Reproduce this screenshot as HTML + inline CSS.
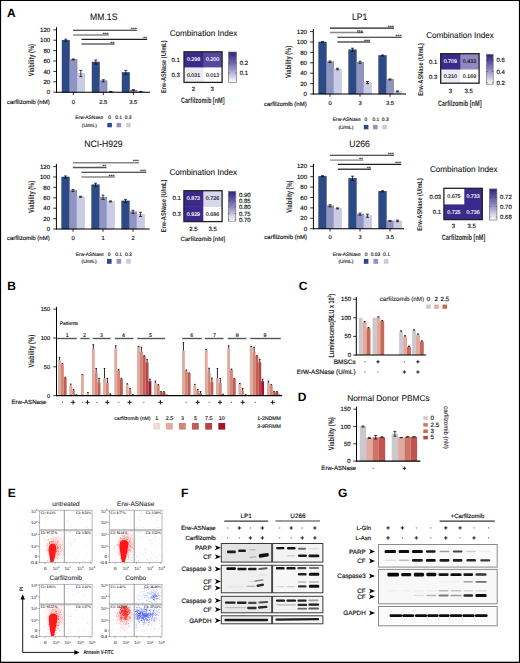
<!DOCTYPE html>
<html><head><meta charset="utf-8"><style>
html,body{margin:0;padding:0;background:#fff;}
body{width:520px;height:663px;overflow:hidden;}
svg{display:block;font-family:"Liberation Sans",sans-serif;text-rendering:geometricPrecision;}
</style></head><body>
<svg width="520" height="663" viewBox="0 0 520 663">
<rect x="0" y="0" width="520" height="663" fill="#fff"/>
<text x="7" y="16.83" font-size="12" text-anchor="start" fill="#000" font-weight="bold">A</text>
<line x1="56.5" y1="27.2" x2="56.5" y2="92.7" stroke="#000" stroke-width="1"/>
<line x1="53.3" y1="92.2" x2="56.5" y2="92.2" stroke="#000" stroke-width="0.8"/>
<text x="50.2" y="94.3" font-size="6.1" text-anchor="end" fill="#111" stroke="#111" stroke-width="0.16">0</text>
<line x1="53.3" y1="81.8" x2="56.5" y2="81.8" stroke="#000" stroke-width="0.8"/>
<text x="50.2" y="83.9" font-size="6.1" text-anchor="end" fill="#111" stroke="#111" stroke-width="0.16">20</text>
<line x1="53.3" y1="71.4" x2="56.5" y2="71.4" stroke="#000" stroke-width="0.8"/>
<text x="50.2" y="73.5" font-size="6.1" text-anchor="end" fill="#111" stroke="#111" stroke-width="0.16">40</text>
<line x1="53.3" y1="61" x2="56.5" y2="61" stroke="#000" stroke-width="0.8"/>
<text x="50.2" y="63.1" font-size="6.1" text-anchor="end" fill="#111" stroke="#111" stroke-width="0.16">60</text>
<line x1="53.3" y1="50.6" x2="56.5" y2="50.6" stroke="#000" stroke-width="0.8"/>
<text x="50.2" y="52.7" font-size="6.1" text-anchor="end" fill="#111" stroke="#111" stroke-width="0.16">80</text>
<line x1="53.3" y1="40.2" x2="56.5" y2="40.2" stroke="#000" stroke-width="0.8"/>
<text x="50.2" y="42.3" font-size="6.1" text-anchor="end" fill="#111" stroke="#111" stroke-width="0.16">100</text>
<line x1="53.3" y1="29.8" x2="56.5" y2="29.8" stroke="#000" stroke-width="0.8"/>
<text x="50.2" y="31.9" font-size="6.1" text-anchor="end" fill="#111" stroke="#111" stroke-width="0.16">120</text>
<rect x="62.05" y="40.2" width="7.5" height="52" fill="#2c4a86" stroke="#1e3668" stroke-width="0.5"/>
<line x1="65.8" y1="39.16" x2="65.8" y2="41.24" stroke="#111" stroke-width="0.8"/>
<line x1="64.3" y1="39.16" x2="67.3" y2="39.16" stroke="#111" stroke-width="0.8"/>
<line x1="64.3" y1="41.24" x2="67.3" y2="41.24" stroke="#111" stroke-width="0.8"/>
<rect x="69.55" y="59.44" width="7.5" height="32.76" fill="#8f94c0" stroke="#70769f" stroke-width="0.5"/>
<line x1="73.3" y1="58.92" x2="73.3" y2="59.96" stroke="#111" stroke-width="0.8"/>
<line x1="71.8" y1="58.92" x2="74.8" y2="58.92" stroke="#111" stroke-width="0.8"/>
<line x1="71.8" y1="59.96" x2="74.8" y2="59.96" stroke="#111" stroke-width="0.8"/>
<rect x="77.05" y="73.48" width="7.5" height="18.72" fill="#c9cce4" stroke="#aeb2d0" stroke-width="0.5"/>
<line x1="80.8" y1="70.36" x2="80.8" y2="76.6" stroke="#111" stroke-width="0.8"/>
<line x1="79.3" y1="70.36" x2="82.3" y2="70.36" stroke="#111" stroke-width="0.8"/>
<line x1="79.3" y1="76.6" x2="82.3" y2="76.6" stroke="#111" stroke-width="0.8"/>
<line x1="73.3" y1="92.2" x2="73.3" y2="95" stroke="#000" stroke-width="0.8"/>
<text x="73.3" y="103.7" font-size="5.8" text-anchor="middle" fill="#111" stroke="#111" stroke-width="0.15">0</text>
<rect x="92.05" y="62.04" width="7.5" height="30.16" fill="#2c4a86" stroke="#1e3668" stroke-width="0.5"/>
<line x1="95.8" y1="59.96" x2="95.8" y2="64.12" stroke="#111" stroke-width="0.8"/>
<line x1="94.3" y1="59.96" x2="97.3" y2="59.96" stroke="#111" stroke-width="0.8"/>
<line x1="94.3" y1="64.12" x2="97.3" y2="64.12" stroke="#111" stroke-width="0.8"/>
<rect x="99.55" y="80.76" width="7.5" height="11.44" fill="#8f94c0" stroke="#70769f" stroke-width="0.5"/>
<line x1="103.3" y1="79.72" x2="103.3" y2="81.8" stroke="#111" stroke-width="0.8"/>
<line x1="101.8" y1="79.72" x2="104.8" y2="79.72" stroke="#111" stroke-width="0.8"/>
<line x1="101.8" y1="81.8" x2="104.8" y2="81.8" stroke="#111" stroke-width="0.8"/>
<rect x="107.05" y="91.68" width="7.5" height="0.52" fill="#c9cce4" stroke="#aeb2d0" stroke-width="0.5"/>
<line x1="110.8" y1="91.37" x2="110.8" y2="91.99" stroke="#111" stroke-width="0.8"/>
<line x1="109.3" y1="91.37" x2="112.3" y2="91.37" stroke="#111" stroke-width="0.8"/>
<line x1="109.3" y1="91.99" x2="112.3" y2="91.99" stroke="#111" stroke-width="0.8"/>
<line x1="103.3" y1="92.2" x2="103.3" y2="95" stroke="#000" stroke-width="0.8"/>
<text x="103.3" y="103.7" font-size="5.8" text-anchor="middle" fill="#111" stroke="#111" stroke-width="0.15">2.5</text>
<rect x="122.05" y="72.44" width="7.5" height="19.76" fill="#2c4a86" stroke="#1e3668" stroke-width="0.5"/>
<line x1="125.8" y1="70.36" x2="125.8" y2="74.52" stroke="#111" stroke-width="0.8"/>
<line x1="124.3" y1="70.36" x2="127.3" y2="70.36" stroke="#111" stroke-width="0.8"/>
<line x1="124.3" y1="74.52" x2="127.3" y2="74.52" stroke="#111" stroke-width="0.8"/>
<rect x="129.55" y="90.12" width="7.5" height="2.08" fill="#8f94c0" stroke="#70769f" stroke-width="0.5"/>
<line x1="133.3" y1="89.6" x2="133.3" y2="90.64" stroke="#111" stroke-width="0.8"/>
<line x1="131.8" y1="89.6" x2="134.8" y2="89.6" stroke="#111" stroke-width="0.8"/>
<line x1="131.8" y1="90.64" x2="134.8" y2="90.64" stroke="#111" stroke-width="0.8"/>
<rect x="137.05" y="91.68" width="7.5" height="0.52" fill="#c9cce4" stroke="#aeb2d0" stroke-width="0.5"/>
<line x1="140.8" y1="91.37" x2="140.8" y2="91.99" stroke="#111" stroke-width="0.8"/>
<line x1="139.3" y1="91.37" x2="142.3" y2="91.37" stroke="#111" stroke-width="0.8"/>
<line x1="139.3" y1="91.99" x2="142.3" y2="91.99" stroke="#111" stroke-width="0.8"/>
<line x1="133.3" y1="92.2" x2="133.3" y2="95" stroke="#000" stroke-width="0.8"/>
<text x="133.3" y="103.7" font-size="5.8" text-anchor="middle" fill="#111" stroke="#111" stroke-width="0.15">3.5</text>
<line x1="56" y1="92.2" x2="150" y2="92.2" stroke="#000" stroke-width="1.1"/>
<text x="7" y="103.56" font-size="6" text-anchor="start" fill="#111" stroke="#111" stroke-width="0.16">carfilzomib (nM)</text>
<text transform="translate(103.75 20.23) scale(0.92 1)" font-size="9.4" text-anchor="middle" fill="#111" stroke="#111" stroke-width="0.08">MM.1S</text>
<text transform="translate(31 60.2) rotate(-90) scale(0.71 1)" x="0" y="2.75" font-size="8" text-anchor="middle" fill="#2a2a2a" font-weight="bold">Viability (%)</text>
<line x1="73" y1="30.2" x2="136.9" y2="30.2" stroke="#1e1e1e" stroke-width="1.1"/>
<text x="136.7" y="30.79" font-size="5.2" text-anchor="end" fill="#222" font-weight="bold">***</text>
<line x1="73" y1="35" x2="108.8" y2="35" stroke="#888" stroke-width="1.45"/>
<text x="108.6" y="35.59" font-size="5.2" text-anchor="end" fill="#222" font-weight="bold">***</text>
<line x1="81.5" y1="39.4" x2="147.2" y2="39.4" stroke="#1e1e1e" stroke-width="1.1"/>
<text x="147" y="39.99" font-size="5.2" text-anchor="end" fill="#222" font-weight="bold">**</text>
<line x1="81.5" y1="44" x2="114.6" y2="44" stroke="#666" stroke-width="1.45"/>
<text x="114.4" y="44.59" font-size="5.2" text-anchor="end" fill="#222" font-weight="bold">**</text>
<text x="103.3" y="119.49" font-size="4.9" text-anchor="end" fill="#111" stroke="#111" stroke-width="0.13">Erw-ASNase</text>
<text x="89.3" y="126.69" font-size="4.9" text-anchor="middle" fill="#111" stroke="#111" stroke-width="0.13">(U/mL)</text>
<text x="109.5" y="119.49" font-size="4.9" text-anchor="middle" fill="#111" stroke="#111" stroke-width="0.13">0</text>
<text x="118.6" y="119.49" font-size="4.9" text-anchor="middle" fill="#111" stroke="#111" stroke-width="0.13">0.1</text>
<text x="128.1" y="119.49" font-size="4.9" text-anchor="middle" fill="#111" stroke="#111" stroke-width="0.13">0.3</text>
<rect x="107.3" y="122.9" width="4.6" height="4.4" fill="#2c4a86"/>
<rect x="116.6" y="122.9" width="4.6" height="4.4" fill="#8f94c0"/>
<rect x="126.2" y="122.9" width="4.6" height="4.4" fill="#c9cce4"/>
<line x1="313.3" y1="29" x2="313.3" y2="94.5" stroke="#000" stroke-width="1"/>
<line x1="310.1" y1="94" x2="313.3" y2="94" stroke="#000" stroke-width="0.8"/>
<text x="307" y="96.1" font-size="6.1" text-anchor="end" fill="#111" stroke="#111" stroke-width="0.16">0</text>
<line x1="310.1" y1="83.6" x2="313.3" y2="83.6" stroke="#000" stroke-width="0.8"/>
<text x="307" y="85.7" font-size="6.1" text-anchor="end" fill="#111" stroke="#111" stroke-width="0.16">20</text>
<line x1="310.1" y1="73.2" x2="313.3" y2="73.2" stroke="#000" stroke-width="0.8"/>
<text x="307" y="75.3" font-size="6.1" text-anchor="end" fill="#111" stroke="#111" stroke-width="0.16">40</text>
<line x1="310.1" y1="62.8" x2="313.3" y2="62.8" stroke="#000" stroke-width="0.8"/>
<text x="307" y="64.9" font-size="6.1" text-anchor="end" fill="#111" stroke="#111" stroke-width="0.16">60</text>
<line x1="310.1" y1="52.4" x2="313.3" y2="52.4" stroke="#000" stroke-width="0.8"/>
<text x="307" y="54.5" font-size="6.1" text-anchor="end" fill="#111" stroke="#111" stroke-width="0.16">80</text>
<line x1="310.1" y1="42" x2="313.3" y2="42" stroke="#000" stroke-width="0.8"/>
<text x="307" y="44.1" font-size="6.1" text-anchor="end" fill="#111" stroke="#111" stroke-width="0.16">100</text>
<line x1="310.1" y1="31.6" x2="313.3" y2="31.6" stroke="#000" stroke-width="0.8"/>
<text x="307" y="33.7" font-size="6.1" text-anchor="end" fill="#111" stroke="#111" stroke-width="0.16">120</text>
<rect x="318.75" y="42" width="7.5" height="52" fill="#2c4a86" stroke="#1e3668" stroke-width="0.5"/>
<line x1="322.5" y1="41.69" x2="322.5" y2="42.31" stroke="#111" stroke-width="0.8"/>
<line x1="321" y1="41.69" x2="324" y2="41.69" stroke="#111" stroke-width="0.8"/>
<line x1="321" y1="42.31" x2="324" y2="42.31" stroke="#111" stroke-width="0.8"/>
<rect x="326.25" y="61.76" width="7.5" height="32.24" fill="#8f94c0" stroke="#70769f" stroke-width="0.5"/>
<line x1="330" y1="60.98" x2="330" y2="62.54" stroke="#111" stroke-width="0.8"/>
<line x1="328.5" y1="60.98" x2="331.5" y2="60.98" stroke="#111" stroke-width="0.8"/>
<line x1="328.5" y1="62.54" x2="331.5" y2="62.54" stroke="#111" stroke-width="0.8"/>
<rect x="333.75" y="69.04" width="7.5" height="24.96" fill="#c9cce4" stroke="#aeb2d0" stroke-width="0.5"/>
<line x1="337.5" y1="68.26" x2="337.5" y2="69.82" stroke="#111" stroke-width="0.8"/>
<line x1="336" y1="68.26" x2="339" y2="68.26" stroke="#111" stroke-width="0.8"/>
<line x1="336" y1="69.82" x2="339" y2="69.82" stroke="#111" stroke-width="0.8"/>
<line x1="330" y1="94" x2="330" y2="96.8" stroke="#000" stroke-width="0.8"/>
<text x="330" y="105.3" font-size="5.8" text-anchor="middle" fill="#111" stroke="#111" stroke-width="0.15">0</text>
<rect x="348.75" y="49.8" width="7.5" height="44.2" fill="#2c4a86" stroke="#1e3668" stroke-width="0.5"/>
<line x1="352.5" y1="48.24" x2="352.5" y2="51.36" stroke="#111" stroke-width="0.8"/>
<line x1="351" y1="48.24" x2="354" y2="48.24" stroke="#111" stroke-width="0.8"/>
<line x1="351" y1="51.36" x2="354" y2="51.36" stroke="#111" stroke-width="0.8"/>
<rect x="356.25" y="62.28" width="7.5" height="31.72" fill="#8f94c0" stroke="#70769f" stroke-width="0.5"/>
<line x1="360" y1="61.24" x2="360" y2="63.32" stroke="#111" stroke-width="0.8"/>
<line x1="358.5" y1="61.24" x2="361.5" y2="61.24" stroke="#111" stroke-width="0.8"/>
<line x1="358.5" y1="63.32" x2="361.5" y2="63.32" stroke="#111" stroke-width="0.8"/>
<rect x="363.75" y="82.56" width="7.5" height="11.44" fill="#c9cce4" stroke="#aeb2d0" stroke-width="0.5"/>
<line x1="367.5" y1="81.52" x2="367.5" y2="83.6" stroke="#111" stroke-width="0.8"/>
<line x1="366" y1="81.52" x2="369" y2="81.52" stroke="#111" stroke-width="0.8"/>
<line x1="366" y1="83.6" x2="369" y2="83.6" stroke="#111" stroke-width="0.8"/>
<line x1="360" y1="94" x2="360" y2="96.8" stroke="#000" stroke-width="0.8"/>
<text x="360" y="105.3" font-size="5.8" text-anchor="middle" fill="#111" stroke="#111" stroke-width="0.15">3</text>
<rect x="378.75" y="55.52" width="7.5" height="38.48" fill="#2c4a86" stroke="#1e3668" stroke-width="0.5"/>
<line x1="382.5" y1="55" x2="382.5" y2="56.04" stroke="#111" stroke-width="0.8"/>
<line x1="381" y1="55" x2="384" y2="55" stroke="#111" stroke-width="0.8"/>
<line x1="381" y1="56.04" x2="384" y2="56.04" stroke="#111" stroke-width="0.8"/>
<rect x="386.25" y="79.44" width="7.5" height="14.56" fill="#8f94c0" stroke="#70769f" stroke-width="0.5"/>
<line x1="390" y1="78.92" x2="390" y2="79.96" stroke="#111" stroke-width="0.8"/>
<line x1="388.5" y1="78.92" x2="391.5" y2="78.92" stroke="#111" stroke-width="0.8"/>
<line x1="388.5" y1="79.96" x2="391.5" y2="79.96" stroke="#111" stroke-width="0.8"/>
<rect x="393.75" y="91.4" width="7.5" height="2.6" fill="#c9cce4" stroke="#aeb2d0" stroke-width="0.5"/>
<line x1="397.5" y1="90.88" x2="397.5" y2="91.92" stroke="#111" stroke-width="0.8"/>
<line x1="396" y1="90.88" x2="399" y2="90.88" stroke="#111" stroke-width="0.8"/>
<line x1="396" y1="91.92" x2="399" y2="91.92" stroke="#111" stroke-width="0.8"/>
<line x1="390" y1="94" x2="390" y2="96.8" stroke="#000" stroke-width="0.8"/>
<text x="390" y="105.3" font-size="5.8" text-anchor="middle" fill="#111" stroke="#111" stroke-width="0.15">3.5</text>
<line x1="312.8" y1="94" x2="406" y2="94" stroke="#000" stroke-width="1.1"/>
<text x="264" y="105.86" font-size="6" text-anchor="start" fill="#111" stroke="#111" stroke-width="0.16">carfilzomib (nM)</text>
<text transform="translate(359.75 19.98) scale(0.92 1)" font-size="9.4" text-anchor="middle" fill="#111" stroke="#111" stroke-width="0.08">LP1</text>
<text transform="translate(288.5 62) rotate(-90) scale(0.71 1)" x="0" y="2.75" font-size="8" text-anchor="middle" fill="#2a2a2a" font-weight="bold">Viability (%)</text>
<line x1="329.9" y1="28.1" x2="394" y2="28.1" stroke="#1e1e1e" stroke-width="1.1"/>
<text x="393.8" y="28.69" font-size="5.2" text-anchor="end" fill="#222" font-weight="bold">***</text>
<line x1="329.9" y1="32.6" x2="363.3" y2="32.6" stroke="#888" stroke-width="1.45"/>
<text x="363.1" y="33.19" font-size="5.2" text-anchor="end" fill="#222" font-weight="bold">ns</text>
<line x1="337.3" y1="37.3" x2="401.8" y2="37.3" stroke="#1e1e1e" stroke-width="1.1"/>
<text x="401.6" y="37.89" font-size="5.2" text-anchor="end" fill="#222" font-weight="bold">***</text>
<line x1="337.3" y1="42" x2="370.2" y2="42" stroke="#555" stroke-width="1.45"/>
<text x="370" y="42.59" font-size="5.2" text-anchor="end" fill="#222" font-weight="bold">***</text>
<text x="360.8" y="121.19" font-size="4.9" text-anchor="end" fill="#111" stroke="#111" stroke-width="0.13">Erw-ASNase</text>
<text x="345.9" y="128.89" font-size="4.9" text-anchor="middle" fill="#111" stroke="#111" stroke-width="0.13">(U/mL)</text>
<text x="365.8" y="121.19" font-size="4.9" text-anchor="middle" fill="#111" stroke="#111" stroke-width="0.13">0</text>
<text x="375.9" y="121.19" font-size="4.9" text-anchor="middle" fill="#111" stroke="#111" stroke-width="0.13">0.1</text>
<text x="385.25" y="121.19" font-size="4.9" text-anchor="middle" fill="#111" stroke="#111" stroke-width="0.13">0.3</text>
<rect x="363.8" y="124.9" width="4.6" height="4.4" fill="#2c4a86"/>
<rect x="373" y="124.9" width="4.6" height="4.4" fill="#8f94c0"/>
<rect x="382.3" y="124.9" width="4.6" height="4.4" fill="#c9cce4"/>
<line x1="56.4" y1="163.9" x2="56.4" y2="229.5" stroke="#000" stroke-width="1"/>
<line x1="53.2" y1="229" x2="56.4" y2="229" stroke="#000" stroke-width="0.8"/>
<text x="50.1" y="231.1" font-size="6.1" text-anchor="end" fill="#111" stroke="#111" stroke-width="0.16">0</text>
<line x1="53.2" y1="218.6" x2="56.4" y2="218.6" stroke="#000" stroke-width="0.8"/>
<text x="50.1" y="220.7" font-size="6.1" text-anchor="end" fill="#111" stroke="#111" stroke-width="0.16">20</text>
<line x1="53.2" y1="208.2" x2="56.4" y2="208.2" stroke="#000" stroke-width="0.8"/>
<text x="50.1" y="210.3" font-size="6.1" text-anchor="end" fill="#111" stroke="#111" stroke-width="0.16">40</text>
<line x1="53.2" y1="197.8" x2="56.4" y2="197.8" stroke="#000" stroke-width="0.8"/>
<text x="50.1" y="199.9" font-size="6.1" text-anchor="end" fill="#111" stroke="#111" stroke-width="0.16">60</text>
<line x1="53.2" y1="187.4" x2="56.4" y2="187.4" stroke="#000" stroke-width="0.8"/>
<text x="50.1" y="189.5" font-size="6.1" text-anchor="end" fill="#111" stroke="#111" stroke-width="0.16">80</text>
<line x1="53.2" y1="177" x2="56.4" y2="177" stroke="#000" stroke-width="0.8"/>
<text x="50.1" y="179.1" font-size="6.1" text-anchor="end" fill="#111" stroke="#111" stroke-width="0.16">100</text>
<line x1="53.2" y1="166.6" x2="56.4" y2="166.6" stroke="#000" stroke-width="0.8"/>
<text x="50.1" y="168.7" font-size="6.1" text-anchor="end" fill="#111" stroke="#111" stroke-width="0.16">120</text>
<rect x="61.75" y="177" width="7.5" height="52" fill="#2c4a86" stroke="#1e3668" stroke-width="0.5"/>
<line x1="65.5" y1="175.96" x2="65.5" y2="178.04" stroke="#111" stroke-width="0.8"/>
<line x1="64" y1="175.96" x2="67" y2="175.96" stroke="#111" stroke-width="0.8"/>
<line x1="64" y1="178.04" x2="67" y2="178.04" stroke="#111" stroke-width="0.8"/>
<rect x="69.25" y="190.52" width="7.5" height="38.48" fill="#8f94c0" stroke="#70769f" stroke-width="0.5"/>
<line x1="73" y1="189.48" x2="73" y2="191.56" stroke="#111" stroke-width="0.8"/>
<line x1="71.5" y1="189.48" x2="74.5" y2="189.48" stroke="#111" stroke-width="0.8"/>
<line x1="71.5" y1="191.56" x2="74.5" y2="191.56" stroke="#111" stroke-width="0.8"/>
<rect x="76.75" y="196.76" width="7.5" height="32.24" fill="#c9cce4" stroke="#aeb2d0" stroke-width="0.5"/>
<line x1="80.5" y1="196.24" x2="80.5" y2="197.28" stroke="#111" stroke-width="0.8"/>
<line x1="79" y1="196.24" x2="82" y2="196.24" stroke="#111" stroke-width="0.8"/>
<line x1="79" y1="197.28" x2="82" y2="197.28" stroke="#111" stroke-width="0.8"/>
<line x1="73" y1="229" x2="73" y2="231.8" stroke="#000" stroke-width="0.8"/>
<text x="73" y="240.2" font-size="5.8" text-anchor="middle" fill="#111" stroke="#111" stroke-width="0.15">0</text>
<rect x="91.75" y="184.8" width="7.5" height="44.2" fill="#2c4a86" stroke="#1e3668" stroke-width="0.5"/>
<line x1="95.5" y1="183.24" x2="95.5" y2="186.36" stroke="#111" stroke-width="0.8"/>
<line x1="94" y1="183.24" x2="97" y2="183.24" stroke="#111" stroke-width="0.8"/>
<line x1="94" y1="186.36" x2="97" y2="186.36" stroke="#111" stroke-width="0.8"/>
<rect x="99.25" y="197.28" width="7.5" height="31.72" fill="#8f94c0" stroke="#70769f" stroke-width="0.5"/>
<line x1="103" y1="195.2" x2="103" y2="199.36" stroke="#111" stroke-width="0.8"/>
<line x1="101.5" y1="195.2" x2="104.5" y2="195.2" stroke="#111" stroke-width="0.8"/>
<line x1="101.5" y1="199.36" x2="104.5" y2="199.36" stroke="#111" stroke-width="0.8"/>
<rect x="106.75" y="201.44" width="7.5" height="27.56" fill="#c9cce4" stroke="#aeb2d0" stroke-width="0.5"/>
<line x1="110.5" y1="200.92" x2="110.5" y2="201.96" stroke="#111" stroke-width="0.8"/>
<line x1="109" y1="200.92" x2="112" y2="200.92" stroke="#111" stroke-width="0.8"/>
<line x1="109" y1="201.96" x2="112" y2="201.96" stroke="#111" stroke-width="0.8"/>
<line x1="103" y1="229" x2="103" y2="231.8" stroke="#000" stroke-width="0.8"/>
<text x="103" y="240.2" font-size="5.8" text-anchor="middle" fill="#111" stroke="#111" stroke-width="0.15">1</text>
<rect x="121.75" y="200.92" width="7.5" height="28.08" fill="#2c4a86" stroke="#1e3668" stroke-width="0.5"/>
<line x1="125.5" y1="199.36" x2="125.5" y2="202.48" stroke="#111" stroke-width="0.8"/>
<line x1="124" y1="199.36" x2="127" y2="199.36" stroke="#111" stroke-width="0.8"/>
<line x1="124" y1="202.48" x2="127" y2="202.48" stroke="#111" stroke-width="0.8"/>
<rect x="129.25" y="211.84" width="7.5" height="17.16" fill="#8f94c0" stroke="#70769f" stroke-width="0.5"/>
<line x1="133" y1="210.28" x2="133" y2="213.4" stroke="#111" stroke-width="0.8"/>
<line x1="131.5" y1="210.28" x2="134.5" y2="210.28" stroke="#111" stroke-width="0.8"/>
<line x1="131.5" y1="213.4" x2="134.5" y2="213.4" stroke="#111" stroke-width="0.8"/>
<rect x="136.75" y="214.44" width="7.5" height="14.56" fill="#c9cce4" stroke="#aeb2d0" stroke-width="0.5"/>
<line x1="140.5" y1="212.36" x2="140.5" y2="216.52" stroke="#111" stroke-width="0.8"/>
<line x1="139" y1="212.36" x2="142" y2="212.36" stroke="#111" stroke-width="0.8"/>
<line x1="139" y1="216.52" x2="142" y2="216.52" stroke="#111" stroke-width="0.8"/>
<line x1="133" y1="229" x2="133" y2="231.8" stroke="#000" stroke-width="0.8"/>
<text x="133" y="240.2" font-size="5.8" text-anchor="middle" fill="#111" stroke="#111" stroke-width="0.15">2</text>
<line x1="55.9" y1="229" x2="149.7" y2="229" stroke="#000" stroke-width="1.1"/>
<text x="7" y="240.06" font-size="6" text-anchor="start" fill="#111" stroke="#111" stroke-width="0.16">carfilzomib (nM)</text>
<text transform="translate(103.5 146.98) scale(0.92 1)" font-size="9.4" text-anchor="middle" fill="#111" stroke="#111" stroke-width="0.08">NCI-H929</text>
<text transform="translate(31.5 197) rotate(-90) scale(0.71 1)" x="0" y="2.75" font-size="8" text-anchor="middle" fill="#2a2a2a" font-weight="bold">Viability (%)</text>
<line x1="72.8" y1="162.8" x2="139" y2="162.8" stroke="#888" stroke-width="1.45"/>
<text x="138.8" y="163.39" font-size="5.2" text-anchor="end" fill="#222" font-weight="bold">***</text>
<line x1="72.8" y1="167.5" x2="106.5" y2="167.5" stroke="#555" stroke-width="1.45"/>
<text x="106.3" y="168.09" font-size="5.2" text-anchor="end" fill="#222" font-weight="bold">**</text>
<line x1="81.4" y1="172.3" x2="146.3" y2="172.3" stroke="#1e1e1e" stroke-width="1.1"/>
<text x="146.1" y="172.89" font-size="5.2" text-anchor="end" fill="#222" font-weight="bold">***</text>
<line x1="81.4" y1="177" x2="114.8" y2="177" stroke="#888" stroke-width="1.45"/>
<text x="114.6" y="177.59" font-size="5.2" text-anchor="end" fill="#222" font-weight="bold">***</text>
<text x="103.8" y="255.89" font-size="4.9" text-anchor="end" fill="#111" stroke="#111" stroke-width="0.13">Erw-ASNase</text>
<text x="89.1" y="263.19" font-size="4.9" text-anchor="middle" fill="#111" stroke="#111" stroke-width="0.13">(U/mL)</text>
<text x="109.2" y="255.89" font-size="4.9" text-anchor="middle" fill="#111" stroke="#111" stroke-width="0.13">0</text>
<text x="118.6" y="255.89" font-size="4.9" text-anchor="middle" fill="#111" stroke="#111" stroke-width="0.13">0.1</text>
<text x="128.3" y="255.89" font-size="4.9" text-anchor="middle" fill="#111" stroke="#111" stroke-width="0.13">0.3</text>
<rect x="107" y="258.9" width="4.6" height="4.9" fill="#2c4a86"/>
<rect x="116.6" y="258.9" width="4.6" height="4.9" fill="#8f94c0"/>
<rect x="126.2" y="258.9" width="4.6" height="4.9" fill="#c9cce4"/>
<line x1="313.4" y1="163.8" x2="313.4" y2="229.2" stroke="#000" stroke-width="1"/>
<line x1="310.2" y1="228.7" x2="313.4" y2="228.7" stroke="#000" stroke-width="0.8"/>
<text x="307.1" y="230.8" font-size="6.1" text-anchor="end" fill="#111" stroke="#111" stroke-width="0.16">0</text>
<line x1="310.2" y1="218.3" x2="313.4" y2="218.3" stroke="#000" stroke-width="0.8"/>
<text x="307.1" y="220.4" font-size="6.1" text-anchor="end" fill="#111" stroke="#111" stroke-width="0.16">20</text>
<line x1="310.2" y1="207.9" x2="313.4" y2="207.9" stroke="#000" stroke-width="0.8"/>
<text x="307.1" y="210" font-size="6.1" text-anchor="end" fill="#111" stroke="#111" stroke-width="0.16">40</text>
<line x1="310.2" y1="197.5" x2="313.4" y2="197.5" stroke="#000" stroke-width="0.8"/>
<text x="307.1" y="199.6" font-size="6.1" text-anchor="end" fill="#111" stroke="#111" stroke-width="0.16">60</text>
<line x1="310.2" y1="187.1" x2="313.4" y2="187.1" stroke="#000" stroke-width="0.8"/>
<text x="307.1" y="189.2" font-size="6.1" text-anchor="end" fill="#111" stroke="#111" stroke-width="0.16">80</text>
<line x1="310.2" y1="176.7" x2="313.4" y2="176.7" stroke="#000" stroke-width="0.8"/>
<text x="307.1" y="178.8" font-size="6.1" text-anchor="end" fill="#111" stroke="#111" stroke-width="0.16">100</text>
<line x1="310.2" y1="166.3" x2="313.4" y2="166.3" stroke="#000" stroke-width="0.8"/>
<text x="307.1" y="168.4" font-size="6.1" text-anchor="end" fill="#111" stroke="#111" stroke-width="0.16">120</text>
<rect x="318.75" y="176.18" width="7.5" height="52.52" fill="#2c4a86" stroke="#1e3668" stroke-width="0.5"/>
<line x1="322.5" y1="175.66" x2="322.5" y2="176.7" stroke="#111" stroke-width="0.8"/>
<line x1="321" y1="175.66" x2="324" y2="175.66" stroke="#111" stroke-width="0.8"/>
<line x1="321" y1="176.7" x2="324" y2="176.7" stroke="#111" stroke-width="0.8"/>
<rect x="326.25" y="205.82" width="7.5" height="22.88" fill="#8f94c0" stroke="#70769f" stroke-width="0.5"/>
<line x1="330" y1="204.78" x2="330" y2="206.86" stroke="#111" stroke-width="0.8"/>
<line x1="328.5" y1="204.78" x2="331.5" y2="204.78" stroke="#111" stroke-width="0.8"/>
<line x1="328.5" y1="206.86" x2="331.5" y2="206.86" stroke="#111" stroke-width="0.8"/>
<rect x="333.75" y="208.42" width="7.5" height="20.28" fill="#c9cce4" stroke="#aeb2d0" stroke-width="0.5"/>
<line x1="337.5" y1="207.9" x2="337.5" y2="208.94" stroke="#111" stroke-width="0.8"/>
<line x1="336" y1="207.9" x2="339" y2="207.9" stroke="#111" stroke-width="0.8"/>
<line x1="336" y1="208.94" x2="339" y2="208.94" stroke="#111" stroke-width="0.8"/>
<line x1="330" y1="228.7" x2="330" y2="231.5" stroke="#000" stroke-width="0.8"/>
<text x="330" y="239.4" font-size="5.8" text-anchor="middle" fill="#111" stroke="#111" stroke-width="0.15">0</text>
<rect x="348.75" y="178.26" width="7.5" height="50.44" fill="#2c4a86" stroke="#1e3668" stroke-width="0.5"/>
<line x1="352.5" y1="176.18" x2="352.5" y2="180.34" stroke="#111" stroke-width="0.8"/>
<line x1="351" y1="176.18" x2="354" y2="176.18" stroke="#111" stroke-width="0.8"/>
<line x1="351" y1="180.34" x2="354" y2="180.34" stroke="#111" stroke-width="0.8"/>
<rect x="356.25" y="214.14" width="7.5" height="14.56" fill="#8f94c0" stroke="#70769f" stroke-width="0.5"/>
<line x1="360" y1="213.1" x2="360" y2="215.18" stroke="#111" stroke-width="0.8"/>
<line x1="358.5" y1="213.1" x2="361.5" y2="213.1" stroke="#111" stroke-width="0.8"/>
<line x1="358.5" y1="215.18" x2="361.5" y2="215.18" stroke="#111" stroke-width="0.8"/>
<rect x="363.75" y="215.7" width="7.5" height="13" fill="#c9cce4" stroke="#aeb2d0" stroke-width="0.5"/>
<line x1="367.5" y1="214.14" x2="367.5" y2="217.26" stroke="#111" stroke-width="0.8"/>
<line x1="366" y1="214.14" x2="369" y2="214.14" stroke="#111" stroke-width="0.8"/>
<line x1="366" y1="217.26" x2="369" y2="217.26" stroke="#111" stroke-width="0.8"/>
<line x1="360" y1="228.7" x2="360" y2="231.5" stroke="#000" stroke-width="0.8"/>
<text x="360" y="239.4" font-size="5.8" text-anchor="middle" fill="#111" stroke="#111" stroke-width="0.15">3</text>
<rect x="378.75" y="191.26" width="7.5" height="37.44" fill="#2c4a86" stroke="#1e3668" stroke-width="0.5"/>
<line x1="382.5" y1="190.74" x2="382.5" y2="191.78" stroke="#111" stroke-width="0.8"/>
<line x1="381" y1="190.74" x2="384" y2="190.74" stroke="#111" stroke-width="0.8"/>
<line x1="381" y1="191.78" x2="384" y2="191.78" stroke="#111" stroke-width="0.8"/>
<rect x="386.25" y="220.9" width="7.5" height="7.8" fill="#8f94c0" stroke="#70769f" stroke-width="0.5"/>
<line x1="390" y1="220.38" x2="390" y2="221.42" stroke="#111" stroke-width="0.8"/>
<line x1="388.5" y1="220.38" x2="391.5" y2="220.38" stroke="#111" stroke-width="0.8"/>
<line x1="388.5" y1="221.42" x2="391.5" y2="221.42" stroke="#111" stroke-width="0.8"/>
<rect x="393.75" y="220.9" width="7.5" height="7.8" fill="#c9cce4" stroke="#aeb2d0" stroke-width="0.5"/>
<line x1="397.5" y1="220.12" x2="397.5" y2="221.68" stroke="#111" stroke-width="0.8"/>
<line x1="396" y1="220.12" x2="399" y2="220.12" stroke="#111" stroke-width="0.8"/>
<line x1="396" y1="221.68" x2="399" y2="221.68" stroke="#111" stroke-width="0.8"/>
<line x1="390" y1="228.7" x2="390" y2="231.5" stroke="#000" stroke-width="0.8"/>
<text x="390" y="239.4" font-size="5.8" text-anchor="middle" fill="#111" stroke="#111" stroke-width="0.15">3.5</text>
<line x1="312.9" y1="228.7" x2="404" y2="228.7" stroke="#000" stroke-width="1.1"/>
<text x="264.3" y="239.46" font-size="6" text-anchor="start" fill="#111" stroke="#111" stroke-width="0.16">carfilzomib (nM)</text>
<text transform="translate(359.5 147.43) scale(0.92 1)" font-size="9.4" text-anchor="middle" fill="#111" stroke="#111" stroke-width="0.08">U266</text>
<text transform="translate(288.8 196.7) rotate(-90) scale(0.71 1)" x="0" y="2.75" font-size="8" text-anchor="middle" fill="#2a2a2a" font-weight="bold">Viability (%)</text>
<line x1="330" y1="155.3" x2="394" y2="155.3" stroke="#1e1e1e" stroke-width="1.1"/>
<text x="393.8" y="155.89" font-size="5.2" text-anchor="end" fill="#222" font-weight="bold">***</text>
<line x1="330" y1="160.1" x2="363.3" y2="160.1" stroke="#888" stroke-width="1.45"/>
<text x="363.1" y="160.69" font-size="5.2" text-anchor="end" fill="#222" font-weight="bold">**</text>
<line x1="337.8" y1="164.4" x2="401.3" y2="164.4" stroke="#1e1e1e" stroke-width="1.1"/>
<text x="401.1" y="164.99" font-size="5.2" text-anchor="end" fill="#222" font-weight="bold">***</text>
<line x1="337.8" y1="169.3" x2="371" y2="169.3" stroke="#444" stroke-width="1.45"/>
<text x="370.8" y="169.89" font-size="5.2" text-anchor="end" fill="#222" font-weight="bold">**</text>
<text x="360.8" y="255.99" font-size="4.9" text-anchor="end" fill="#111" stroke="#111" stroke-width="0.13">Erw-ASNase</text>
<text x="345.9" y="263.19" font-size="4.9" text-anchor="middle" fill="#111" stroke="#111" stroke-width="0.13">(U/mL)</text>
<text x="366.2" y="255.99" font-size="4.9" text-anchor="middle" fill="#111" stroke="#111" stroke-width="0.13">0</text>
<text x="375.5" y="255.99" font-size="4.9" text-anchor="middle" fill="#111" stroke="#111" stroke-width="0.13">0.03</text>
<text x="386.5" y="255.99" font-size="4.9" text-anchor="middle" fill="#111" stroke="#111" stroke-width="0.13">0.1</text>
<rect x="363.8" y="258.9" width="4.6" height="4.9" fill="#2c4a86"/>
<rect x="373.4" y="258.9" width="4.6" height="4.9" fill="#8f94c0"/>
<rect x="383.8" y="258.9" width="4.6" height="4.9" fill="#c9cce4"/>
<text transform="translate(203.5 36.09) scale(0.97 1)" font-size="8.4" text-anchor="middle" fill="#111" stroke="#111" stroke-width="0.08">Combination Index</text>
<rect x="203.1" y="67" width="19" height="15.4" fill="#ffffff"/>
<text x="212.6" y="76.52" font-size="5.3" text-anchor="middle" fill="#111" stroke="#111" stroke-width="0.14">0.013</text>
<rect x="184" y="67" width="19.5" height="15.4" fill="#ececf6"/>
<text x="193.55" y="76.52" font-size="5.3" text-anchor="middle" fill="#111" stroke="#111" stroke-width="0.14">0.031</text>
<rect x="203.1" y="51.8" width="19" height="15.6" fill="#5548a0"/>
<text x="212.6" y="61.22" font-size="5.3" text-anchor="middle" fill="#fff" stroke="#fff" stroke-width="0.14">0.200</text>
<rect x="184" y="51.8" width="19.5" height="15.6" fill="#3b2a8c"/>
<text x="193.55" y="61.22" font-size="5.3" text-anchor="middle" fill="#fff" stroke="#fff" stroke-width="0.14">0.298</text>
<rect x="184" y="51.8" width="38.1" height="30.6" fill="none" stroke="#222" stroke-width="1.3"/>
<text x="175.6" y="61.66" font-size="6" text-anchor="middle" fill="#111" stroke="#111" stroke-width="0.16">0.1</text>
<text x="175.6" y="77.46" font-size="6" text-anchor="middle" fill="#111" stroke="#111" stroke-width="0.16">0.3</text>
<text x="193.5" y="91.46" font-size="6" text-anchor="middle" fill="#111" stroke="#111" stroke-width="0.16">2</text>
<text x="212.1" y="91.46" font-size="6" text-anchor="middle" fill="#111" stroke="#111" stroke-width="0.16">3</text>
<text transform="translate(202.8 103.3) scale(0.71 1)" font-size="7.85" text-anchor="middle" fill="#2a2a2a" font-weight="bold">Carfilzomib [nM]</text>
<text transform="translate(163.6 66.8) rotate(-90) scale(0.8 1)" x="0" y="2.41" font-size="7" text-anchor="middle" fill="#2a2a2a" font-weight="bold">Erw-ASNase (U/mL)</text>
<defs><linearGradient id="g228" x1="0" y1="0" x2="0" y2="1"><stop offset="0" stop-color="#2e1f7e"/><stop offset="0.5" stop-color="#8a84c0"/><stop offset="1" stop-color="#ffffff"/></linearGradient></defs>
<rect x="228.4" y="52" width="8.1" height="30.4" fill="url(#g228)" stroke="#777" stroke-width="0.7"/>
<line x1="228.4" y1="63" x2="229.6" y2="63" stroke="#333" stroke-width="0.6"/>
<line x1="235.3" y1="63" x2="236.5" y2="63" stroke="#333" stroke-width="0.6"/>
<text x="239.7" y="65.06" font-size="6" text-anchor="start" fill="#111" stroke="#111" stroke-width="0.16">0.2</text>
<line x1="228.4" y1="73" x2="229.6" y2="73" stroke="#333" stroke-width="0.6"/>
<line x1="235.3" y1="73" x2="236.5" y2="73" stroke="#333" stroke-width="0.6"/>
<text x="239.7" y="75.06" font-size="6" text-anchor="start" fill="#111" stroke="#111" stroke-width="0.16">0.1</text>
<text transform="translate(460 37.99) scale(0.97 1)" font-size="8.4" text-anchor="middle" fill="#111" stroke="#111" stroke-width="0.08">Combination Index</text>
<rect x="459.9" y="69.1" width="19.2" height="14.1" fill="#ffffff"/>
<text x="469.5" y="77.97" font-size="5.3" text-anchor="middle" fill="#111" stroke="#111" stroke-width="0.14">0.169</text>
<rect x="440.7" y="69.1" width="19.6" height="14.1" fill="#ececf6"/>
<text x="450.3" y="77.97" font-size="5.3" text-anchor="middle" fill="#111" stroke="#111" stroke-width="0.14">0.210</text>
<rect x="459.9" y="53.7" width="19.2" height="15.8" fill="#9089c4"/>
<text x="469.5" y="63.22" font-size="5.3" text-anchor="middle" fill="#111" stroke="#111" stroke-width="0.14">0.432</text>
<rect x="440.7" y="53.7" width="19.6" height="15.8" fill="#3b2a8c"/>
<text x="450.3" y="63.22" font-size="5.3" text-anchor="middle" fill="#fff" stroke="#fff" stroke-width="0.14">0.709</text>
<rect x="440.7" y="53.7" width="38.4" height="29.5" fill="none" stroke="#222" stroke-width="1.3"/>
<text x="433.2" y="63.86" font-size="6" text-anchor="middle" fill="#111" stroke="#111" stroke-width="0.16">0.1</text>
<text x="433.2" y="79.06" font-size="6" text-anchor="middle" fill="#111" stroke="#111" stroke-width="0.16">0.3</text>
<text x="450.4" y="93.16" font-size="6" text-anchor="middle" fill="#111" stroke="#111" stroke-width="0.16">3</text>
<text x="468.6" y="93.16" font-size="6" text-anchor="middle" fill="#111" stroke="#111" stroke-width="0.16">3.5</text>
<text transform="translate(459.7 105.5) scale(0.71 1)" font-size="7.85" text-anchor="middle" fill="#2a2a2a" font-weight="bold">Carfilzomib [nM]</text>
<text transform="translate(420.5 69.5) rotate(-90) scale(0.8 1)" x="0" y="2.41" font-size="7" text-anchor="middle" fill="#2a2a2a" font-weight="bold">Erw-ASNase (U/mL)</text>
<defs><linearGradient id="g486" x1="0" y1="0" x2="0" y2="1"><stop offset="0" stop-color="#2e1f7e"/><stop offset="0.5" stop-color="#8a84c0"/><stop offset="1" stop-color="#ffffff"/></linearGradient></defs>
<rect x="486.4" y="54.3" width="6.8" height="29.9" fill="url(#g486)" stroke="#777" stroke-width="0.7"/>
<line x1="486.4" y1="60.4" x2="487.6" y2="60.4" stroke="#333" stroke-width="0.6"/>
<line x1="492" y1="60.4" x2="493.2" y2="60.4" stroke="#333" stroke-width="0.6"/>
<text x="496.4" y="62.46" font-size="6" text-anchor="start" fill="#111" stroke="#111" stroke-width="0.16">0.6</text>
<line x1="486.4" y1="71.5" x2="487.6" y2="71.5" stroke="#333" stroke-width="0.6"/>
<line x1="492" y1="71.5" x2="493.2" y2="71.5" stroke="#333" stroke-width="0.6"/>
<text x="496.4" y="73.56" font-size="6" text-anchor="start" fill="#111" stroke="#111" stroke-width="0.16">0.4</text>
<line x1="486.4" y1="82.6" x2="487.6" y2="82.6" stroke="#333" stroke-width="0.6"/>
<line x1="492" y1="82.6" x2="493.2" y2="82.6" stroke="#333" stroke-width="0.6"/>
<text x="496.4" y="84.66" font-size="6" text-anchor="start" fill="#111" stroke="#111" stroke-width="0.16">0.2</text>
<text transform="translate(203.25 174.89) scale(0.97 1)" font-size="8.4" text-anchor="middle" fill="#111" stroke="#111" stroke-width="0.08">Combination Index</text>
<rect x="202.9" y="206.5" width="19.2" height="15.1" fill="#ffffff"/>
<text x="212.5" y="215.87" font-size="5.3" text-anchor="middle" fill="#111" stroke="#111" stroke-width="0.14">0.686</text>
<rect x="183.9" y="206.5" width="19.4" height="15.1" fill="#3b2a8c"/>
<text x="193.4" y="215.87" font-size="5.3" text-anchor="middle" fill="#fff" stroke="#fff" stroke-width="0.14">0.929</text>
<rect x="202.9" y="190.7" width="19.2" height="16.2" fill="#d8d6ec"/>
<text x="212.5" y="200.42" font-size="5.3" text-anchor="middle" fill="#111" stroke="#111" stroke-width="0.14">0.726</text>
<rect x="183.9" y="190.7" width="19.4" height="16.2" fill="#3b2a8c"/>
<text x="193.4" y="200.42" font-size="5.3" text-anchor="middle" fill="#fff" stroke="#fff" stroke-width="0.14">0.873</text>
<rect x="183.9" y="190.7" width="38.2" height="30.9" fill="none" stroke="#222" stroke-width="1.3"/>
<text x="176.6" y="200.46" font-size="6" text-anchor="middle" fill="#111" stroke="#111" stroke-width="0.16">0.1</text>
<text x="176.6" y="216.16" font-size="6" text-anchor="middle" fill="#111" stroke="#111" stroke-width="0.16">0.3</text>
<text x="193.4" y="230.76" font-size="6" text-anchor="middle" fill="#111" stroke="#111" stroke-width="0.16">2.5</text>
<text x="212.6" y="230.76" font-size="6" text-anchor="middle" fill="#111" stroke="#111" stroke-width="0.16">3.5</text>
<text x="202.8" y="240.53" font-size="6.2" text-anchor="middle" fill="#222" stroke="#222" stroke-width="0.16">Carfilzomib [nM]</text>
<text transform="translate(163.5 206) rotate(-90) scale(0.8 1)" x="0" y="2.41" font-size="7" text-anchor="middle" fill="#2a2a2a" font-weight="bold">Erw-ASNase (U/mL)</text>
<defs><linearGradient id="g228" x1="0" y1="0" x2="0" y2="1"><stop offset="0" stop-color="#2e1f7e"/><stop offset="0.5" stop-color="#8a84c0"/><stop offset="1" stop-color="#ffffff"/></linearGradient></defs>
<rect x="228.3" y="191.3" width="7.5" height="29.9" fill="url(#g228)" stroke="#777" stroke-width="0.7"/>
<line x1="228.3" y1="194.7" x2="229.5" y2="194.7" stroke="#333" stroke-width="0.6"/>
<line x1="234.6" y1="194.7" x2="235.8" y2="194.7" stroke="#333" stroke-width="0.6"/>
<text x="239" y="196.76" font-size="6" text-anchor="start" fill="#111" stroke="#111" stroke-width="0.16">0.90</text>
<line x1="228.3" y1="201" x2="229.5" y2="201" stroke="#333" stroke-width="0.6"/>
<line x1="234.6" y1="201" x2="235.8" y2="201" stroke="#333" stroke-width="0.6"/>
<text x="239" y="203.06" font-size="6" text-anchor="start" fill="#111" stroke="#111" stroke-width="0.16">0.85</text>
<line x1="228.3" y1="207" x2="229.5" y2="207" stroke="#333" stroke-width="0.6"/>
<line x1="234.6" y1="207" x2="235.8" y2="207" stroke="#333" stroke-width="0.6"/>
<text x="239" y="209.06" font-size="6" text-anchor="start" fill="#111" stroke="#111" stroke-width="0.16">0.80</text>
<line x1="228.3" y1="213.5" x2="229.5" y2="213.5" stroke="#333" stroke-width="0.6"/>
<line x1="234.6" y1="213.5" x2="235.8" y2="213.5" stroke="#333" stroke-width="0.6"/>
<text x="239" y="215.56" font-size="6" text-anchor="start" fill="#111" stroke="#111" stroke-width="0.16">0.75</text>
<line x1="228.3" y1="219.6" x2="229.5" y2="219.6" stroke="#333" stroke-width="0.6"/>
<line x1="234.6" y1="219.6" x2="235.8" y2="219.6" stroke="#333" stroke-width="0.6"/>
<text x="239" y="221.66" font-size="6" text-anchor="start" fill="#111" stroke="#111" stroke-width="0.16">0.70</text>
<text transform="translate(463.75 172.49) scale(0.97 1)" font-size="8.4" text-anchor="middle" fill="#111" stroke="#111" stroke-width="0.08">Combination Index</text>
<rect x="463.9" y="204" width="18.4" height="15.6" fill="#3b2a8c"/>
<text x="473.1" y="213.62" font-size="5.3" text-anchor="middle" fill="#fff" stroke="#fff" stroke-width="0.14">0.736</text>
<rect x="443.9" y="204" width="20.4" height="15.6" fill="#3b2a8c"/>
<text x="453.9" y="213.62" font-size="5.3" text-anchor="middle" fill="#fff" stroke="#fff" stroke-width="0.14">0.725</text>
<rect x="463.9" y="188.3" width="18.4" height="16.1" fill="#3b2a8c"/>
<text x="473.1" y="197.97" font-size="5.3" text-anchor="middle" fill="#fff" stroke="#fff" stroke-width="0.14">0.733</text>
<rect x="443.9" y="188.3" width="20.4" height="16.1" fill="#ffffff"/>
<text x="453.9" y="197.97" font-size="5.3" text-anchor="middle" fill="#111" stroke="#111" stroke-width="0.14">0.675</text>
<rect x="443.9" y="188.3" width="38.4" height="31.3" fill="none" stroke="#222" stroke-width="1.3"/>
<text x="435.3" y="198.86" font-size="6" text-anchor="middle" fill="#111" stroke="#111" stroke-width="0.16">0.03</text>
<text x="436.9" y="214.16" font-size="6" text-anchor="middle" fill="#111" stroke="#111" stroke-width="0.16">0.1</text>
<text x="453.4" y="228.36" font-size="6" text-anchor="middle" fill="#111" stroke="#111" stroke-width="0.16">3</text>
<text x="471.6" y="228.36" font-size="6" text-anchor="middle" fill="#111" stroke="#111" stroke-width="0.16">3.5</text>
<text transform="translate(463.5 239.9) scale(0.71 1)" font-size="7.85" text-anchor="middle" fill="#2a2a2a" font-weight="bold">Carfilzomib [nM]</text>
<text transform="translate(419.9 204.5) rotate(-90) scale(0.8 1)" x="0" y="2.41" font-size="7" text-anchor="middle" fill="#2a2a2a" font-weight="bold">Erw-ASNase (U/mL)</text>
<defs><linearGradient id="g489" x1="0" y1="0" x2="0" y2="1"><stop offset="0" stop-color="#2e1f7e"/><stop offset="0.5" stop-color="#8a84c0"/><stop offset="1" stop-color="#ffffff"/></linearGradient></defs>
<rect x="489.4" y="188.9" width="7.5" height="31.1" fill="url(#g489)" stroke="#777" stroke-width="0.7"/>
<line x1="489.4" y1="197.4" x2="490.6" y2="197.4" stroke="#333" stroke-width="0.6"/>
<line x1="495.7" y1="197.4" x2="496.9" y2="197.4" stroke="#333" stroke-width="0.6"/>
<text x="500.1" y="199.46" font-size="6" text-anchor="start" fill="#111" stroke="#111" stroke-width="0.16">0.72</text>
<line x1="489.4" y1="206.5" x2="490.6" y2="206.5" stroke="#333" stroke-width="0.6"/>
<line x1="495.7" y1="206.5" x2="496.9" y2="206.5" stroke="#333" stroke-width="0.6"/>
<text x="500.1" y="208.56" font-size="6" text-anchor="start" fill="#111" stroke="#111" stroke-width="0.16">0.70</text>
<line x1="489.4" y1="217" x2="490.6" y2="217" stroke="#333" stroke-width="0.6"/>
<line x1="495.7" y1="217" x2="496.9" y2="217" stroke="#333" stroke-width="0.6"/>
<text x="500.1" y="219.06" font-size="6" text-anchor="start" fill="#111" stroke="#111" stroke-width="0.16">0.68</text>
<text x="7.2" y="290.13" font-size="12" text-anchor="start" fill="#000" font-weight="bold">B</text>
<line x1="56.5" y1="306.9" x2="56.5" y2="396.1" stroke="#000" stroke-width="1"/>
<line x1="53.3" y1="395.6" x2="56.5" y2="395.6" stroke="#000" stroke-width="0.8"/>
<text x="50.3" y="397.6" font-size="5.8" text-anchor="end" fill="#111" stroke="#111" stroke-width="0.15">0</text>
<line x1="53.3" y1="366.8" x2="56.5" y2="366.8" stroke="#000" stroke-width="0.8"/>
<text x="50.3" y="368.8" font-size="5.8" text-anchor="end" fill="#111" stroke="#111" stroke-width="0.15">50</text>
<line x1="53.3" y1="338" x2="56.5" y2="338" stroke="#000" stroke-width="0.8"/>
<text x="50.3" y="340" font-size="5.8" text-anchor="end" fill="#111" stroke="#111" stroke-width="0.15">100</text>
<line x1="53.3" y1="309.2" x2="56.5" y2="309.2" stroke="#000" stroke-width="0.8"/>
<text x="50.3" y="311.2" font-size="5.8" text-anchor="end" fill="#111" stroke="#111" stroke-width="0.15">150</text>
<text transform="translate(31.1 351.2) rotate(-90) scale(0.72 1)" x="0" y="2.75" font-size="8" text-anchor="middle" fill="#2a2a2a" font-weight="bold">Viability (%)</text>
<text x="59.7" y="324.85" font-size="5.1" text-anchor="start" fill="#111" stroke="#111" stroke-width="0.13">Patients</text>
<line x1="57.3" y1="338.5" x2="76.8" y2="338.5" stroke="#555" stroke-width="1.4"/>
<text x="67.3" y="336.76" font-size="5.4" text-anchor="middle" fill="#111" stroke="#111" stroke-width="0.14">1</text>
<line x1="80.3" y1="338.5" x2="89.4" y2="338.5" stroke="#555" stroke-width="1.4"/>
<text x="84.6" y="336.76" font-size="5.4" text-anchor="middle" fill="#111" stroke="#111" stroke-width="0.14">2</text>
<line x1="92.9" y1="338.5" x2="110.6" y2="338.5" stroke="#555" stroke-width="1.4"/>
<text x="101.6" y="336.76" font-size="5.4" text-anchor="middle" fill="#111" stroke="#111" stroke-width="0.14">3</text>
<line x1="114.9" y1="338.5" x2="133.6" y2="338.5" stroke="#555" stroke-width="1.4"/>
<text x="123.5" y="336.76" font-size="5.4" text-anchor="middle" fill="#111" stroke="#111" stroke-width="0.14">4</text>
<line x1="137.3" y1="338.5" x2="165.1" y2="338.5" stroke="#555" stroke-width="1.4"/>
<text x="150.4" y="336.76" font-size="5.4" text-anchor="middle" fill="#111" stroke="#111" stroke-width="0.14">5</text>
<line x1="182.1" y1="338.5" x2="201.8" y2="338.5" stroke="#555" stroke-width="1.4"/>
<text x="191.8" y="336.76" font-size="5.4" text-anchor="middle" fill="#111" stroke="#111" stroke-width="0.14">6</text>
<line x1="204.8" y1="338.5" x2="223.6" y2="338.5" stroke="#555" stroke-width="1.4"/>
<text x="214.4" y="336.76" font-size="5.4" text-anchor="middle" fill="#111" stroke="#111" stroke-width="0.14">7</text>
<line x1="227.7" y1="338.5" x2="246.4" y2="338.5" stroke="#555" stroke-width="1.4"/>
<text x="237.2" y="336.76" font-size="5.4" text-anchor="middle" fill="#111" stroke="#111" stroke-width="0.14">8</text>
<line x1="250.2" y1="338.5" x2="280.8" y2="338.5" stroke="#555" stroke-width="1.4"/>
<text x="264.9" y="336.76" font-size="5.4" text-anchor="middle" fill="#111" stroke="#111" stroke-width="0.14">9</text>
<rect x="58.1" y="359.89" width="2.85" height="35.71" fill="#e2aa9e"/>
<rect x="60.95" y="363.92" width="2.85" height="31.68" fill="#d28676"/>
<rect x="63.8" y="377.74" width="2.85" height="17.86" fill="#c35c54"/>
<line x1="59.52" y1="357.3" x2="59.52" y2="359.89" stroke="#111" stroke-width="0.9"/>
<line x1="58.73" y1="357.3" x2="60.32" y2="357.3" stroke="#111" stroke-width="0.9"/>
<line x1="62.38" y1="363.46" x2="62.38" y2="363.92" stroke="#111" stroke-width="0.9"/>
<line x1="61.58" y1="363.46" x2="63.17" y2="363.46" stroke="#111" stroke-width="0.9"/>
<line x1="65.23" y1="377.28" x2="65.23" y2="377.74" stroke="#111" stroke-width="0.9"/>
<line x1="64.43" y1="377.28" x2="66.03" y2="377.28" stroke="#111" stroke-width="0.9"/>
<rect x="69.3" y="384.66" width="2.85" height="10.94" fill="#e2aa9e"/>
<rect x="72.15" y="390.42" width="2.85" height="5.18" fill="#d28676"/>
<rect x="75" y="395.02" width="2.85" height="0.58" fill="#c35c54"/>
<line x1="70.72" y1="384.08" x2="70.72" y2="384.66" stroke="#111" stroke-width="0.9"/>
<line x1="69.92" y1="384.08" x2="71.52" y2="384.08" stroke="#111" stroke-width="0.9"/>
<line x1="73.57" y1="389.55" x2="73.57" y2="390.42" stroke="#111" stroke-width="0.9"/>
<line x1="72.77" y1="389.55" x2="74.37" y2="389.55" stroke="#111" stroke-width="0.9"/>
<line x1="76.42" y1="394.74" x2="76.42" y2="395.02" stroke="#111" stroke-width="0.9"/>
<line x1="75.62" y1="394.74" x2="77.22" y2="394.74" stroke="#111" stroke-width="0.9"/>
<rect x="81" y="374.86" width="2.85" height="20.74" fill="#e2aa9e"/>
<line x1="82.42" y1="374.58" x2="82.42" y2="374.86" stroke="#111" stroke-width="0.9"/>
<line x1="81.62" y1="374.58" x2="83.22" y2="374.58" stroke="#111" stroke-width="0.9"/>
<rect x="86.5" y="392.72" width="2.85" height="2.88" fill="#e2aa9e"/>
<line x1="87.92" y1="392.43" x2="87.92" y2="392.72" stroke="#111" stroke-width="0.9"/>
<line x1="87.12" y1="392.43" x2="88.72" y2="392.43" stroke="#111" stroke-width="0.9"/>
<rect x="91.9" y="348.94" width="2.85" height="46.66" fill="#e2aa9e"/>
<rect x="94.75" y="372.56" width="2.85" height="23.04" fill="#d28676"/>
<rect x="97.6" y="382.35" width="2.85" height="13.25" fill="#c35c54"/>
<line x1="93.33" y1="344.62" x2="93.33" y2="348.94" stroke="#111" stroke-width="0.9"/>
<line x1="92.53" y1="344.62" x2="94.12" y2="344.62" stroke="#111" stroke-width="0.9"/>
<line x1="96.17" y1="368.53" x2="96.17" y2="372.56" stroke="#111" stroke-width="0.9"/>
<line x1="95.38" y1="368.53" x2="96.97" y2="368.53" stroke="#111" stroke-width="0.9"/>
<line x1="99.03" y1="378.32" x2="99.03" y2="382.35" stroke="#111" stroke-width="0.9"/>
<line x1="98.23" y1="378.32" x2="99.83" y2="378.32" stroke="#111" stroke-width="0.9"/>
<rect x="103.1" y="378.32" width="2.85" height="17.28" fill="#e2aa9e"/>
<rect x="105.95" y="382.93" width="2.85" height="12.67" fill="#d28676"/>
<rect x="108.8" y="394.45" width="2.85" height="1.15" fill="#c35c54"/>
<line x1="104.52" y1="368.53" x2="104.52" y2="378.32" stroke="#111" stroke-width="0.9"/>
<line x1="103.72" y1="368.53" x2="105.32" y2="368.53" stroke="#111" stroke-width="0.9"/>
<line x1="107.37" y1="378.32" x2="107.37" y2="382.93" stroke="#111" stroke-width="0.9"/>
<line x1="106.57" y1="378.32" x2="108.17" y2="378.32" stroke="#111" stroke-width="0.9"/>
<line x1="110.22" y1="393.87" x2="110.22" y2="394.45" stroke="#111" stroke-width="0.9"/>
<line x1="109.42" y1="393.87" x2="111.02" y2="393.87" stroke="#111" stroke-width="0.9"/>
<rect x="114.3" y="348.37" width="2.85" height="47.23" fill="#e2aa9e"/>
<rect x="117.15" y="370.26" width="2.85" height="25.34" fill="#d28676"/>
<rect x="120" y="378.9" width="2.85" height="16.7" fill="#c35c54"/>
<line x1="115.72" y1="345.78" x2="115.72" y2="348.37" stroke="#111" stroke-width="0.9"/>
<line x1="114.92" y1="345.78" x2="116.52" y2="345.78" stroke="#111" stroke-width="0.9"/>
<line x1="118.57" y1="369.68" x2="118.57" y2="370.26" stroke="#111" stroke-width="0.9"/>
<line x1="117.77" y1="369.68" x2="119.37" y2="369.68" stroke="#111" stroke-width="0.9"/>
<line x1="121.42" y1="378.32" x2="121.42" y2="378.9" stroke="#111" stroke-width="0.9"/>
<line x1="120.62" y1="378.32" x2="122.22" y2="378.32" stroke="#111" stroke-width="0.9"/>
<rect x="125.8" y="384.37" width="2.85" height="11.23" fill="#e2aa9e"/>
<rect x="128.65" y="390.99" width="2.85" height="4.61" fill="#d28676"/>
<rect x="131.5" y="395.02" width="2.85" height="0.58" fill="#c35c54"/>
<line x1="127.22" y1="383.79" x2="127.22" y2="384.37" stroke="#111" stroke-width="0.9"/>
<line x1="126.42" y1="383.79" x2="128.03" y2="383.79" stroke="#111" stroke-width="0.9"/>
<line x1="130.08" y1="388.4" x2="130.08" y2="390.99" stroke="#111" stroke-width="0.9"/>
<line x1="129.28" y1="388.4" x2="130.88" y2="388.4" stroke="#111" stroke-width="0.9"/>
<line x1="132.93" y1="394.74" x2="132.93" y2="395.02" stroke="#111" stroke-width="0.9"/>
<line x1="132.12" y1="394.74" x2="133.73" y2="394.74" stroke="#111" stroke-width="0.9"/>
<rect x="137.1" y="346.64" width="2.85" height="48.96" fill="#e2aa9e"/>
<rect x="139.95" y="351.82" width="2.85" height="43.78" fill="#d28676"/>
<rect x="142.8" y="355.86" width="2.85" height="39.74" fill="#c35c54"/>
<rect x="145.65" y="362.19" width="2.85" height="33.41" fill="#b54444"/>
<rect x="148.5" y="381.2" width="2.85" height="14.4" fill="#a3122e"/>
<line x1="138.53" y1="346.47" x2="138.53" y2="346.64" stroke="#111" stroke-width="0.9"/>
<line x1="137.72" y1="346.47" x2="139.33" y2="346.47" stroke="#111" stroke-width="0.9"/>
<line x1="141.38" y1="347.22" x2="141.38" y2="351.82" stroke="#111" stroke-width="0.9"/>
<line x1="140.57" y1="347.22" x2="142.18" y2="347.22" stroke="#111" stroke-width="0.9"/>
<line x1="144.22" y1="355.68" x2="144.22" y2="355.86" stroke="#111" stroke-width="0.9"/>
<line x1="143.42" y1="355.68" x2="145.03" y2="355.68" stroke="#111" stroke-width="0.9"/>
<line x1="147.08" y1="359.31" x2="147.08" y2="362.19" stroke="#111" stroke-width="0.9"/>
<line x1="146.28" y1="359.31" x2="147.88" y2="359.31" stroke="#111" stroke-width="0.9"/>
<line x1="149.93" y1="379.18" x2="149.93" y2="381.2" stroke="#111" stroke-width="0.9"/>
<line x1="149.12" y1="379.18" x2="150.73" y2="379.18" stroke="#111" stroke-width="0.9"/>
<rect x="154" y="382.93" width="2.85" height="12.67" fill="#e2aa9e"/>
<rect x="156.85" y="385.23" width="2.85" height="10.37" fill="#d28676"/>
<rect x="159.7" y="392.14" width="2.85" height="3.46" fill="#c35c54"/>
<rect x="162.55" y="392.14" width="2.85" height="3.46" fill="#b54444"/>
<rect x="165.4" y="395.31" width="2.85" height="0.29" fill="#a3122e"/>
<line x1="155.43" y1="381.2" x2="155.43" y2="382.93" stroke="#111" stroke-width="0.9"/>
<line x1="154.62" y1="381.2" x2="156.23" y2="381.2" stroke="#111" stroke-width="0.9"/>
<line x1="158.28" y1="384.66" x2="158.28" y2="385.23" stroke="#111" stroke-width="0.9"/>
<line x1="157.47" y1="384.66" x2="159.08" y2="384.66" stroke="#111" stroke-width="0.9"/>
<line x1="161.12" y1="391.57" x2="161.12" y2="392.14" stroke="#111" stroke-width="0.9"/>
<line x1="160.32" y1="391.57" x2="161.93" y2="391.57" stroke="#111" stroke-width="0.9"/>
<line x1="163.98" y1="391.57" x2="163.98" y2="392.14" stroke="#111" stroke-width="0.9"/>
<line x1="163.18" y1="391.57" x2="164.78" y2="391.57" stroke="#111" stroke-width="0.9"/>
<line x1="166.83" y1="395.02" x2="166.83" y2="395.31" stroke="#111" stroke-width="0.9"/>
<line x1="166.03" y1="395.02" x2="167.63" y2="395.02" stroke="#111" stroke-width="0.9"/>
<rect x="182" y="350.67" width="2.85" height="44.93" fill="#e2aa9e"/>
<rect x="184.85" y="370.83" width="2.85" height="24.77" fill="#d28676"/>
<rect x="187.7" y="373.14" width="2.85" height="22.46" fill="#c35c54"/>
<line x1="183.43" y1="342.61" x2="183.43" y2="350.67" stroke="#111" stroke-width="0.9"/>
<line x1="182.62" y1="342.61" x2="184.23" y2="342.61" stroke="#111" stroke-width="0.9"/>
<line x1="186.28" y1="369.97" x2="186.28" y2="370.83" stroke="#111" stroke-width="0.9"/>
<line x1="185.47" y1="369.97" x2="187.08" y2="369.97" stroke="#111" stroke-width="0.9"/>
<line x1="189.12" y1="372.96" x2="189.12" y2="373.14" stroke="#111" stroke-width="0.9"/>
<line x1="188.32" y1="372.96" x2="189.93" y2="372.96" stroke="#111" stroke-width="0.9"/>
<rect x="193.4" y="384.94" width="2.85" height="10.66" fill="#e2aa9e"/>
<rect x="196.25" y="390.42" width="2.85" height="5.18" fill="#d28676"/>
<rect x="199.1" y="393.3" width="2.85" height="2.3" fill="#c35c54"/>
<line x1="194.83" y1="384.37" x2="194.83" y2="384.94" stroke="#111" stroke-width="0.9"/>
<line x1="194.03" y1="384.37" x2="195.63" y2="384.37" stroke="#111" stroke-width="0.9"/>
<line x1="197.68" y1="389.55" x2="197.68" y2="390.42" stroke="#111" stroke-width="0.9"/>
<line x1="196.88" y1="389.55" x2="198.48" y2="389.55" stroke="#111" stroke-width="0.9"/>
<line x1="200.53" y1="391.57" x2="200.53" y2="393.3" stroke="#111" stroke-width="0.9"/>
<line x1="199.72" y1="391.57" x2="201.33" y2="391.57" stroke="#111" stroke-width="0.9"/>
<rect x="204.8" y="350.1" width="2.85" height="45.5" fill="#e2aa9e"/>
<rect x="207.65" y="372.56" width="2.85" height="23.04" fill="#d28676"/>
<rect x="210.5" y="381.78" width="2.85" height="13.82" fill="#c35c54"/>
<line x1="206.23" y1="349.52" x2="206.23" y2="350.1" stroke="#111" stroke-width="0.9"/>
<line x1="205.43" y1="349.52" x2="207.03" y2="349.52" stroke="#111" stroke-width="0.9"/>
<line x1="209.08" y1="368.24" x2="209.08" y2="372.56" stroke="#111" stroke-width="0.9"/>
<line x1="208.28" y1="368.24" x2="209.88" y2="368.24" stroke="#111" stroke-width="0.9"/>
<line x1="211.93" y1="378.03" x2="211.93" y2="381.78" stroke="#111" stroke-width="0.9"/>
<line x1="211.12" y1="378.03" x2="212.73" y2="378.03" stroke="#111" stroke-width="0.9"/>
<rect x="216" y="378.32" width="2.85" height="17.28" fill="#e2aa9e"/>
<rect x="218.85" y="382.93" width="2.85" height="12.67" fill="#d28676"/>
<rect x="221.7" y="394.74" width="2.85" height="0.86" fill="#c35c54"/>
<line x1="217.43" y1="368.53" x2="217.43" y2="378.32" stroke="#111" stroke-width="0.9"/>
<line x1="216.62" y1="368.53" x2="218.23" y2="368.53" stroke="#111" stroke-width="0.9"/>
<line x1="220.28" y1="378.32" x2="220.28" y2="382.93" stroke="#111" stroke-width="0.9"/>
<line x1="219.47" y1="378.32" x2="221.08" y2="378.32" stroke="#111" stroke-width="0.9"/>
<line x1="223.12" y1="394.16" x2="223.12" y2="394.74" stroke="#111" stroke-width="0.9"/>
<line x1="222.32" y1="394.16" x2="223.93" y2="394.16" stroke="#111" stroke-width="0.9"/>
<rect x="227.2" y="348.37" width="2.85" height="47.23" fill="#e2aa9e"/>
<rect x="230.05" y="369.68" width="2.85" height="25.92" fill="#d28676"/>
<rect x="232.9" y="378.9" width="2.85" height="16.7" fill="#c35c54"/>
<line x1="228.62" y1="345.78" x2="228.62" y2="348.37" stroke="#111" stroke-width="0.9"/>
<line x1="227.82" y1="345.78" x2="229.43" y2="345.78" stroke="#111" stroke-width="0.9"/>
<line x1="231.47" y1="369.1" x2="231.47" y2="369.68" stroke="#111" stroke-width="0.9"/>
<line x1="230.67" y1="369.1" x2="232.28" y2="369.1" stroke="#111" stroke-width="0.9"/>
<line x1="234.32" y1="378.32" x2="234.32" y2="378.9" stroke="#111" stroke-width="0.9"/>
<line x1="233.52" y1="378.32" x2="235.12" y2="378.32" stroke="#111" stroke-width="0.9"/>
<rect x="238.4" y="384.08" width="2.85" height="11.52" fill="#e2aa9e"/>
<rect x="241.25" y="390.99" width="2.85" height="4.61" fill="#d28676"/>
<rect x="244.1" y="395.02" width="2.85" height="0.58" fill="#c35c54"/>
<line x1="239.83" y1="383.5" x2="239.83" y2="384.08" stroke="#111" stroke-width="0.9"/>
<line x1="239.03" y1="383.5" x2="240.63" y2="383.5" stroke="#111" stroke-width="0.9"/>
<line x1="242.68" y1="388.4" x2="242.68" y2="390.99" stroke="#111" stroke-width="0.9"/>
<line x1="241.88" y1="388.4" x2="243.48" y2="388.4" stroke="#111" stroke-width="0.9"/>
<line x1="245.53" y1="394.74" x2="245.53" y2="395.02" stroke="#111" stroke-width="0.9"/>
<line x1="244.72" y1="394.74" x2="246.33" y2="394.74" stroke="#111" stroke-width="0.9"/>
<rect x="249.8" y="346.64" width="2.85" height="48.96" fill="#e2aa9e"/>
<rect x="252.65" y="351.82" width="2.85" height="43.78" fill="#d28676"/>
<rect x="255.5" y="355.86" width="2.85" height="39.74" fill="#c35c54"/>
<rect x="258.35" y="362.19" width="2.85" height="33.41" fill="#b54444"/>
<rect x="261.2" y="381.2" width="2.85" height="14.4" fill="#a3122e"/>
<line x1="251.23" y1="346.47" x2="251.23" y2="346.64" stroke="#111" stroke-width="0.9"/>
<line x1="250.43" y1="346.47" x2="252.03" y2="346.47" stroke="#111" stroke-width="0.9"/>
<line x1="254.08" y1="347.22" x2="254.08" y2="351.82" stroke="#111" stroke-width="0.9"/>
<line x1="253.28" y1="347.22" x2="254.88" y2="347.22" stroke="#111" stroke-width="0.9"/>
<line x1="256.93" y1="355.68" x2="256.93" y2="355.86" stroke="#111" stroke-width="0.9"/>
<line x1="256.12" y1="355.68" x2="257.73" y2="355.68" stroke="#111" stroke-width="0.9"/>
<line x1="259.78" y1="359.31" x2="259.78" y2="362.19" stroke="#111" stroke-width="0.9"/>
<line x1="258.98" y1="359.31" x2="260.58" y2="359.31" stroke="#111" stroke-width="0.9"/>
<line x1="262.62" y1="379.18" x2="262.62" y2="381.2" stroke="#111" stroke-width="0.9"/>
<line x1="261.82" y1="379.18" x2="263.43" y2="379.18" stroke="#111" stroke-width="0.9"/>
<rect x="267" y="382.93" width="2.85" height="12.67" fill="#e2aa9e"/>
<rect x="269.85" y="385.23" width="2.85" height="10.37" fill="#d28676"/>
<rect x="272.7" y="392.14" width="2.85" height="3.46" fill="#c35c54"/>
<rect x="275.55" y="392.14" width="2.85" height="3.46" fill="#b54444"/>
<rect x="278.4" y="395.31" width="2.85" height="0.29" fill="#a3122e"/>
<line x1="268.43" y1="381.2" x2="268.43" y2="382.93" stroke="#111" stroke-width="0.9"/>
<line x1="267.62" y1="381.2" x2="269.23" y2="381.2" stroke="#111" stroke-width="0.9"/>
<line x1="271.28" y1="384.66" x2="271.28" y2="385.23" stroke="#111" stroke-width="0.9"/>
<line x1="270.48" y1="384.66" x2="272.08" y2="384.66" stroke="#111" stroke-width="0.9"/>
<line x1="274.12" y1="391.57" x2="274.12" y2="392.14" stroke="#111" stroke-width="0.9"/>
<line x1="273.32" y1="391.57" x2="274.93" y2="391.57" stroke="#111" stroke-width="0.9"/>
<line x1="276.98" y1="391.57" x2="276.98" y2="392.14" stroke="#111" stroke-width="0.9"/>
<line x1="276.18" y1="391.57" x2="277.78" y2="391.57" stroke="#111" stroke-width="0.9"/>
<line x1="279.82" y1="395.02" x2="279.82" y2="395.31" stroke="#111" stroke-width="0.9"/>
<line x1="279.02" y1="395.02" x2="280.62" y2="395.02" stroke="#111" stroke-width="0.9"/>
<line x1="56" y1="395.6" x2="282.2" y2="395.6" stroke="#000" stroke-width="1.1"/>
<text x="11.5" y="404.1" font-size="6.1" text-anchor="start" fill="#111" stroke="#111" stroke-width="0.16">Erw-ASNase</text>
<rect x="62" y="401.8" width="1" height="1" fill="#444"/>
<line x1="71" y1="402.3" x2="75.2" y2="402.3" stroke="#1a1a1a" stroke-width="1"/>
<line x1="73.1" y1="400.2" x2="73.1" y2="404.4" stroke="#1a1a1a" stroke-width="1"/>
<rect x="81.8" y="401.8" width="1" height="1" fill="#444"/>
<line x1="85.4" y1="402.3" x2="89.6" y2="402.3" stroke="#1a1a1a" stroke-width="1"/>
<line x1="87.5" y1="400.2" x2="87.5" y2="404.4" stroke="#1a1a1a" stroke-width="1"/>
<rect x="96.4" y="401.8" width="1" height="1" fill="#444"/>
<line x1="105.2" y1="402.3" x2="109.4" y2="402.3" stroke="#1a1a1a" stroke-width="1"/>
<line x1="107.3" y1="400.2" x2="107.3" y2="404.4" stroke="#1a1a1a" stroke-width="1"/>
<rect x="118.3" y="401.8" width="1" height="1" fill="#444"/>
<line x1="127.5" y1="402.3" x2="131.7" y2="402.3" stroke="#1a1a1a" stroke-width="1"/>
<line x1="129.6" y1="400.2" x2="129.6" y2="404.4" stroke="#1a1a1a" stroke-width="1"/>
<rect x="143.3" y="401.8" width="1" height="1" fill="#444"/>
<line x1="158.3" y1="402.3" x2="162.5" y2="402.3" stroke="#1a1a1a" stroke-width="1"/>
<line x1="160.4" y1="400.2" x2="160.4" y2="404.4" stroke="#1a1a1a" stroke-width="1"/>
<rect x="185.7" y="401.8" width="1" height="1" fill="#444"/>
<line x1="195.6" y1="402.3" x2="199.8" y2="402.3" stroke="#1a1a1a" stroke-width="1"/>
<line x1="197.7" y1="400.2" x2="197.7" y2="404.4" stroke="#1a1a1a" stroke-width="1"/>
<rect x="208.7" y="401.8" width="1" height="1" fill="#444"/>
<line x1="217.9" y1="402.3" x2="222.1" y2="402.3" stroke="#1a1a1a" stroke-width="1"/>
<line x1="220" y1="400.2" x2="220" y2="404.4" stroke="#1a1a1a" stroke-width="1"/>
<rect x="231" y="401.8" width="1" height="1" fill="#444"/>
<line x1="240.6" y1="402.3" x2="244.8" y2="402.3" stroke="#1a1a1a" stroke-width="1"/>
<line x1="242.7" y1="400.2" x2="242.7" y2="404.4" stroke="#1a1a1a" stroke-width="1"/>
<rect x="254.9" y="401.8" width="1" height="1" fill="#444"/>
<line x1="270.6" y1="402.3" x2="274.8" y2="402.3" stroke="#1a1a1a" stroke-width="1"/>
<line x1="272.7" y1="400.2" x2="272.7" y2="404.4" stroke="#1a1a1a" stroke-width="1"/>
<text x="114.3" y="419.55" font-size="5.1" text-anchor="start" fill="#111" stroke="#111" stroke-width="0.13">carfilzomib (nM)</text>
<text x="156.7" y="419.86" font-size="5.4" text-anchor="middle" fill="#111" stroke="#111" stroke-width="0.14">1</text>
<text x="169.5" y="419.86" font-size="5.4" text-anchor="middle" fill="#111" stroke="#111" stroke-width="0.14">2.5</text>
<text x="182.5" y="419.86" font-size="5.4" text-anchor="middle" fill="#111" stroke="#111" stroke-width="0.14">3</text>
<text x="195.4" y="419.86" font-size="5.4" text-anchor="middle" fill="#111" stroke="#111" stroke-width="0.14">5</text>
<text x="208.7" y="419.86" font-size="5.4" text-anchor="middle" fill="#111" stroke="#111" stroke-width="0.14">7.5</text>
<text x="221.7" y="419.86" font-size="5.4" text-anchor="middle" fill="#111" stroke="#111" stroke-width="0.14">10</text>
<rect x="153.3" y="423" width="6.9" height="6.6" fill="#f2d9d4"/>
<rect x="165.9" y="423" width="6.9" height="6.6" fill="#e2aa9e"/>
<rect x="178.9" y="423" width="6.9" height="6.6" fill="#d28676"/>
<rect x="191.9" y="423" width="6.9" height="6.6" fill="#c35c54"/>
<rect x="205.2" y="423" width="6.9" height="6.6" fill="#b54444"/>
<rect x="218.3" y="423" width="6.9" height="6.6" fill="#a3122e"/>
<text x="257.3" y="419.89" font-size="5.2" text-anchor="start" fill="#111" stroke="#111" stroke-width="0.14">1-2NDMM</text>
<text x="257.3" y="427.79" font-size="5.2" text-anchor="start" fill="#111" stroke="#111" stroke-width="0.14">3-9RRMM</text>
<text x="298.75" y="290.13" font-size="12" text-anchor="start" fill="#000" font-weight="bold">C</text>
<line x1="356.3" y1="297" x2="356.3" y2="355.5" stroke="#000" stroke-width="1"/>
<line x1="353.1" y1="355" x2="356.3" y2="355" stroke="#000" stroke-width="0.8"/>
<text x="351.1" y="357.06" font-size="6" text-anchor="end" fill="#111" stroke="#111" stroke-width="0.16">0</text>
<line x1="353.1" y1="336.4" x2="356.3" y2="336.4" stroke="#000" stroke-width="0.8"/>
<text x="351.1" y="338.46" font-size="6" text-anchor="end" fill="#111" stroke="#111" stroke-width="0.16">50</text>
<line x1="353.1" y1="317.8" x2="356.3" y2="317.8" stroke="#000" stroke-width="0.8"/>
<text x="351.1" y="319.86" font-size="6" text-anchor="end" fill="#111" stroke="#111" stroke-width="0.16">100</text>
<line x1="353.1" y1="299.2" x2="356.3" y2="299.2" stroke="#000" stroke-width="0.8"/>
<text x="351.1" y="301.26" font-size="6" text-anchor="end" fill="#111" stroke="#111" stroke-width="0.16">150</text>
<text transform="translate(331.0 325.6) rotate(-90) scale(0.7 1)" x="0" y="2.7" font-size="7.8" text-anchor="middle" fill="#2a2a2a" font-weight="bold">Luminescenc(RLU x 10<tspan font-size="5.1" dy="-3">3</tspan><tspan dy="3">)</tspan></text>
<rect x="358.75" y="317.8" width="3.9" height="37.2" fill="#c9c9cf"/>
<rect x="362.65" y="322.26" width="3.9" height="32.74" fill="#e2aa9e"/>
<rect x="363.7" y="321.06" width="1.8" height="1.3" fill="#111"/>
<rect x="366.55" y="328.22" width="3.9" height="26.78" fill="#c8685a"/>
<rect x="367.6" y="327.02" width="1.8" height="1.3" fill="#111"/>
<rect x="372.5" y="317.8" width="3.9" height="37.2" fill="#c9c9cf"/>
<rect x="376.4" y="317.43" width="3.9" height="37.57" fill="#e2aa9e"/>
<rect x="377.45" y="316.23" width="1.8" height="1.3" fill="#111"/>
<rect x="380.3" y="321.15" width="3.9" height="33.85" fill="#c8685a"/>
<rect x="381.35" y="319.95" width="1.8" height="1.3" fill="#111"/>
<rect x="399.2" y="331.56" width="3.9" height="23.44" fill="#c9c9cf"/>
<rect x="400.25" y="330.36" width="1.8" height="1.3" fill="#111"/>
<rect x="403.1" y="336.4" width="3.9" height="18.6" fill="#e2aa9e"/>
<rect x="404.15" y="335.2" width="1.8" height="1.3" fill="#111"/>
<rect x="407" y="346.82" width="3.9" height="8.18" fill="#c8685a"/>
<rect x="408.05" y="345.62" width="1.8" height="1.3" fill="#111"/>
<rect x="412.1" y="330.45" width="3.9" height="24.55" fill="#c9c9cf"/>
<rect x="413.15" y="329.25" width="1.8" height="1.3" fill="#111"/>
<rect x="416" y="334.54" width="3.9" height="20.46" fill="#e2aa9e"/>
<rect x="417.05" y="333.34" width="1.8" height="1.3" fill="#111"/>
<rect x="419.9" y="341.61" width="3.9" height="13.39" fill="#c8685a"/>
<rect x="420.95" y="340.41" width="1.8" height="1.3" fill="#111"/>
<line x1="355.8" y1="355" x2="426.2" y2="355" stroke="#000" stroke-width="1.1"/>
<text x="355.75" y="363.99" font-size="6.5" text-anchor="end" fill="#111" stroke="#111" stroke-width="0.17">BMSCs</text>
<text x="355.5" y="373.98" font-size="6.35" text-anchor="end" fill="#111" stroke="#111" stroke-width="0.17">ErW-ASNase (U/mL)</text>
<rect x="364.5" y="361.3" width="1" height="1" fill="#444"/>
<rect x="364.5" y="371.5" width="1" height="1" fill="#444"/>
<line x1="376.35" y1="361.8" x2="379.65" y2="361.8" stroke="#1a1a1a" stroke-width="1"/>
<line x1="378" y1="360.15" x2="378" y2="363.45" stroke="#1a1a1a" stroke-width="1"/>
<rect x="377.5" y="371.5" width="1" height="1" fill="#444"/>
<rect x="403.9" y="361.3" width="1" height="1" fill="#444"/>
<line x1="402.75" y1="372" x2="406.05" y2="372" stroke="#1a1a1a" stroke-width="1"/>
<line x1="404.4" y1="370.35" x2="404.4" y2="373.65" stroke="#1a1a1a" stroke-width="1"/>
<line x1="416.25" y1="361.8" x2="419.55" y2="361.8" stroke="#1a1a1a" stroke-width="1"/>
<line x1="417.9" y1="360.15" x2="417.9" y2="363.45" stroke="#1a1a1a" stroke-width="1"/>
<line x1="416.25" y1="372" x2="419.55" y2="372" stroke="#1a1a1a" stroke-width="1"/>
<line x1="417.9" y1="370.35" x2="417.9" y2="373.65" stroke="#1a1a1a" stroke-width="1"/>
<text x="379.7" y="301.45" font-size="6.25" text-anchor="start" fill="#1a1a1a" stroke="#1a1a1a" stroke-width="0.1">carfilzomib (nM)</text>
<text x="428.5" y="301.3" font-size="6.1" text-anchor="middle" fill="#111" stroke="#111" stroke-width="0.16">0</text>
<text x="436.2" y="301.3" font-size="6.1" text-anchor="middle" fill="#111" stroke="#111" stroke-width="0.16">2</text>
<text x="444.8" y="301.3" font-size="6.1" text-anchor="middle" fill="#111" stroke="#111" stroke-width="0.16">2.5</text>
<rect x="426.2" y="304.6" width="4.6" height="4.2" fill="#c9c9cf"/>
<rect x="434.2" y="304.6" width="4.6" height="4.2" fill="#e2aa9e"/>
<rect x="442.5" y="304.6" width="4.6" height="4.2" fill="#c8685a"/>
<text x="297.8" y="401.23" font-size="12" text-anchor="start" fill="#000" font-weight="bold">D</text>
<text x="388.4" y="400.87" font-size="8.35" text-anchor="middle" fill="#111" stroke="#111" stroke-width="0.08">Normal Donor PBMCs</text>
<line x1="356.5" y1="406.6" x2="356.5" y2="461.6" stroke="#000" stroke-width="1"/>
<line x1="353.3" y1="461.1" x2="356.5" y2="461.1" stroke="#000" stroke-width="0.8"/>
<text x="350.6" y="463.16" font-size="6" text-anchor="end" fill="#111" stroke="#111" stroke-width="0.16">0</text>
<line x1="353.3" y1="443.8" x2="356.5" y2="443.8" stroke="#000" stroke-width="0.8"/>
<text x="350.6" y="445.86" font-size="6" text-anchor="end" fill="#111" stroke="#111" stroke-width="0.16">50</text>
<line x1="353.3" y1="426.5" x2="356.5" y2="426.5" stroke="#000" stroke-width="0.8"/>
<text x="350.6" y="428.56" font-size="6" text-anchor="end" fill="#111" stroke="#111" stroke-width="0.16">100</text>
<line x1="353.3" y1="409.2" x2="356.5" y2="409.2" stroke="#000" stroke-width="0.8"/>
<text x="350.6" y="411.26" font-size="6" text-anchor="end" fill="#111" stroke="#111" stroke-width="0.16">150</text>
<text transform="translate(331.5 433.7) rotate(-90) scale(0.73 1)" x="0" y="2.75" font-size="8" text-anchor="middle" fill="#2a2a2a" font-weight="bold">Viability (%)</text>
<rect x="359.8" y="426.5" width="6.35" height="34.6" fill="#c9c9cf"/>
<rect x="366.15" y="437.92" width="6.35" height="23.18" fill="#e2aa9e"/>
<rect x="372.5" y="437.23" width="6.35" height="23.87" fill="#cc7466"/>
<rect x="378.85" y="437.23" width="6.35" height="23.87" fill="#c05450"/>
<line x1="362.98" y1="425.98" x2="362.98" y2="427.02" stroke="#111" stroke-width="0.8"/>
<line x1="361.48" y1="425.98" x2="364.48" y2="425.98" stroke="#111" stroke-width="0.8"/>
<line x1="361.48" y1="427.02" x2="364.48" y2="427.02" stroke="#111" stroke-width="0.8"/>
<line x1="369.33" y1="437.4" x2="369.33" y2="438.44" stroke="#111" stroke-width="0.8"/>
<line x1="367.83" y1="437.4" x2="370.83" y2="437.4" stroke="#111" stroke-width="0.8"/>
<line x1="367.83" y1="438.44" x2="370.83" y2="438.44" stroke="#111" stroke-width="0.8"/>
<line x1="375.68" y1="435.5" x2="375.68" y2="438.96" stroke="#111" stroke-width="0.8"/>
<line x1="374.18" y1="435.5" x2="377.18" y2="435.5" stroke="#111" stroke-width="0.8"/>
<line x1="374.18" y1="438.96" x2="377.18" y2="438.96" stroke="#111" stroke-width="0.8"/>
<line x1="382.03" y1="436.81" x2="382.03" y2="437.64" stroke="#111" stroke-width="0.8"/>
<line x1="380.53" y1="436.81" x2="383.53" y2="436.81" stroke="#111" stroke-width="0.8"/>
<line x1="380.53" y1="437.64" x2="383.53" y2="437.64" stroke="#111" stroke-width="0.8"/>
<rect x="391.7" y="433.77" width="6.35" height="27.33" fill="#c9c9cf"/>
<rect x="398.05" y="437.57" width="6.35" height="23.53" fill="#e2aa9e"/>
<rect x="404.4" y="436.88" width="6.35" height="24.22" fill="#cc7466"/>
<rect x="410.75" y="436.88" width="6.35" height="24.22" fill="#c05450"/>
<line x1="394.88" y1="431.34" x2="394.88" y2="436.19" stroke="#111" stroke-width="0.8"/>
<line x1="393.38" y1="431.34" x2="396.38" y2="431.34" stroke="#111" stroke-width="0.8"/>
<line x1="393.38" y1="436.19" x2="396.38" y2="436.19" stroke="#111" stroke-width="0.8"/>
<line x1="401.23" y1="437.43" x2="401.23" y2="437.71" stroke="#111" stroke-width="0.8"/>
<line x1="399.73" y1="437.43" x2="402.73" y2="437.43" stroke="#111" stroke-width="0.8"/>
<line x1="399.73" y1="437.71" x2="402.73" y2="437.71" stroke="#111" stroke-width="0.8"/>
<line x1="407.57" y1="436.74" x2="407.57" y2="437.02" stroke="#111" stroke-width="0.8"/>
<line x1="406.07" y1="436.74" x2="409.07" y2="436.74" stroke="#111" stroke-width="0.8"/>
<line x1="406.07" y1="437.02" x2="409.07" y2="437.02" stroke="#111" stroke-width="0.8"/>
<line x1="413.93" y1="436.74" x2="413.93" y2="437.02" stroke="#111" stroke-width="0.8"/>
<line x1="412.43" y1="436.74" x2="415.43" y2="436.74" stroke="#111" stroke-width="0.8"/>
<line x1="412.43" y1="437.02" x2="415.43" y2="437.02" stroke="#111" stroke-width="0.8"/>
<line x1="356" y1="461.1" x2="420.4" y2="461.1" stroke="#000" stroke-width="1.1"/>
<text x="356.25" y="469.7" font-size="6.1" text-anchor="end" fill="#111" stroke="#111" stroke-width="0.16">Erw-ASNase</text>
<rect x="372.7" y="467.8" width="1" height="1" fill="#444"/>
<line x1="402.55" y1="468.3" x2="406.05" y2="468.3" stroke="#1a1a1a" stroke-width="0.95"/>
<line x1="404.3" y1="466.55" x2="404.3" y2="470.05" stroke="#1a1a1a" stroke-width="0.95"/>
<rect x="423.3" y="416.3" width="4.5" height="3.5" fill="#c9c9cf"/>
<text x="430.6" y="420.13" font-size="6.2" text-anchor="start" fill="#111" stroke="#111" stroke-width="0.16">0</text>
<rect x="423.3" y="423.1" width="4.5" height="3.5" fill="#d07868"/>
<text x="430.6" y="426.73" font-size="6.2" text-anchor="start" fill="#111" stroke="#111" stroke-width="0.16">2.5</text>
<rect x="423.3" y="429.5" width="4.5" height="3.5" fill="#c86a60"/>
<text x="430.6" y="432.93" font-size="6.2" text-anchor="start" fill="#111" stroke="#111" stroke-width="0.16">3</text>
<rect x="423.3" y="435.9" width="4.5" height="3.5" fill="#b84444"/>
<text x="430.6" y="439.33" font-size="6.2" text-anchor="start" fill="#111" stroke="#111" stroke-width="0.16">5</text>
<text transform="translate(446.3 427.5) rotate(90) scale(0.94 1)" x="0" y="2.2" font-size="6.4" text-anchor="middle" fill="#1a1a1a" stroke="#1a1a1a" stroke-width="0.07">carfilzomib (nM)</text>
<defs><filter id="hz" x="-50%" y="-50%" width="200%" height="200%"><feGaussianBlur stdDeviation="2.2"/></filter><filter id="sb" x="-30%" y="-30%" width="160%" height="160%"><feGaussianBlur stdDeviation="0.35"/></filter></defs>
<text x="7.8" y="497.33" font-size="12" text-anchor="start" fill="#000" font-weight="bold">E</text>
<text x="66" y="505.64" font-size="6.5" text-anchor="middle" fill="#1a1a1a" stroke="#1a1a1a" stroke-width="0.06">untreated</text>
<ellipse cx="55.1" cy="547.7" rx="7.5" ry="11" fill="#ff6a6a" fill-opacity="0.28" filter="url(#hz)"/>
<path d="M54.45 547.4h0.55v0.55h-0.55zM54.58 542.58h0.55v0.55h-0.55zM51.41 542.33h0.55v0.55h-0.55zM60.6 548.53h0.55v0.55h-0.55zM60.27 547.41h0.55v0.55h-0.55zM57.38 546.26h0.55v0.55h-0.55zM48.1 547.73h0.55v0.55h-0.55zM57.88 548.24h0.55v0.55h-0.55zM47.99 532.42h0.55v0.55h-0.55zM51.6 540.88h0.55v0.55h-0.55zM56.97 544.8h0.55v0.55h-0.55zM57.94 541.55h0.55v0.55h-0.55zM56.99 547.39h0.55v0.55h-0.55zM52.62 554h0.55v0.55h-0.55zM58.1 552.4h0.55v0.55h-0.55zM52.81 539.61h0.55v0.55h-0.55zM54.05 543.66h0.55v0.55h-0.55zM58.44 546.92h0.55v0.55h-0.55zM53.59 538.54h0.55v0.55h-0.55zM53.26 551.25h0.55v0.55h-0.55zM51.96 545.17h0.55v0.55h-0.55zM57.52 536.45h0.55v0.55h-0.55zM55.82 552.44h0.55v0.55h-0.55zM46.54 540.39h0.55v0.55h-0.55zM55.12 539.77h0.55v0.55h-0.55zM57.84 544.93h0.55v0.55h-0.55zM49.01 547.81h0.55v0.55h-0.55zM58.61 551.06h0.55v0.55h-0.55zM62.08 548.56h0.55v0.55h-0.55zM56.14 537.21h0.55v0.55h-0.55zM58.37 541.84h0.55v0.55h-0.55zM53.56 536.72h0.55v0.55h-0.55zM51.25 540.42h0.55v0.55h-0.55zM61.4 534.3h0.55v0.55h-0.55zM49.04 544.36h0.55v0.55h-0.55zM62.1 549.83h0.55v0.55h-0.55zM57.21 540.8h0.55v0.55h-0.55zM50.56 549.1h0.55v0.55h-0.55zM60.56 546.95h0.55v0.55h-0.55zM56.71 547.55h0.55v0.55h-0.55zM62.77 550.25h0.55v0.55h-0.55zM57.93 548.54h0.55v0.55h-0.55zM48.54 550.35h0.55v0.55h-0.55zM59.9 548.96h0.55v0.55h-0.55zM46.72 538.61h0.55v0.55h-0.55zM59.39 535.06h0.55v0.55h-0.55zM54.77 550.47h0.55v0.55h-0.55zM49.7 552.59h0.55v0.55h-0.55zM58.08 544.48h0.55v0.55h-0.55zM57.06 548.91h0.55v0.55h-0.55zM56.14 551.58h0.55v0.55h-0.55zM52.62 541.47h0.55v0.55h-0.55zM60.29 546.11h0.55v0.55h-0.55zM51.64 549.21h0.55v0.55h-0.55zM62.19 543.84h0.55v0.55h-0.55zM49.39 542.25h0.55v0.55h-0.55zM54.93 542.77h0.55v0.55h-0.55zM61.92 540.35h0.55v0.55h-0.55zM61.27 538.76h0.55v0.55h-0.55zM52.06 547.47h0.55v0.55h-0.55zM60.68 551.1h0.55v0.55h-0.55zM57.15 545.95h0.55v0.55h-0.55zM56.29 548.26h0.55v0.55h-0.55zM54.81 546.12h0.55v0.55h-0.55zM58.18 545.39h0.55v0.55h-0.55zM59.04 548.94h0.55v0.55h-0.55zM53.68 542h0.55v0.55h-0.55zM55.54 550.11h0.55v0.55h-0.55zM54.09 546.56h0.55v0.55h-0.55zM50.54 544.79h0.55v0.55h-0.55zM57.39 546.58h0.55v0.55h-0.55zM53.66 548.03h0.55v0.55h-0.55zM56.87 541.97h0.55v0.55h-0.55zM53.11 543.45h0.55v0.55h-0.55zM54.58 544.06h0.55v0.55h-0.55zM43.32 538.56h0.55v0.55h-0.55zM60.14 539.04h0.55v0.55h-0.55zM55.3 550.23h0.55v0.55h-0.55zM59.45 554.49h0.55v0.55h-0.55zM47.94 540.58h0.55v0.55h-0.55zM54.07 547.96h0.55v0.55h-0.55zM60.5 537.5h0.55v0.55h-0.55zM58.67 536.75h0.55v0.55h-0.55zM56.39 551.93h0.55v0.55h-0.55zM54.93 545.64h0.55v0.55h-0.55zM59.19 546.49h0.55v0.55h-0.55zM55.2 553.61h0.55v0.55h-0.55zM60.32 544.23h0.55v0.55h-0.55zM59.72 544.24h0.55v0.55h-0.55zM56.2 549h0.55v0.55h-0.55zM56.6 548.72h0.55v0.55h-0.55zM48.73 533.99h0.55v0.55h-0.55zM58.37 539.78h0.55v0.55h-0.55zM50.98 534.83h0.55v0.55h-0.55zM61.3 550.61h0.55v0.55h-0.55zM62.23 540.95h0.55v0.55h-0.55zM55.6 538h0.55v0.55h-0.55zM59.05 554.96h0.55v0.55h-0.55zM51.59 552.8h0.55v0.55h-0.55zM60.05 544.84h0.55v0.55h-0.55zM46.73 550.6h0.55v0.55h-0.55zM55.17 541.04h0.55v0.55h-0.55zM57.4 547.59h0.55v0.55h-0.55zM62.34 540.5h0.55v0.55h-0.55zM60.71 554.81h0.55v0.55h-0.55zM62.14 545.38h0.55v0.55h-0.55zM52.25 549.8h0.55v0.55h-0.55zM56.12 545.57h0.55v0.55h-0.55zM62.01 544.86h0.55v0.55h-0.55zM45.26 539.67h0.55v0.55h-0.55zM47.26 547.29h0.55v0.55h-0.55zM57.03 541.49h0.55v0.55h-0.55zM55.56 549.58h0.55v0.55h-0.55zM55.96 552.59h0.55v0.55h-0.55zM55.32 550.74h0.55v0.55h-0.55zM62.31 555.95h0.55v0.55h-0.55zM52.58 549.07h0.55v0.55h-0.55zM47.16 536.08h0.55v0.55h-0.55zM46.77 548.63h0.55v0.55h-0.55zM50.06 543.15h0.55v0.55h-0.55zM54.74 544.3h0.55v0.55h-0.55zM52.94 545.36h0.55v0.55h-0.55zM57.99 551.22h0.55v0.55h-0.55zM54.71 537.06h0.55v0.55h-0.55zM53.1 550.34h0.55v0.55h-0.55zM48.19 539.21h0.55v0.55h-0.55zM60.13 550.57h0.55v0.55h-0.55zM55.63 549.44h0.55v0.55h-0.55zM56.35 537.97h0.55v0.55h-0.55zM48.56 539.07h0.55v0.55h-0.55zM59.75 542.48h0.55v0.55h-0.55zM51.54 539.08h0.55v0.55h-0.55zM48.71 542.17h0.55v0.55h-0.55zM50.29 545.43h0.55v0.55h-0.55zM44.98 543.79h0.55v0.55h-0.55zM52.71 532.51h0.55v0.55h-0.55zM58.86 543.95h0.55v0.55h-0.55zM45.56 536.88h0.55v0.55h-0.55zM56.91 542.35h0.55v0.55h-0.55zM59.11 550.03h0.55v0.55h-0.55zM58.6 547.42h0.55v0.55h-0.55zM61.6 550.18h0.55v0.55h-0.55zM57.63 532.99h0.55v0.55h-0.55zM59.63 553.47h0.55v0.55h-0.55zM54.26 541.58h0.55v0.55h-0.55zM57.71 559.51h0.55v0.55h-0.55zM51.43 547.64h0.55v0.55h-0.55zM58.13 550.68h0.55v0.55h-0.55zM51.52 543.09h0.55v0.55h-0.55zM56.92 549.9h0.55v0.55h-0.55zM55.44 543.51h0.55v0.55h-0.55zM51.03 541.37h0.55v0.55h-0.55zM59.61 546.37h0.55v0.55h-0.55zM51.76 538.73h0.55v0.55h-0.55zM58.4 548.27h0.55v0.55h-0.55zM63.18 549.24h0.55v0.55h-0.55zM55.3 547.69h0.55v0.55h-0.55zM46.85 548.44h0.55v0.55h-0.55zM57.06 540.96h0.55v0.55h-0.55zM61.57 556.93h0.55v0.55h-0.55z" fill="#ff6060" fill-opacity="0.55"/>
<path d="M54.02 552.43h0.5v0.5h-0.5zM43.63 532.76h0.5v0.5h-0.5zM56.57 544.01h0.5v0.5h-0.5zM43.26 559.71h0.5v0.5h-0.5zM55.4 555.53h0.5v0.5h-0.5zM43.51 557.2h0.5v0.5h-0.5zM43.14 557.4h0.5v0.5h-0.5zM51.5 541.38h0.5v0.5h-0.5zM53.65 559.36h0.5v0.5h-0.5zM47.49 534.95h0.5v0.5h-0.5zM53.08 538.3h0.5v0.5h-0.5zM44.06 535.94h0.5v0.5h-0.5zM42.79 537.17h0.5v0.5h-0.5zM48.44 540.33h0.5v0.5h-0.5zM58.11 539.87h0.5v0.5h-0.5zM52.5 536.44h0.5v0.5h-0.5zM49.2 531.56h0.5v0.5h-0.5zM47.11 531.47h0.5v0.5h-0.5zM57.53 547.86h0.5v0.5h-0.5zM45.79 545.53h0.5v0.5h-0.5zM61.89 534.25h0.5v0.5h-0.5zM59.39 544.22h0.5v0.5h-0.5zM52.39 556.54h0.5v0.5h-0.5zM50.19 546.5h0.5v0.5h-0.5zM56.56 561.06h0.5v0.5h-0.5z" fill="#ffaaaa" fill-opacity="0.5"/>
<path d="M49 547.7 C49 542.2 56.2 542.2 56.2 547.7 L55.3 554.7 L53.5 562 L50.4 562 C49.54 556.7 48.82 551.7 49 547.7 Z" fill="#ff1414" filter="url(#sb)"/>
<path d="M49.42 560.96h0.6v0.6h-0.6zM51.43 541.8h0.6v0.6h-0.6zM50.26 554.09h0.6v0.6h-0.6zM54.12 551.85h0.6v0.6h-0.6zM57.14 555.29h0.6v0.6h-0.6zM52.54 554.58h0.6v0.6h-0.6zM57.66 557.01h0.6v0.6h-0.6zM55.73 543.66h0.6v0.6h-0.6zM52.15 555.44h0.6v0.6h-0.6zM51.69 557.65h0.6v0.6h-0.6zM54.42 556.6h0.6v0.6h-0.6zM56.39 549.3h0.6v0.6h-0.6zM51.55 556.38h0.6v0.6h-0.6zM55.6 550.74h0.6v0.6h-0.6zM49.03 551.92h0.6v0.6h-0.6zM53.7 558.04h0.6v0.6h-0.6zM55 550.86h0.6v0.6h-0.6zM55.21 554.21h0.6v0.6h-0.6zM53.23 551.06h0.6v0.6h-0.6zM51.86 555.16h0.6v0.6h-0.6zM49.37 546.61h0.6v0.6h-0.6zM52.62 541.18h0.6v0.6h-0.6zM50.51 554.39h0.6v0.6h-0.6zM54.33 550.35h0.6v0.6h-0.6zM51.89 541.49h0.6v0.6h-0.6zM58.19 554.05h0.6v0.6h-0.6zM55.95 544.96h0.6v0.6h-0.6zM54.99 556.78h0.6v0.6h-0.6zM46.79 550.36h0.6v0.6h-0.6zM47.01 543.78h0.6v0.6h-0.6zM50.67 541.58h0.6v0.6h-0.6zM52.7 552.32h0.6v0.6h-0.6zM54.54 555.26h0.6v0.6h-0.6zM57.2 558.27h0.6v0.6h-0.6zM48.59 547.41h0.6v0.6h-0.6zM49.36 543.7h0.6v0.6h-0.6zM52.35 550.74h0.6v0.6h-0.6zM48.81 550.55h0.6v0.6h-0.6zM51.99 548.68h0.6v0.6h-0.6zM52.41 545.76h0.6v0.6h-0.6zM54.75 553h0.6v0.6h-0.6zM52.33 546.33h0.6v0.6h-0.6zM49.6 550.94h0.6v0.6h-0.6zM48 552h0.6v0.6h-0.6zM53.05 541.75h0.6v0.6h-0.6zM51.83 548.66h0.6v0.6h-0.6zM54.01 554.68h0.6v0.6h-0.6zM52.49 545.17h0.6v0.6h-0.6zM52.16 550.27h0.6v0.6h-0.6zM54.85 552.61h0.6v0.6h-0.6zM50.39 541.9h0.6v0.6h-0.6zM51.46 545.89h0.6v0.6h-0.6zM49.2 549.95h0.6v0.6h-0.6zM51.1 551.39h0.6v0.6h-0.6zM54.2 548.02h0.6v0.6h-0.6zM59.71 548.61h0.6v0.6h-0.6zM55.97 551.49h0.6v0.6h-0.6zM50.3 552.31h0.6v0.6h-0.6zM53.59 559.02h0.6v0.6h-0.6zM54.95 556.86h0.6v0.6h-0.6zM54.16 549.69h0.6v0.6h-0.6zM54.16 543.69h0.6v0.6h-0.6zM56.21 544.09h0.6v0.6h-0.6zM51.92 550.83h0.6v0.6h-0.6zM56.16 550.87h0.6v0.6h-0.6zM50.13 552.38h0.6v0.6h-0.6zM54.38 555.32h0.6v0.6h-0.6zM57.7 550.82h0.6v0.6h-0.6zM53.42 547.91h0.6v0.6h-0.6zM56.93 546.12h0.6v0.6h-0.6zM54.66 547.58h0.6v0.6h-0.6zM50.48 555.37h0.6v0.6h-0.6zM56.68 550.63h0.6v0.6h-0.6zM50.53 555.97h0.6v0.6h-0.6zM52.45 552.72h0.6v0.6h-0.6zM57.26 558.06h0.6v0.6h-0.6zM52.61 555.81h0.6v0.6h-0.6zM50.62 550.41h0.6v0.6h-0.6zM56.78 542.8h0.6v0.6h-0.6zM56.2 547.71h0.6v0.6h-0.6zM52.41 548.67h0.6v0.6h-0.6zM52.23 543.63h0.6v0.6h-0.6zM52.67 541.35h0.6v0.6h-0.6zM52.38 552.71h0.6v0.6h-0.6zM54.03 549.19h0.6v0.6h-0.6zM49.83 551.74h0.6v0.6h-0.6zM51.12 560.88h0.6v0.6h-0.6zM54.95 549.95h0.6v0.6h-0.6zM51.16 546.13h0.6v0.6h-0.6zM49.73 548.41h0.6v0.6h-0.6zM53.5 554.05h0.6v0.6h-0.6zM50.44 550.78h0.6v0.6h-0.6zM51 551.8h0.6v0.6h-0.6zM53.07 553.35h0.6v0.6h-0.6zM51.87 553.08h0.6v0.6h-0.6zM52.76 555.71h0.6v0.6h-0.6zM46.81 544.95h0.6v0.6h-0.6zM52.59 543.99h0.6v0.6h-0.6zM49.4 554.78h0.6v0.6h-0.6zM50.61 554.83h0.6v0.6h-0.6zM54.88 552.69h0.6v0.6h-0.6zM54.15 550.02h0.6v0.6h-0.6zM48.29 550.5h0.6v0.6h-0.6zM53.99 547.26h0.6v0.6h-0.6zM52.3 555.57h0.6v0.6h-0.6zM49.91 554.86h0.6v0.6h-0.6zM58.3 547.1h0.6v0.6h-0.6zM53.05 549.72h0.6v0.6h-0.6zM57.31 552.76h0.6v0.6h-0.6zM55.35 546.21h0.6v0.6h-0.6zM52.55 550.64h0.6v0.6h-0.6zM47.17 560.07h0.6v0.6h-0.6zM54.88 549.85h0.6v0.6h-0.6zM53.97 553.08h0.6v0.6h-0.6zM48.01 549.32h0.6v0.6h-0.6zM57.17 546.96h0.6v0.6h-0.6zM49.47 541.86h0.6v0.6h-0.6zM48.86 552.88h0.6v0.6h-0.6zM57.78 553.49h0.6v0.6h-0.6zM51.01 546.32h0.6v0.6h-0.6zM54.22 554.27h0.6v0.6h-0.6zM49.49 543.1h0.6v0.6h-0.6zM53.49 552.31h0.6v0.6h-0.6zM48.6 549.39h0.6v0.6h-0.6zM50.94 553.69h0.6v0.6h-0.6zM52.24 550.14h0.6v0.6h-0.6zM51.52 557.55h0.6v0.6h-0.6zM56.86 548.31h0.6v0.6h-0.6zM55.19 545.78h0.6v0.6h-0.6zM52.82 555.57h0.6v0.6h-0.6zM57.23 548.21h0.6v0.6h-0.6zM52.37 551.98h0.6v0.6h-0.6zM48.02 550.8h0.6v0.6h-0.6zM50.53 553.11h0.6v0.6h-0.6zM52.72 552.39h0.6v0.6h-0.6zM50.92 556.48h0.6v0.6h-0.6zM51.76 546.76h0.6v0.6h-0.6zM50.53 550.56h0.6v0.6h-0.6zM55.2 549.64h0.6v0.6h-0.6zM53.54 546.44h0.6v0.6h-0.6z" fill="#ff2020" fill-opacity="0.9"/>
<path d="M71.01 554.27h0.5v0.5h-0.5zM72.91 560.13h0.5v0.5h-0.5zM78.09 536.73h0.5v0.5h-0.5zM71.06 543.76h0.5v0.5h-0.5zM82.46 560.03h0.5v0.5h-0.5zM69.08 543.04h0.5v0.5h-0.5zM70.79 560.81h0.5v0.5h-0.5zM68.96 532.59h0.5v0.5h-0.5zM66.85 543.04h0.5v0.5h-0.5zM88.47 558.04h0.5v0.5h-0.5zM84.2 561.52h0.5v0.5h-0.5zM89.34 541.07h0.5v0.5h-0.5zM70.09 559.64h0.5v0.5h-0.5zM84.55 531.98h0.5v0.5h-0.5zM82.44 542.59h0.5v0.5h-0.5zM74.95 541.15h0.5v0.5h-0.5zM69.67 531.09h0.5v0.5h-0.5zM72.52 541.75h0.5v0.5h-0.5zM89.95 534.79h0.5v0.5h-0.5zM90.18 537.35h0.5v0.5h-0.5zM74.5 556.14h0.5v0.5h-0.5zM86.51 544.23h0.5v0.5h-0.5zM66.57 545.49h0.5v0.5h-0.5zM74.92 559.14h0.5v0.5h-0.5zM70.28 542.15h0.5v0.5h-0.5zM88.44 531.93h0.5v0.5h-0.5zM75.9 555.84h0.5v0.5h-0.5zM85.08 532.24h0.5v0.5h-0.5zM66.2 532.91h0.5v0.5h-0.5zM89.04 538.86h0.5v0.5h-0.5zM84.58 558.5h0.5v0.5h-0.5zM74.05 539.33h0.5v0.5h-0.5zM90.01 549.88h0.5v0.5h-0.5zM72.06 552.93h0.5v0.5h-0.5zM73.47 539.43h0.5v0.5h-0.5zM65.4 554.12h0.5v0.5h-0.5zM88.94 550.4h0.5v0.5h-0.5zM89.64 531.74h0.5v0.5h-0.5zM71.33 545.54h0.5v0.5h-0.5zM89.98 560.19h0.5v0.5h-0.5zM75.27 538.68h0.5v0.5h-0.5zM76.39 546.1h0.5v0.5h-0.5zM89.24 536.6h0.5v0.5h-0.5zM86.01 553.6h0.5v0.5h-0.5zM86.53 554.65h0.5v0.5h-0.5z" fill="#7080ff" fill-opacity="0.55"/>
<path d="M80.97 517.03h0.5v0.5h-0.5zM73.54 517.64h0.5v0.5h-0.5zM85.48 512.61h0.5v0.5h-0.5zM70.39 524.6h0.5v0.5h-0.5zM71.68 512.35h0.5v0.5h-0.5zM66.17 521.04h0.5v0.5h-0.5zM73.7 528.65h0.5v0.5h-0.5zM88.09 528.78h0.5v0.5h-0.5zM72.13 512.7h0.5v0.5h-0.5zM67.79 520.07h0.5v0.5h-0.5zM83.61 519.16h0.5v0.5h-0.5zM71.34 518.62h0.5v0.5h-0.5zM81.3 523.2h0.5v0.5h-0.5zM84.6 526.28h0.5v0.5h-0.5zM82.44 513.36h0.5v0.5h-0.5zM86.99 516.43h0.5v0.5h-0.5zM79.93 517.84h0.5v0.5h-0.5zM84.34 514.75h0.5v0.5h-0.5zM71.68 515.57h0.5v0.5h-0.5zM69.26 526.94h0.5v0.5h-0.5zM80.22 517.01h0.5v0.5h-0.5zM75.52 528.87h0.5v0.5h-0.5zM78.39 515.32h0.5v0.5h-0.5zM86.16 522.83h0.5v0.5h-0.5zM90.87 513.02h0.5v0.5h-0.5zM77.55 525.78h0.5v0.5h-0.5zM86.99 527.48h0.5v0.5h-0.5z" fill="#7080ff" fill-opacity="0.55"/>
<rect x="39.7" y="510.2" width="52.4" height="52.4" fill="none" stroke="#9a9a9a" stroke-width="0.7"/>
<line x1="64.3" y1="510.2" x2="64.3" y2="562.6" stroke="#7a7a7a" stroke-width="0.8"/>
<line x1="39.7" y1="530" x2="92.1" y2="530" stroke="#7a7a7a" stroke-width="0.9"/>
<line x1="40.2" y1="531.3" x2="91.6" y2="531.3" stroke="#cfcfcf" stroke-width="0.5"/>
<text transform="translate(40.7 513.71) scale(0.88 1)" font-size="3.8" text-anchor="start" fill="#2a2a2a" font-weight="bold" font-family="Liberation Serif">C1: 0.13%</text>
<text transform="translate(91.1 513.71) scale(0.88 1)" font-size="3.8" text-anchor="end" fill="#2a2a2a" font-weight="bold" font-family="Liberation Serif">C2: 0.54%</text>
<text transform="translate(40.7 533.71) scale(0.88 1)" font-size="3.8" text-anchor="start" fill="#2a2a2a" font-weight="bold" font-family="Liberation Serif">C3: 97.57%</text>
<text transform="translate(91.1 533.71) scale(0.88 1)" font-size="3.8" text-anchor="end" fill="#2a2a2a" font-weight="bold" font-family="Liberation Serif">C4: 1.56%</text>
<line x1="38.1" y1="511" x2="39.7" y2="511" stroke="#666" stroke-width="0.5"/>
<line x1="38.1" y1="522.6" x2="39.7" y2="522.6" stroke="#666" stroke-width="0.5"/>
<line x1="38.1" y1="534.4" x2="39.7" y2="534.4" stroke="#666" stroke-width="0.5"/>
<line x1="38.1" y1="546.3" x2="39.7" y2="546.3" stroke="#666" stroke-width="0.5"/>
<line x1="38.1" y1="556.7" x2="39.7" y2="556.7" stroke="#666" stroke-width="0.5"/>
<line x1="38.1" y1="562.4" x2="39.7" y2="562.4" stroke="#666" stroke-width="0.5"/>
<line x1="45.2" y1="562.6" x2="45.2" y2="564" stroke="#666" stroke-width="0.5"/>
<line x1="55.1" y1="562.6" x2="55.1" y2="564" stroke="#666" stroke-width="0.5"/>
<line x1="66.7" y1="562.6" x2="66.7" y2="564" stroke="#666" stroke-width="0.5"/>
<line x1="79.4" y1="562.6" x2="79.4" y2="564" stroke="#666" stroke-width="0.5"/>
<line x1="90.9" y1="562.6" x2="90.9" y2="564" stroke="#666" stroke-width="0.5"/>
<text x="37.5" y="513.18" font-size="4.3" text-anchor="end" fill="#222">10<tspan font-size="3.01" dy="-1.72">3</tspan></text>
<text x="37.5" y="524.48" font-size="4.3" text-anchor="end" fill="#222">10<tspan font-size="3.01" dy="-1.72">2</tspan></text>
<text x="37.5" y="536.38" font-size="4.3" text-anchor="end" fill="#222">10<tspan font-size="3.01" dy="-1.72">1</tspan></text>
<text x="37.5" y="548.38" font-size="4.3" text-anchor="end" fill="#222">10<tspan font-size="3.01" dy="-1.72">0</tspan></text>
<text x="37.1" y="558.18" font-size="4.3" text-anchor="end" fill="#222" stroke="#222" stroke-width="0.11">0</text>
<text x="37.3" y="563.78" font-size="4.3" text-anchor="end" fill="#222" stroke="#222" stroke-width="0.11">-0.4</text>
<text x="45.2" y="569.58" font-size="4.3" text-anchor="middle" fill="#222" stroke="#222" stroke-width="0.11">0</text>
<text x="56.1" y="570.18" font-size="4.3" text-anchor="middle" fill="#222">10<tspan font-size="3.01" dy="-1.72">0</tspan></text>
<text x="67.7" y="570.18" font-size="4.3" text-anchor="middle" fill="#222">10<tspan font-size="3.01" dy="-1.72">1</tspan></text>
<text x="80.4" y="570.18" font-size="4.3" text-anchor="middle" fill="#222">10<tspan font-size="3.01" dy="-1.72">2</tspan></text>
<text x="91.9" y="570.18" font-size="4.3" text-anchor="middle" fill="#222">10<tspan font-size="3.01" dy="-1.72">3</tspan></text>
<text x="135.7" y="505.64" font-size="6.5" text-anchor="middle" fill="#1a1a1a" stroke="#1a1a1a" stroke-width="0.06">Erw-ASNase</text>
<ellipse cx="126.5" cy="544.2" rx="7.5" ry="11" fill="#ff6a6a" fill-opacity="0.28" filter="url(#hz)"/>
<path d="M130.63 543.4h0.55v0.55h-0.55zM129.14 544.37h0.55v0.55h-0.55zM132.87 541.45h0.55v0.55h-0.55zM130.93 539.84h0.55v0.55h-0.55zM130.28 537.29h0.55v0.55h-0.55zM126.51 551.25h0.55v0.55h-0.55zM129.01 540.8h0.55v0.55h-0.55zM121.85 535.18h0.55v0.55h-0.55zM127.87 546.95h0.55v0.55h-0.55zM128.92 544.79h0.55v0.55h-0.55zM126.81 549.1h0.55v0.55h-0.55zM125.24 537.5h0.55v0.55h-0.55zM131 542.64h0.55v0.55h-0.55zM125.75 537.48h0.55v0.55h-0.55zM125.84 544.56h0.55v0.55h-0.55zM128.59 534.51h0.55v0.55h-0.55zM128.92 542.76h0.55v0.55h-0.55zM122.5 544.54h0.55v0.55h-0.55zM125.74 538.89h0.55v0.55h-0.55zM130.58 549.92h0.55v0.55h-0.55zM123.9 542.95h0.55v0.55h-0.55zM123.06 553.75h0.55v0.55h-0.55zM124.78 547.63h0.55v0.55h-0.55zM124.09 545.19h0.55v0.55h-0.55zM125.04 543.62h0.55v0.55h-0.55zM126.58 537.16h0.55v0.55h-0.55zM119.6 544.25h0.55v0.55h-0.55zM119.25 545.9h0.55v0.55h-0.55zM124.4 541.36h0.55v0.55h-0.55zM132.67 543.41h0.55v0.55h-0.55zM132.32 546.97h0.55v0.55h-0.55zM123.33 545.27h0.55v0.55h-0.55zM129.23 545.6h0.55v0.55h-0.55zM116.83 536.71h0.55v0.55h-0.55zM131.05 546.59h0.55v0.55h-0.55zM127.76 544.3h0.55v0.55h-0.55zM125.52 541.02h0.55v0.55h-0.55zM130.99 539.66h0.55v0.55h-0.55zM132.16 537.94h0.55v0.55h-0.55zM128.2 538.42h0.55v0.55h-0.55zM127.71 537.33h0.55v0.55h-0.55zM119.81 545.71h0.55v0.55h-0.55zM128.37 538.28h0.55v0.55h-0.55zM127.9 547.26h0.55v0.55h-0.55zM122.6 539.38h0.55v0.55h-0.55zM129.43 544.94h0.55v0.55h-0.55zM132.59 544.62h0.55v0.55h-0.55zM127.06 539.58h0.55v0.55h-0.55zM128.19 539.01h0.55v0.55h-0.55zM122.39 535.62h0.55v0.55h-0.55zM124.31 536.88h0.55v0.55h-0.55zM121.79 543.55h0.55v0.55h-0.55zM121.11 543.51h0.55v0.55h-0.55zM122.43 542.05h0.55v0.55h-0.55zM133.18 544.04h0.55v0.55h-0.55zM123.71 540.61h0.55v0.55h-0.55zM127.67 531.19h0.55v0.55h-0.55zM124.27 541.43h0.55v0.55h-0.55zM124.89 541.11h0.55v0.55h-0.55zM130.3 546.59h0.55v0.55h-0.55zM131.08 545.75h0.55v0.55h-0.55zM125.7 540.75h0.55v0.55h-0.55zM125.78 539.03h0.55v0.55h-0.55zM126.19 530.85h0.55v0.55h-0.55zM125.5 540.66h0.55v0.55h-0.55zM122.62 539.89h0.55v0.55h-0.55zM129.32 540.85h0.55v0.55h-0.55zM131.41 557.98h0.55v0.55h-0.55zM115.74 538.95h0.55v0.55h-0.55zM129.34 540.05h0.55v0.55h-0.55zM130.83 544.41h0.55v0.55h-0.55zM127.1 537.77h0.55v0.55h-0.55zM129.87 539.11h0.55v0.55h-0.55zM128 538.47h0.55v0.55h-0.55zM116.89 538.32h0.55v0.55h-0.55zM127.91 545.88h0.55v0.55h-0.55zM123.06 539.95h0.55v0.55h-0.55zM129.78 542.8h0.55v0.55h-0.55zM132.59 554.4h0.55v0.55h-0.55zM130.85 551.22h0.55v0.55h-0.55zM131.15 547.09h0.55v0.55h-0.55zM124.22 536.26h0.55v0.55h-0.55zM131 536.91h0.55v0.55h-0.55zM118.84 533.16h0.55v0.55h-0.55zM123.91 536.09h0.55v0.55h-0.55zM128.04 537.07h0.55v0.55h-0.55zM132.9 542.31h0.55v0.55h-0.55zM122.11 547.59h0.55v0.55h-0.55zM124.38 541.8h0.55v0.55h-0.55zM126.94 539.34h0.55v0.55h-0.55zM128.46 537.52h0.55v0.55h-0.55zM121.3 535.22h0.55v0.55h-0.55zM126.9 541.5h0.55v0.55h-0.55zM129.5 542.57h0.55v0.55h-0.55zM123.43 536.08h0.55v0.55h-0.55zM117.47 537.66h0.55v0.55h-0.55zM129.18 544.9h0.55v0.55h-0.55zM126.45 540.03h0.55v0.55h-0.55zM131.21 542.41h0.55v0.55h-0.55zM130.32 545.51h0.55v0.55h-0.55zM127.96 549.14h0.55v0.55h-0.55zM124.42 538.4h0.55v0.55h-0.55zM123.36 535.54h0.55v0.55h-0.55zM127.1 544.57h0.55v0.55h-0.55zM132.29 547.36h0.55v0.55h-0.55zM132.42 535.22h0.55v0.55h-0.55zM124.12 543.09h0.55v0.55h-0.55zM123.14 538.09h0.55v0.55h-0.55zM124.03 535.36h0.55v0.55h-0.55zM127.09 553.94h0.55v0.55h-0.55zM132.33 544.6h0.55v0.55h-0.55zM124.25 542.88h0.55v0.55h-0.55zM132.68 543.29h0.55v0.55h-0.55zM129.32 540.64h0.55v0.55h-0.55zM128.92 549.36h0.55v0.55h-0.55zM120.56 539.12h0.55v0.55h-0.55zM128.08 538.13h0.55v0.55h-0.55zM125.61 545.46h0.55v0.55h-0.55zM128.47 532.47h0.55v0.55h-0.55zM126.85 534.58h0.55v0.55h-0.55zM126.74 534.69h0.55v0.55h-0.55zM127.32 544.03h0.55v0.55h-0.55zM127.14 542.88h0.55v0.55h-0.55zM123.17 548.58h0.55v0.55h-0.55zM126.16 536.49h0.55v0.55h-0.55zM122.46 537.9h0.55v0.55h-0.55zM128.31 534.6h0.55v0.55h-0.55zM126.38 549.42h0.55v0.55h-0.55zM130.07 541.13h0.55v0.55h-0.55zM127.57 540.65h0.55v0.55h-0.55zM126.78 545.45h0.55v0.55h-0.55zM126.9 535.95h0.55v0.55h-0.55zM129.93 538.39h0.55v0.55h-0.55zM127.67 554.18h0.55v0.55h-0.55zM122.29 533.33h0.55v0.55h-0.55zM118.55 541.09h0.55v0.55h-0.55zM120.33 543.05h0.55v0.55h-0.55zM123.51 538.11h0.55v0.55h-0.55zM128.49 549.57h0.55v0.55h-0.55zM127.65 542.46h0.55v0.55h-0.55zM125.6 543.52h0.55v0.55h-0.55zM128.29 541.85h0.55v0.55h-0.55zM124.75 532.8h0.55v0.55h-0.55zM124.6 531.48h0.55v0.55h-0.55zM132.51 545.82h0.55v0.55h-0.55zM121.57 547.96h0.55v0.55h-0.55zM131.01 531.05h0.55v0.55h-0.55zM129.39 544.32h0.55v0.55h-0.55zM127.91 542.45h0.55v0.55h-0.55zM131.74 533.68h0.55v0.55h-0.55zM121.41 531.51h0.55v0.55h-0.55zM124.49 536.97h0.55v0.55h-0.55zM128.65 543.21h0.55v0.55h-0.55zM127.14 537.26h0.55v0.55h-0.55zM125.01 546.27h0.55v0.55h-0.55zM130.44 542.71h0.55v0.55h-0.55zM125.55 549.94h0.55v0.55h-0.55zM124.33 544.3h0.55v0.55h-0.55zM132.19 541.02h0.55v0.55h-0.55zM130.71 535.63h0.55v0.55h-0.55z" fill="#ff6060" fill-opacity="0.55"/>
<path d="M112.27 543.64h0.5v0.5h-0.5zM121.03 554.65h0.5v0.5h-0.5zM119.09 552.56h0.5v0.5h-0.5zM123.22 537.63h0.5v0.5h-0.5zM130.22 533.78h0.5v0.5h-0.5zM129.31 536.21h0.5v0.5h-0.5zM111.63 537.18h0.5v0.5h-0.5zM128.06 560.92h0.5v0.5h-0.5zM111.69 546.02h0.5v0.5h-0.5zM122.22 555.38h0.5v0.5h-0.5zM115.59 546.13h0.5v0.5h-0.5zM119.1 556.45h0.5v0.5h-0.5zM117.23 559.88h0.5v0.5h-0.5zM117.73 537.57h0.5v0.5h-0.5zM126.71 546.25h0.5v0.5h-0.5zM113.97 550.48h0.5v0.5h-0.5zM113.35 555.11h0.5v0.5h-0.5zM126.66 555.08h0.5v0.5h-0.5zM125.16 541.88h0.5v0.5h-0.5zM120.27 543.07h0.5v0.5h-0.5zM130.83 533.64h0.5v0.5h-0.5zM130.79 531.77h0.5v0.5h-0.5zM116.05 539.05h0.5v0.5h-0.5zM131.07 546.34h0.5v0.5h-0.5zM119.79 558.05h0.5v0.5h-0.5z" fill="#ffaaaa" fill-opacity="0.5"/>
<path d="M119.6 544.2 C119.6 538.7 128.4 538.7 128.4 544.2 L127.3 551.2 L124.9 562 L121.8 562 C120.26 553.2 119.38 548.2 119.6 544.2 Z" fill="#ff1414" filter="url(#sb)"/>
<path d="M124.43 554.39h0.6v0.6h-0.6zM117.85 545.06h0.6v0.6h-0.6zM124.1 537.83h0.6v0.6h-0.6zM122.07 551.91h0.6v0.6h-0.6zM128.03 557.56h0.6v0.6h-0.6zM120.77 538.09h0.6v0.6h-0.6zM125.95 553.31h0.6v0.6h-0.6zM124.72 538.74h0.6v0.6h-0.6zM126.93 552.35h0.6v0.6h-0.6zM126.07 544.03h0.6v0.6h-0.6zM125.14 552.34h0.6v0.6h-0.6zM125.23 550.33h0.6v0.6h-0.6zM124.05 552.98h0.6v0.6h-0.6zM121.81 546.67h0.6v0.6h-0.6zM122.86 550.91h0.6v0.6h-0.6zM129.97 545.57h0.6v0.6h-0.6zM131.69 557.14h0.6v0.6h-0.6zM126.96 551.02h0.6v0.6h-0.6zM130.62 546.03h0.6v0.6h-0.6zM123.58 540.29h0.6v0.6h-0.6zM125.77 555.94h0.6v0.6h-0.6zM125.99 549.95h0.6v0.6h-0.6zM123.25 548.3h0.6v0.6h-0.6zM118.67 554.02h0.6v0.6h-0.6zM122.47 540.02h0.6v0.6h-0.6zM121.19 541.84h0.6v0.6h-0.6zM127.2 554.08h0.6v0.6h-0.6zM118.92 553.22h0.6v0.6h-0.6zM127.32 543.43h0.6v0.6h-0.6zM118.44 542.35h0.6v0.6h-0.6zM121.63 549.43h0.6v0.6h-0.6zM127.39 539.36h0.6v0.6h-0.6zM121.41 541.65h0.6v0.6h-0.6zM121.97 555.64h0.6v0.6h-0.6zM127.19 551.11h0.6v0.6h-0.6zM122.05 543.61h0.6v0.6h-0.6zM120.34 550.51h0.6v0.6h-0.6zM121.23 542.59h0.6v0.6h-0.6zM126.23 555.85h0.6v0.6h-0.6zM124.65 540.85h0.6v0.6h-0.6zM113.88 548.32h0.6v0.6h-0.6zM128.55 549.13h0.6v0.6h-0.6zM127.47 556.81h0.6v0.6h-0.6zM128.21 544.33h0.6v0.6h-0.6zM127.94 552.24h0.6v0.6h-0.6zM118.25 544.57h0.6v0.6h-0.6zM118.67 546.49h0.6v0.6h-0.6zM126.16 540.26h0.6v0.6h-0.6zM116.31 555.64h0.6v0.6h-0.6zM125.41 556.76h0.6v0.6h-0.6zM119.05 554.09h0.6v0.6h-0.6zM131.76 560.25h0.6v0.6h-0.6zM123.21 548.95h0.6v0.6h-0.6zM123.42 553.69h0.6v0.6h-0.6zM127.88 547.77h0.6v0.6h-0.6zM118.92 552.02h0.6v0.6h-0.6zM122.24 551.29h0.6v0.6h-0.6zM124.98 557.75h0.6v0.6h-0.6zM128.25 544.27h0.6v0.6h-0.6zM125.31 558.67h0.6v0.6h-0.6zM121.99 550.02h0.6v0.6h-0.6zM128.45 555.37h0.6v0.6h-0.6zM125.94 538.62h0.6v0.6h-0.6zM119.28 548.81h0.6v0.6h-0.6zM120.78 554.6h0.6v0.6h-0.6zM120.94 548.28h0.6v0.6h-0.6zM122.15 546.2h0.6v0.6h-0.6zM125.76 541.94h0.6v0.6h-0.6zM125.74 543.06h0.6v0.6h-0.6zM121.96 550.69h0.6v0.6h-0.6zM121.86 549.07h0.6v0.6h-0.6zM129.98 547.38h0.6v0.6h-0.6zM123.45 551.98h0.6v0.6h-0.6zM122.63 554.24h0.6v0.6h-0.6zM119.2 551.22h0.6v0.6h-0.6zM122.08 542.01h0.6v0.6h-0.6zM130.62 541.67h0.6v0.6h-0.6zM130.57 551.48h0.6v0.6h-0.6zM129.43 540.85h0.6v0.6h-0.6zM128.48 556.67h0.6v0.6h-0.6zM123.56 546.36h0.6v0.6h-0.6zM133.19 548.35h0.6v0.6h-0.6zM122.42 543.11h0.6v0.6h-0.6zM125.67 549.35h0.6v0.6h-0.6zM124.66 558.39h0.6v0.6h-0.6zM122.77 550.28h0.6v0.6h-0.6zM129.46 540.67h0.6v0.6h-0.6zM127.88 559.11h0.6v0.6h-0.6zM118.93 540.07h0.6v0.6h-0.6zM125.87 556.65h0.6v0.6h-0.6zM117.96 545.14h0.6v0.6h-0.6zM116.83 552.26h0.6v0.6h-0.6zM121.24 545.47h0.6v0.6h-0.6zM124.2 550.74h0.6v0.6h-0.6zM122.7 547.3h0.6v0.6h-0.6zM121.96 547.95h0.6v0.6h-0.6zM119.61 547.61h0.6v0.6h-0.6zM116.77 544.01h0.6v0.6h-0.6zM131.16 547.72h0.6v0.6h-0.6zM119.29 548.87h0.6v0.6h-0.6zM121.25 551.99h0.6v0.6h-0.6zM125.44 546.57h0.6v0.6h-0.6zM120.53 540.19h0.6v0.6h-0.6zM129.05 548.79h0.6v0.6h-0.6zM119.7 546.7h0.6v0.6h-0.6zM124.79 546.18h0.6v0.6h-0.6zM122.96 538.27h0.6v0.6h-0.6zM120.07 558.18h0.6v0.6h-0.6zM121.17 552.7h0.6v0.6h-0.6zM117.66 545.42h0.6v0.6h-0.6zM124.98 553.94h0.6v0.6h-0.6zM119.8 551.07h0.6v0.6h-0.6zM125.44 542.41h0.6v0.6h-0.6zM125.78 541.36h0.6v0.6h-0.6zM121.02 547.08h0.6v0.6h-0.6zM113.85 546.49h0.6v0.6h-0.6zM120.26 537.69h0.6v0.6h-0.6zM122.41 552.16h0.6v0.6h-0.6zM122.49 555.43h0.6v0.6h-0.6zM119.66 538.67h0.6v0.6h-0.6zM129.8 549.79h0.6v0.6h-0.6zM127.53 541.83h0.6v0.6h-0.6zM127.01 548.89h0.6v0.6h-0.6zM126.43 547.36h0.6v0.6h-0.6zM128.51 542.98h0.6v0.6h-0.6zM120.4 537.6h0.6v0.6h-0.6zM128.34 542.4h0.6v0.6h-0.6zM120.1 541.09h0.6v0.6h-0.6zM122.34 538.94h0.6v0.6h-0.6zM122.91 543.12h0.6v0.6h-0.6zM121.94 540.96h0.6v0.6h-0.6zM124.14 544.2h0.6v0.6h-0.6zM124.43 548.82h0.6v0.6h-0.6zM122 542.03h0.6v0.6h-0.6zM121.33 545.29h0.6v0.6h-0.6zM122.74 553.64h0.6v0.6h-0.6zM122.34 553.47h0.6v0.6h-0.6zM128.56 550.03h0.6v0.6h-0.6zM125.82 548h0.6v0.6h-0.6zM125.81 539.3h0.6v0.6h-0.6z" fill="#ff2020" fill-opacity="0.9"/>
<path d="M158.9 544.66h0.5v0.5h-0.5zM135.56 542.85h0.5v0.5h-0.5zM150.47 559.69h0.5v0.5h-0.5zM160.5 545.55h0.5v0.5h-0.5zM145.84 534.12h0.5v0.5h-0.5zM151.83 537.5h0.5v0.5h-0.5zM139.12 531.48h0.5v0.5h-0.5zM135.32 551.92h0.5v0.5h-0.5zM138.34 560.57h0.5v0.5h-0.5zM137.47 557.61h0.5v0.5h-0.5zM138.53 531.54h0.5v0.5h-0.5zM153.76 538.41h0.5v0.5h-0.5zM154.13 536.73h0.5v0.5h-0.5zM136.49 554.69h0.5v0.5h-0.5zM153.61 557.18h0.5v0.5h-0.5zM154.03 533.58h0.5v0.5h-0.5zM151.42 552.7h0.5v0.5h-0.5zM147.08 559.53h0.5v0.5h-0.5zM141.75 560.51h0.5v0.5h-0.5zM153.7 531.35h0.5v0.5h-0.5zM135.58 550.91h0.5v0.5h-0.5zM156.29 533.44h0.5v0.5h-0.5zM143.23 553.32h0.5v0.5h-0.5zM139.48 557.35h0.5v0.5h-0.5zM147.75 532.83h0.5v0.5h-0.5zM144.68 548.59h0.5v0.5h-0.5zM146.52 551.71h0.5v0.5h-0.5zM138.94 555.4h0.5v0.5h-0.5zM144.57 550.73h0.5v0.5h-0.5zM151.45 543.79h0.5v0.5h-0.5zM145.15 555.06h0.5v0.5h-0.5zM159.58 555.01h0.5v0.5h-0.5zM149.82 539.95h0.5v0.5h-0.5zM136.76 560.8h0.5v0.5h-0.5zM153.34 556.32h0.5v0.5h-0.5zM143.77 549.54h0.5v0.5h-0.5zM160.42 556.44h0.5v0.5h-0.5zM150.71 540.44h0.5v0.5h-0.5zM146.26 558.18h0.5v0.5h-0.5zM144.92 551.96h0.5v0.5h-0.5zM150.73 558.42h0.5v0.5h-0.5zM156.03 539.67h0.5v0.5h-0.5zM135.24 539.05h0.5v0.5h-0.5zM146.1 548.95h0.5v0.5h-0.5zM156.25 558.16h0.5v0.5h-0.5zM136.29 556.5h0.5v0.5h-0.5zM156.14 557.54h0.5v0.5h-0.5zM149.96 539.38h0.5v0.5h-0.5zM157.16 555.7h0.5v0.5h-0.5zM152.86 558.96h0.5v0.5h-0.5zM144.15 533.6h0.5v0.5h-0.5zM149.48 555.4h0.5v0.5h-0.5zM140.37 553.96h0.5v0.5h-0.5zM159.24 538.16h0.5v0.5h-0.5zM150.86 551.74h0.5v0.5h-0.5zM147.21 537.32h0.5v0.5h-0.5zM141.77 553.98h0.5v0.5h-0.5zM155.62 545.07h0.5v0.5h-0.5zM137.46 555.68h0.5v0.5h-0.5zM155.12 538.13h0.5v0.5h-0.5zM150.15 558.45h0.5v0.5h-0.5zM158.04 546.97h0.5v0.5h-0.5zM147.5 549.03h0.5v0.5h-0.5zM140.08 536.88h0.5v0.5h-0.5zM139.86 552.45h0.5v0.5h-0.5zM144.56 548.27h0.5v0.5h-0.5zM145.58 546.83h0.5v0.5h-0.5zM139.04 532.36h0.5v0.5h-0.5zM160.93 542.45h0.5v0.5h-0.5zM137.94 550.36h0.5v0.5h-0.5zM155.51 535.78h0.5v0.5h-0.5zM150.61 541.55h0.5v0.5h-0.5zM148.6 531.63h0.5v0.5h-0.5zM136.07 561.31h0.5v0.5h-0.5zM157.54 545.88h0.5v0.5h-0.5zM149.83 539h0.5v0.5h-0.5zM155.3 544.03h0.5v0.5h-0.5zM159.62 554.48h0.5v0.5h-0.5zM156.33 560.48h0.5v0.5h-0.5zM141.75 532.16h0.5v0.5h-0.5zM140.39 536.53h0.5v0.5h-0.5zM137.36 532.56h0.5v0.5h-0.5zM149.58 557.64h0.5v0.5h-0.5zM147.02 559.98h0.5v0.5h-0.5zM158.68 532.96h0.5v0.5h-0.5zM150.63 543.16h0.5v0.5h-0.5zM138.29 560.35h0.5v0.5h-0.5zM141.84 548.27h0.5v0.5h-0.5zM151.73 560.27h0.5v0.5h-0.5zM152.48 543.03h0.5v0.5h-0.5z" fill="#7080ff" fill-opacity="0.55"/>
<path d="M146.77 514.04h0.5v0.5h-0.5zM160.12 528.85h0.5v0.5h-0.5zM140.92 511.89h0.5v0.5h-0.5zM141.8 517.47h0.5v0.5h-0.5zM158.49 527.3h0.5v0.5h-0.5zM156.8 512.04h0.5v0.5h-0.5zM155.49 523.83h0.5v0.5h-0.5zM151.88 528.74h0.5v0.5h-0.5zM136.64 513.78h0.5v0.5h-0.5zM154.68 527.92h0.5v0.5h-0.5zM152.66 516.52h0.5v0.5h-0.5zM150.46 524.69h0.5v0.5h-0.5zM137.92 516.97h0.5v0.5h-0.5zM141.83 513.41h0.5v0.5h-0.5zM147.62 514.2h0.5v0.5h-0.5zM141.35 513.75h0.5v0.5h-0.5zM152.68 511.42h0.5v0.5h-0.5zM153.7 514.67h0.5v0.5h-0.5zM136.13 527.71h0.5v0.5h-0.5zM140.89 527.82h0.5v0.5h-0.5zM157.56 527.02h0.5v0.5h-0.5zM138.81 519.16h0.5v0.5h-0.5zM137.7 527.73h0.5v0.5h-0.5zM156.93 522.38h0.5v0.5h-0.5zM146.87 517.25h0.5v0.5h-0.5zM156.43 519.7h0.5v0.5h-0.5zM151.41 513.74h0.5v0.5h-0.5zM140.92 512.21h0.5v0.5h-0.5zM153.61 521.05h0.5v0.5h-0.5zM138.93 526.7h0.5v0.5h-0.5zM142.07 518.53h0.5v0.5h-0.5zM139.22 516.03h0.5v0.5h-0.5zM156.86 517.15h0.5v0.5h-0.5zM139.53 519.94h0.5v0.5h-0.5zM143.41 527.28h0.5v0.5h-0.5zM138.15 528.62h0.5v0.5h-0.5zM136.67 527.13h0.5v0.5h-0.5zM152.44 514.96h0.5v0.5h-0.5zM147.52 516.29h0.5v0.5h-0.5zM141.85 514.79h0.5v0.5h-0.5zM144.6 528.84h0.5v0.5h-0.5zM160.95 527.67h0.5v0.5h-0.5zM137.72 516.35h0.5v0.5h-0.5zM158.32 512.22h0.5v0.5h-0.5zM153.94 516.42h0.5v0.5h-0.5zM160.45 511.49h0.5v0.5h-0.5zM156.02 517.27h0.5v0.5h-0.5zM138.82 511.23h0.5v0.5h-0.5zM156.67 520.57h0.5v0.5h-0.5zM139.99 518.95h0.5v0.5h-0.5zM158.73 515.09h0.5v0.5h-0.5zM149.94 513.66h0.5v0.5h-0.5zM139.85 524.91h0.5v0.5h-0.5zM153.56 514.7h0.5v0.5h-0.5z" fill="#7080ff" fill-opacity="0.55"/>
<rect x="109.6" y="510.2" width="52.4" height="52.4" fill="none" stroke="#9a9a9a" stroke-width="0.7"/>
<line x1="134.2" y1="510.2" x2="134.2" y2="562.6" stroke="#7a7a7a" stroke-width="0.8"/>
<line x1="109.6" y1="530" x2="162" y2="530" stroke="#7a7a7a" stroke-width="0.9"/>
<line x1="110.1" y1="531.3" x2="161.5" y2="531.3" stroke="#cfcfcf" stroke-width="0.5"/>
<text transform="translate(110.6 513.71) scale(0.88 1)" font-size="3.8" text-anchor="start" fill="#2a2a2a" font-weight="bold" font-family="Liberation Serif">C1: 0.77%</text>
<text transform="translate(161 513.71) scale(0.88 1)" font-size="3.8" text-anchor="end" fill="#2a2a2a" font-weight="bold" font-family="Liberation Serif">C2: 3.30%</text>
<text transform="translate(110.6 533.71) scale(0.88 1)" font-size="3.8" text-anchor="start" fill="#2a2a2a" font-weight="bold" font-family="Liberation Serif">C3: 92.41%</text>
<text transform="translate(161 533.71) scale(0.88 1)" font-size="3.8" text-anchor="end" fill="#2a2a2a" font-weight="bold" font-family="Liberation Serif">C4: 3.52%</text>
<line x1="108" y1="511" x2="109.6" y2="511" stroke="#666" stroke-width="0.5"/>
<line x1="108" y1="522.6" x2="109.6" y2="522.6" stroke="#666" stroke-width="0.5"/>
<line x1="108" y1="534.4" x2="109.6" y2="534.4" stroke="#666" stroke-width="0.5"/>
<line x1="108" y1="546.3" x2="109.6" y2="546.3" stroke="#666" stroke-width="0.5"/>
<line x1="108" y1="556.7" x2="109.6" y2="556.7" stroke="#666" stroke-width="0.5"/>
<line x1="108" y1="562.4" x2="109.6" y2="562.4" stroke="#666" stroke-width="0.5"/>
<line x1="115.1" y1="562.6" x2="115.1" y2="564" stroke="#666" stroke-width="0.5"/>
<line x1="125" y1="562.6" x2="125" y2="564" stroke="#666" stroke-width="0.5"/>
<line x1="136.6" y1="562.6" x2="136.6" y2="564" stroke="#666" stroke-width="0.5"/>
<line x1="149.3" y1="562.6" x2="149.3" y2="564" stroke="#666" stroke-width="0.5"/>
<line x1="160.8" y1="562.6" x2="160.8" y2="564" stroke="#666" stroke-width="0.5"/>
<text x="107.4" y="513.18" font-size="4.3" text-anchor="end" fill="#222">10<tspan font-size="3.01" dy="-1.72">3</tspan></text>
<text x="107.4" y="524.48" font-size="4.3" text-anchor="end" fill="#222">10<tspan font-size="3.01" dy="-1.72">2</tspan></text>
<text x="107.4" y="536.38" font-size="4.3" text-anchor="end" fill="#222">10<tspan font-size="3.01" dy="-1.72">1</tspan></text>
<text x="107.4" y="548.38" font-size="4.3" text-anchor="end" fill="#222">10<tspan font-size="3.01" dy="-1.72">0</tspan></text>
<text x="107" y="558.18" font-size="4.3" text-anchor="end" fill="#222" stroke="#222" stroke-width="0.11">0</text>
<text x="107.2" y="563.78" font-size="4.3" text-anchor="end" fill="#222" stroke="#222" stroke-width="0.11">-0.4</text>
<text x="115.1" y="569.58" font-size="4.3" text-anchor="middle" fill="#222" stroke="#222" stroke-width="0.11">0</text>
<text x="126" y="570.18" font-size="4.3" text-anchor="middle" fill="#222">10<tspan font-size="3.01" dy="-1.72">0</tspan></text>
<text x="137.6" y="570.18" font-size="4.3" text-anchor="middle" fill="#222">10<tspan font-size="3.01" dy="-1.72">1</tspan></text>
<text x="150.3" y="570.18" font-size="4.3" text-anchor="middle" fill="#222">10<tspan font-size="3.01" dy="-1.72">2</tspan></text>
<text x="161.8" y="570.18" font-size="4.3" text-anchor="middle" fill="#222">10<tspan font-size="3.01" dy="-1.72">3</tspan></text>
<text x="65.7" y="579.74" font-size="6.5" text-anchor="middle" fill="#1a1a1a" stroke="#1a1a1a" stroke-width="0.06">Carfilzomib</text>
<ellipse cx="55.7" cy="617.5" rx="7.5" ry="11" fill="#ff6a6a" fill-opacity="0.28" filter="url(#hz)"/>
<path d="M57.89 616.15h0.55v0.55h-0.55zM52.11 609.08h0.55v0.55h-0.55zM55.74 618.33h0.55v0.55h-0.55zM50.83 607.08h0.55v0.55h-0.55zM58.45 607.9h0.55v0.55h-0.55zM56.69 616.7h0.55v0.55h-0.55zM55.7 608.38h0.55v0.55h-0.55zM55.93 612.48h0.55v0.55h-0.55zM57.71 609.97h0.55v0.55h-0.55zM61.11 605.96h0.55v0.55h-0.55zM55.41 614.33h0.55v0.55h-0.55zM60.53 612.08h0.55v0.55h-0.55zM58.66 611.82h0.55v0.55h-0.55zM59.52 625.6h0.55v0.55h-0.55zM54.4 616.62h0.55v0.55h-0.55zM52.03 619.11h0.55v0.55h-0.55zM61.65 616.16h0.55v0.55h-0.55zM51.09 615.5h0.55v0.55h-0.55zM61.37 622.28h0.55v0.55h-0.55zM59.86 604.71h0.55v0.55h-0.55zM53.14 622.04h0.55v0.55h-0.55zM50.68 619.68h0.55v0.55h-0.55zM61.24 613.89h0.55v0.55h-0.55zM50.69 612.43h0.55v0.55h-0.55zM55.31 613.98h0.55v0.55h-0.55zM59.34 614.49h0.55v0.55h-0.55zM57.06 617.22h0.55v0.55h-0.55zM56.18 625.33h0.55v0.55h-0.55zM58.19 615.53h0.55v0.55h-0.55zM55.27 610.58h0.55v0.55h-0.55zM62.25 617h0.55v0.55h-0.55zM51.35 609.9h0.55v0.55h-0.55zM55.59 611.72h0.55v0.55h-0.55zM61.08 608.97h0.55v0.55h-0.55zM58.41 615.93h0.55v0.55h-0.55zM50.9 613.37h0.55v0.55h-0.55zM55.78 617.33h0.55v0.55h-0.55zM54.17 615.74h0.55v0.55h-0.55zM48.71 606.13h0.55v0.55h-0.55zM59.73 621.57h0.55v0.55h-0.55zM56.14 610.96h0.55v0.55h-0.55zM52.6 617.49h0.55v0.55h-0.55zM59.14 609.21h0.55v0.55h-0.55zM47.71 620.77h0.55v0.55h-0.55zM56.89 609.41h0.55v0.55h-0.55zM56.45 619.87h0.55v0.55h-0.55zM44.54 617.92h0.55v0.55h-0.55zM59.67 604.96h0.55v0.55h-0.55zM61.33 618.21h0.55v0.55h-0.55zM56.22 620.66h0.55v0.55h-0.55zM53.32 609.59h0.55v0.55h-0.55zM54.53 613.63h0.55v0.55h-0.55zM51.33 616.05h0.55v0.55h-0.55zM58.64 615.57h0.55v0.55h-0.55zM62.08 612.85h0.55v0.55h-0.55zM57.09 613.71h0.55v0.55h-0.55zM53.97 610.32h0.55v0.55h-0.55zM54.64 609.85h0.55v0.55h-0.55zM46.33 608.36h0.55v0.55h-0.55zM53.73 610.76h0.55v0.55h-0.55zM51.44 612.43h0.55v0.55h-0.55zM59.73 613.97h0.55v0.55h-0.55zM53.98 621.89h0.55v0.55h-0.55zM60.6 621.09h0.55v0.55h-0.55zM61.4 613.96h0.55v0.55h-0.55zM55.62 620.89h0.55v0.55h-0.55zM53.71 613.13h0.55v0.55h-0.55zM57.9 617.14h0.55v0.55h-0.55zM54.96 619.95h0.55v0.55h-0.55zM55.4 618.55h0.55v0.55h-0.55zM61.02 619.66h0.55v0.55h-0.55zM59.5 608.56h0.55v0.55h-0.55zM50.3 609.29h0.55v0.55h-0.55zM58.34 623.89h0.55v0.55h-0.55zM50.7 614.84h0.55v0.55h-0.55zM52.36 609.17h0.55v0.55h-0.55zM54.96 618.23h0.55v0.55h-0.55zM57.16 621.69h0.55v0.55h-0.55zM51.76 618.55h0.55v0.55h-0.55zM60.39 616.02h0.55v0.55h-0.55zM58.35 611.76h0.55v0.55h-0.55zM51.3 610.81h0.55v0.55h-0.55zM53.31 630.72h0.55v0.55h-0.55zM54.02 623.62h0.55v0.55h-0.55zM57.11 616.58h0.55v0.55h-0.55zM59.55 610.81h0.55v0.55h-0.55zM60.32 617.81h0.55v0.55h-0.55zM49.38 616.22h0.55v0.55h-0.55zM58.69 617.82h0.55v0.55h-0.55zM58.5 619.51h0.55v0.55h-0.55zM52.15 620.47h0.55v0.55h-0.55zM49.67 605.12h0.55v0.55h-0.55zM58.55 608.73h0.55v0.55h-0.55zM56.51 607.92h0.55v0.55h-0.55zM57.74 605.9h0.55v0.55h-0.55zM58.22 613.47h0.55v0.55h-0.55zM56.49 614.18h0.55v0.55h-0.55zM56.79 606.89h0.55v0.55h-0.55zM44.66 611.62h0.55v0.55h-0.55zM51.99 610.71h0.55v0.55h-0.55zM52.77 610h0.55v0.55h-0.55zM51.44 615.15h0.55v0.55h-0.55zM55.57 609.51h0.55v0.55h-0.55zM51.77 618.06h0.55v0.55h-0.55zM53.23 617.15h0.55v0.55h-0.55zM51.32 613.22h0.55v0.55h-0.55zM57.74 619.49h0.55v0.55h-0.55zM59.81 621.54h0.55v0.55h-0.55zM54.52 612.81h0.55v0.55h-0.55zM59.69 612.93h0.55v0.55h-0.55zM60.96 606.43h0.55v0.55h-0.55zM59.14 614.27h0.55v0.55h-0.55zM47.35 617.9h0.55v0.55h-0.55zM57.6 615h0.55v0.55h-0.55zM51.36 610.47h0.55v0.55h-0.55zM63 611.45h0.55v0.55h-0.55zM40.58 605.3h0.55v0.55h-0.55zM50.8 612.28h0.55v0.55h-0.55zM54.43 608.66h0.55v0.55h-0.55zM52.41 619.65h0.55v0.55h-0.55zM49.71 624.27h0.55v0.55h-0.55zM53.75 607.42h0.55v0.55h-0.55zM59.74 618.76h0.55v0.55h-0.55zM51.51 617.65h0.55v0.55h-0.55zM47.92 606.86h0.55v0.55h-0.55zM61.27 614.35h0.55v0.55h-0.55zM50.34 615.96h0.55v0.55h-0.55zM60.33 615.47h0.55v0.55h-0.55zM48.07 610.3h0.55v0.55h-0.55zM58.08 619.52h0.55v0.55h-0.55zM54.03 613.7h0.55v0.55h-0.55zM61.63 610.41h0.55v0.55h-0.55zM59.79 611.49h0.55v0.55h-0.55zM58.27 619.1h0.55v0.55h-0.55zM50.88 612.57h0.55v0.55h-0.55zM57.28 618.24h0.55v0.55h-0.55zM52.01 607.55h0.55v0.55h-0.55zM47.54 627.12h0.55v0.55h-0.55zM55.33 612.96h0.55v0.55h-0.55zM49.47 618.17h0.55v0.55h-0.55zM53.79 622.3h0.55v0.55h-0.55zM60.03 615.65h0.55v0.55h-0.55zM59.47 608.84h0.55v0.55h-0.55zM54.73 610.72h0.55v0.55h-0.55zM50.49 613.08h0.55v0.55h-0.55zM55.55 622.76h0.55v0.55h-0.55zM41.11 606.53h0.55v0.55h-0.55zM52.07 610.67h0.55v0.55h-0.55zM58.1 617.38h0.55v0.55h-0.55zM56.33 611.75h0.55v0.55h-0.55zM58.43 617.21h0.55v0.55h-0.55zM47.91 610.75h0.55v0.55h-0.55zM50.01 605.9h0.55v0.55h-0.55zM56.86 615.03h0.55v0.55h-0.55zM56.71 609.49h0.55v0.55h-0.55zM55.29 608.89h0.55v0.55h-0.55zM57.92 619.01h0.55v0.55h-0.55zM52.58 610.84h0.55v0.55h-0.55zM51.98 615.17h0.55v0.55h-0.55zM50.38 615.98h0.55v0.55h-0.55z" fill="#ff6060" fill-opacity="0.55"/>
<path d="M47.09 606.45h0.5v0.5h-0.5zM61.81 631.25h0.5v0.5h-0.5zM48.5 632.61h0.5v0.5h-0.5zM59.32 614.39h0.5v0.5h-0.5zM54.72 634.48h0.5v0.5h-0.5zM52.4 634.16h0.5v0.5h-0.5zM46.95 617.03h0.5v0.5h-0.5zM57.22 611.87h0.5v0.5h-0.5zM48.38 631.88h0.5v0.5h-0.5zM52.16 629.36h0.5v0.5h-0.5zM46.96 610.41h0.5v0.5h-0.5zM49.44 610.81h0.5v0.5h-0.5zM62.69 614h0.5v0.5h-0.5zM53.83 608.62h0.5v0.5h-0.5zM53.23 616.9h0.5v0.5h-0.5zM50.41 607.1h0.5v0.5h-0.5zM44.36 630.37h0.5v0.5h-0.5zM49.29 612.6h0.5v0.5h-0.5zM45.83 613.78h0.5v0.5h-0.5zM46.82 606.17h0.5v0.5h-0.5zM56.05 615.55h0.5v0.5h-0.5zM45.07 626.7h0.5v0.5h-0.5zM43.7 613.35h0.5v0.5h-0.5zM59.74 609.01h0.5v0.5h-0.5zM51.28 630.69h0.5v0.5h-0.5z" fill="#ffaaaa" fill-opacity="0.5"/>
<path d="M48.9 617.5 C48.9 612 57.5 612 57.5 617.5 L56.43 624.5 L54.1 636.1 L51 636.1 C49.55 626.5 48.69 621.5 48.9 617.5 Z" fill="#ff1414" filter="url(#sb)"/>
<path d="M53.93 616.9h0.6v0.6h-0.6zM49.67 628.81h0.6v0.6h-0.6zM46.61 631.95h0.6v0.6h-0.6zM50.58 620.36h0.6v0.6h-0.6zM51.35 621.51h0.6v0.6h-0.6zM52.43 615.64h0.6v0.6h-0.6zM57.13 615.4h0.6v0.6h-0.6zM51.34 624.1h0.6v0.6h-0.6zM51.24 617.68h0.6v0.6h-0.6zM54.5 618.11h0.6v0.6h-0.6zM48.64 619.84h0.6v0.6h-0.6zM52.4 631.58h0.6v0.6h-0.6zM49.19 626.8h0.6v0.6h-0.6zM50.33 618.19h0.6v0.6h-0.6zM52.01 622.26h0.6v0.6h-0.6zM56.36 631.87h0.6v0.6h-0.6zM50.87 629.14h0.6v0.6h-0.6zM56.84 625.78h0.6v0.6h-0.6zM50.42 626.35h0.6v0.6h-0.6zM52.81 622.8h0.6v0.6h-0.6zM52.22 624.82h0.6v0.6h-0.6zM57.28 627.85h0.6v0.6h-0.6zM52.45 626.97h0.6v0.6h-0.6zM58.51 614.42h0.6v0.6h-0.6zM58.58 611.82h0.6v0.6h-0.6zM55.18 624.36h0.6v0.6h-0.6zM58.62 622.31h0.6v0.6h-0.6zM51.44 615.32h0.6v0.6h-0.6zM48.63 625.48h0.6v0.6h-0.6zM52.33 615.84h0.6v0.6h-0.6zM55.14 615.53h0.6v0.6h-0.6zM51.6 617.52h0.6v0.6h-0.6zM59.25 630.01h0.6v0.6h-0.6zM54.21 620.97h0.6v0.6h-0.6zM54.48 624.18h0.6v0.6h-0.6zM52.03 626.51h0.6v0.6h-0.6zM56.26 621.87h0.6v0.6h-0.6zM51.72 617.38h0.6v0.6h-0.6zM55.73 613.35h0.6v0.6h-0.6zM52.62 615.63h0.6v0.6h-0.6zM48.11 624.42h0.6v0.6h-0.6zM53.11 620.73h0.6v0.6h-0.6zM56.4 610.79h0.6v0.6h-0.6zM52.95 622.38h0.6v0.6h-0.6zM56.24 613.45h0.6v0.6h-0.6zM55.82 621.93h0.6v0.6h-0.6zM58.16 627.9h0.6v0.6h-0.6zM55.21 634.47h0.6v0.6h-0.6zM53.2 617.74h0.6v0.6h-0.6zM51.95 614.39h0.6v0.6h-0.6zM52.89 623.27h0.6v0.6h-0.6zM56.82 618.24h0.6v0.6h-0.6zM58.28 616.27h0.6v0.6h-0.6zM50.42 615.36h0.6v0.6h-0.6zM58.53 623.87h0.6v0.6h-0.6zM49.26 623.89h0.6v0.6h-0.6zM54.92 619.02h0.6v0.6h-0.6zM53.28 618.56h0.6v0.6h-0.6zM52.88 628.65h0.6v0.6h-0.6zM58.31 618.73h0.6v0.6h-0.6zM50.53 619.16h0.6v0.6h-0.6zM56.4 622.73h0.6v0.6h-0.6zM51.12 622.8h0.6v0.6h-0.6zM52.46 623.77h0.6v0.6h-0.6zM51.75 611.17h0.6v0.6h-0.6zM53.41 625.32h0.6v0.6h-0.6zM49.25 619.82h0.6v0.6h-0.6zM56.33 618.13h0.6v0.6h-0.6zM50.88 633.37h0.6v0.6h-0.6zM56.16 627.01h0.6v0.6h-0.6zM49.83 630.84h0.6v0.6h-0.6zM47.3 617.22h0.6v0.6h-0.6zM55.83 628.92h0.6v0.6h-0.6zM49.89 616.3h0.6v0.6h-0.6zM55.47 624.04h0.6v0.6h-0.6zM51.61 623.9h0.6v0.6h-0.6zM55.96 622.45h0.6v0.6h-0.6zM55.05 630.06h0.6v0.6h-0.6zM51.5 621.52h0.6v0.6h-0.6zM51.35 627.02h0.6v0.6h-0.6zM51.75 623.49h0.6v0.6h-0.6zM53.69 620.92h0.6v0.6h-0.6zM59.28 619.96h0.6v0.6h-0.6zM58.22 625.7h0.6v0.6h-0.6zM57.87 619.46h0.6v0.6h-0.6zM56.48 625.26h0.6v0.6h-0.6zM51.03 622.19h0.6v0.6h-0.6zM52.75 620.28h0.6v0.6h-0.6zM57.8 615.97h0.6v0.6h-0.6zM51.6 616.45h0.6v0.6h-0.6zM53.25 624.05h0.6v0.6h-0.6zM59.41 622.44h0.6v0.6h-0.6zM54.84 615.89h0.6v0.6h-0.6zM55.25 629.02h0.6v0.6h-0.6zM56.34 630.43h0.6v0.6h-0.6zM56.11 611.13h0.6v0.6h-0.6zM52.12 624.18h0.6v0.6h-0.6zM54.66 615.42h0.6v0.6h-0.6zM50.06 626.55h0.6v0.6h-0.6zM48.5 629.48h0.6v0.6h-0.6zM53.27 622.38h0.6v0.6h-0.6zM48.51 616.77h0.6v0.6h-0.6zM55.62 611.3h0.6v0.6h-0.6zM60.49 611.72h0.6v0.6h-0.6zM48.9 620.77h0.6v0.6h-0.6zM54.89 625.08h0.6v0.6h-0.6zM51.9 619.2h0.6v0.6h-0.6zM52.37 616.91h0.6v0.6h-0.6zM44.14 626.51h0.6v0.6h-0.6zM54.08 621.49h0.6v0.6h-0.6zM50.99 622.07h0.6v0.6h-0.6zM53.15 620.02h0.6v0.6h-0.6zM54.08 613.84h0.6v0.6h-0.6zM52.08 629.86h0.6v0.6h-0.6zM49.39 619.88h0.6v0.6h-0.6zM51.12 626.43h0.6v0.6h-0.6zM55 618.29h0.6v0.6h-0.6zM52.08 627.25h0.6v0.6h-0.6zM50.08 618.17h0.6v0.6h-0.6zM53.72 623.08h0.6v0.6h-0.6zM51.39 626.96h0.6v0.6h-0.6zM61.07 617.95h0.6v0.6h-0.6zM58.14 618.35h0.6v0.6h-0.6zM53.68 618.38h0.6v0.6h-0.6zM50.97 612.53h0.6v0.6h-0.6zM51.81 628.59h0.6v0.6h-0.6zM57.2 618.33h0.6v0.6h-0.6zM51.35 616.12h0.6v0.6h-0.6zM48.99 631.76h0.6v0.6h-0.6zM55.53 621.23h0.6v0.6h-0.6zM51.48 614.12h0.6v0.6h-0.6zM57.82 625.37h0.6v0.6h-0.6zM49.86 626.67h0.6v0.6h-0.6zM49.31 624.51h0.6v0.6h-0.6zM49.83 617.91h0.6v0.6h-0.6zM54.94 623.2h0.6v0.6h-0.6zM56.75 615.28h0.6v0.6h-0.6zM58.74 628.89h0.6v0.6h-0.6zM53.16 623.4h0.6v0.6h-0.6zM50.47 619.55h0.6v0.6h-0.6z" fill="#ff2020" fill-opacity="0.9"/>
<path d="M77.92 622.05h0.5v0.5h-0.5zM71.15 622.62h0.5v0.5h-0.5zM68.22 620.8h0.5v0.5h-0.5zM80.48 607.55h0.5v0.5h-0.5zM75.83 607.35h0.5v0.5h-0.5zM76.64 631.52h0.5v0.5h-0.5zM79.5 626.97h0.5v0.5h-0.5zM84.83 608.61h0.5v0.5h-0.5zM90.86 627.18h0.5v0.5h-0.5zM67.93 630.5h0.5v0.5h-0.5zM75.41 610.34h0.5v0.5h-0.5zM90.07 622.33h0.5v0.5h-0.5zM85.29 609.29h0.5v0.5h-0.5zM85.33 606.86h0.5v0.5h-0.5zM71.41 616.49h0.5v0.5h-0.5zM65.69 623.29h0.5v0.5h-0.5zM70.8 614.28h0.5v0.5h-0.5zM83.55 618.13h0.5v0.5h-0.5zM88.23 624.11h0.5v0.5h-0.5zM87.8 622.33h0.5v0.5h-0.5zM88.97 631.75h0.5v0.5h-0.5zM69.63 627.91h0.5v0.5h-0.5zM74.11 628.47h0.5v0.5h-0.5zM82.86 630.36h0.5v0.5h-0.5zM68.47 616.51h0.5v0.5h-0.5zM84.32 634.11h0.5v0.5h-0.5zM83.92 606.43h0.5v0.5h-0.5zM80.88 608.15h0.5v0.5h-0.5zM79.46 629.67h0.5v0.5h-0.5zM68.21 633.42h0.5v0.5h-0.5zM82.72 612.89h0.5v0.5h-0.5zM70.28 618.77h0.5v0.5h-0.5zM86.92 622.89h0.5v0.5h-0.5zM68.23 605.74h0.5v0.5h-0.5zM68.15 629.6h0.5v0.5h-0.5zM70.08 622.06h0.5v0.5h-0.5zM72.78 626.13h0.5v0.5h-0.5zM75.13 609.51h0.5v0.5h-0.5zM87.89 621.58h0.5v0.5h-0.5zM83.09 629.83h0.5v0.5h-0.5zM89.78 605.52h0.5v0.5h-0.5zM74.13 609.72h0.5v0.5h-0.5zM78.25 631.82h0.5v0.5h-0.5zM85.95 606.19h0.5v0.5h-0.5zM70 630.14h0.5v0.5h-0.5zM82.83 617.11h0.5v0.5h-0.5zM77.57 609.94h0.5v0.5h-0.5zM87.1 617.14h0.5v0.5h-0.5zM87.82 623.79h0.5v0.5h-0.5zM67.26 615.18h0.5v0.5h-0.5zM70.88 632.46h0.5v0.5h-0.5zM80.5 606.44h0.5v0.5h-0.5zM69.68 616.15h0.5v0.5h-0.5zM77.37 622.76h0.5v0.5h-0.5zM75.31 615.92h0.5v0.5h-0.5z" fill="#7080ff" fill-opacity="0.55"/>
<path d="M65.45 595.61h0.5v0.5h-0.5zM73.91 585.67h0.5v0.5h-0.5zM77.15 602.86h0.5v0.5h-0.5zM66.47 587.9h0.5v0.5h-0.5zM82.61 590.15h0.5v0.5h-0.5zM72.35 594.2h0.5v0.5h-0.5zM72.06 595.43h0.5v0.5h-0.5zM78.93 602.33h0.5v0.5h-0.5zM90.9 585.91h0.5v0.5h-0.5zM79.76 599.02h0.5v0.5h-0.5zM87.81 599.08h0.5v0.5h-0.5zM81.63 596.6h0.5v0.5h-0.5zM74.66 590.31h0.5v0.5h-0.5zM85.82 600.84h0.5v0.5h-0.5zM89.52 597.43h0.5v0.5h-0.5zM73.14 598.89h0.5v0.5h-0.5zM84.38 594.36h0.5v0.5h-0.5zM81.69 591.54h0.5v0.5h-0.5zM79.51 592.53h0.5v0.5h-0.5zM66.86 591.3h0.5v0.5h-0.5zM73.64 602.89h0.5v0.5h-0.5zM77.72 591.84h0.5v0.5h-0.5zM71.58 589.48h0.5v0.5h-0.5zM74.31 587.71h0.5v0.5h-0.5zM65.49 600.8h0.5v0.5h-0.5zM76.99 593.23h0.5v0.5h-0.5zM79.97 590.68h0.5v0.5h-0.5zM69.66 586.48h0.5v0.5h-0.5zM73.08 590.79h0.5v0.5h-0.5zM84.05 595.11h0.5v0.5h-0.5zM89.49 591.36h0.5v0.5h-0.5zM89.07 595.68h0.5v0.5h-0.5zM67.36 588.48h0.5v0.5h-0.5z" fill="#7080ff" fill-opacity="0.55"/>
<rect x="39.7" y="584.3" width="52.4" height="52.4" fill="none" stroke="#9a9a9a" stroke-width="0.7"/>
<line x1="64.3" y1="584.3" x2="64.3" y2="636.7" stroke="#7a7a7a" stroke-width="0.8"/>
<line x1="39.7" y1="604.1" x2="92.1" y2="604.1" stroke="#7a7a7a" stroke-width="0.9"/>
<line x1="40.2" y1="605.4" x2="91.6" y2="605.4" stroke="#cfcfcf" stroke-width="0.5"/>
<text transform="translate(40.7 587.81) scale(0.88 1)" font-size="3.8" text-anchor="start" fill="#2a2a2a" font-weight="bold" font-family="Liberation Serif">C1: 0.91%</text>
<text transform="translate(91.1 587.81) scale(0.88 1)" font-size="3.8" text-anchor="end" fill="#2a2a2a" font-weight="bold" font-family="Liberation Serif">C2: 2.14%</text>
<text transform="translate(40.7 607.81) scale(0.88 1)" font-size="3.8" text-anchor="start" fill="#2a2a2a" font-weight="bold" font-family="Liberation Serif">C3: 95.57%</text>
<text transform="translate(91.1 607.81) scale(0.88 1)" font-size="3.8" text-anchor="end" fill="#2a2a2a" font-weight="bold" font-family="Liberation Serif">C4: 1.37%</text>
<line x1="38.1" y1="585.1" x2="39.7" y2="585.1" stroke="#666" stroke-width="0.5"/>
<line x1="38.1" y1="596.7" x2="39.7" y2="596.7" stroke="#666" stroke-width="0.5"/>
<line x1="38.1" y1="608.5" x2="39.7" y2="608.5" stroke="#666" stroke-width="0.5"/>
<line x1="38.1" y1="620.4" x2="39.7" y2="620.4" stroke="#666" stroke-width="0.5"/>
<line x1="38.1" y1="630.8" x2="39.7" y2="630.8" stroke="#666" stroke-width="0.5"/>
<line x1="38.1" y1="636.5" x2="39.7" y2="636.5" stroke="#666" stroke-width="0.5"/>
<line x1="45.2" y1="636.7" x2="45.2" y2="638.1" stroke="#666" stroke-width="0.5"/>
<line x1="55.1" y1="636.7" x2="55.1" y2="638.1" stroke="#666" stroke-width="0.5"/>
<line x1="66.7" y1="636.7" x2="66.7" y2="638.1" stroke="#666" stroke-width="0.5"/>
<line x1="79.4" y1="636.7" x2="79.4" y2="638.1" stroke="#666" stroke-width="0.5"/>
<line x1="90.9" y1="636.7" x2="90.9" y2="638.1" stroke="#666" stroke-width="0.5"/>
<text x="37.5" y="587.28" font-size="4.3" text-anchor="end" fill="#222">10<tspan font-size="3.01" dy="-1.72">3</tspan></text>
<text x="37.5" y="598.58" font-size="4.3" text-anchor="end" fill="#222">10<tspan font-size="3.01" dy="-1.72">2</tspan></text>
<text x="37.5" y="610.48" font-size="4.3" text-anchor="end" fill="#222">10<tspan font-size="3.01" dy="-1.72">1</tspan></text>
<text x="37.5" y="622.48" font-size="4.3" text-anchor="end" fill="#222">10<tspan font-size="3.01" dy="-1.72">0</tspan></text>
<text x="37.1" y="632.28" font-size="4.3" text-anchor="end" fill="#222" stroke="#222" stroke-width="0.11">0</text>
<text x="37.3" y="637.88" font-size="4.3" text-anchor="end" fill="#222" stroke="#222" stroke-width="0.11">-0.4</text>
<text x="45.2" y="643.68" font-size="4.3" text-anchor="middle" fill="#222" stroke="#222" stroke-width="0.11">0</text>
<text x="56.1" y="644.28" font-size="4.3" text-anchor="middle" fill="#222">10<tspan font-size="3.01" dy="-1.72">0</tspan></text>
<text x="67.7" y="644.28" font-size="4.3" text-anchor="middle" fill="#222">10<tspan font-size="3.01" dy="-1.72">1</tspan></text>
<text x="80.4" y="644.28" font-size="4.3" text-anchor="middle" fill="#222">10<tspan font-size="3.01" dy="-1.72">2</tspan></text>
<text x="91.9" y="644.28" font-size="4.3" text-anchor="middle" fill="#222">10<tspan font-size="3.01" dy="-1.72">3</tspan></text>
<text x="135.7" y="579.74" font-size="6.5" text-anchor="middle" fill="#1a1a1a" stroke="#1a1a1a" stroke-width="0.06">Combo</text>
<ellipse cx="124.7" cy="614.3" rx="7" ry="10" fill="#ff7070" fill-opacity="0.25" filter="url(#hz)"/>
<path d="M120.19 623.75h0.6v0.6h-0.6zM117.09 620.44h0.6v0.6h-0.6zM129.1 617.63h0.6v0.6h-0.6zM127.42 610.97h0.6v0.6h-0.6zM124.66 615.81h0.6v0.6h-0.6zM126.4 619.05h0.6v0.6h-0.6zM123.87 609.59h0.6v0.6h-0.6zM122.43 617.06h0.6v0.6h-0.6zM118 605.88h0.6v0.6h-0.6zM123.04 610.58h0.6v0.6h-0.6zM123.33 612.61h0.6v0.6h-0.6zM123.47 617.49h0.6v0.6h-0.6zM126.67 622.34h0.6v0.6h-0.6zM128.96 607.25h0.6v0.6h-0.6zM127.27 612.05h0.6v0.6h-0.6zM121.46 624.62h0.6v0.6h-0.6zM122.16 608.55h0.6v0.6h-0.6zM123.05 608.57h0.6v0.6h-0.6zM128.76 616.86h0.6v0.6h-0.6zM130.35 617.07h0.6v0.6h-0.6zM122.22 621.35h0.6v0.6h-0.6zM122.06 611.19h0.6v0.6h-0.6zM124.02 614.56h0.6v0.6h-0.6zM129.53 610.22h0.6v0.6h-0.6zM126.12 614.11h0.6v0.6h-0.6zM119.62 606.93h0.6v0.6h-0.6zM123.81 617.02h0.6v0.6h-0.6zM126 617.53h0.6v0.6h-0.6zM124.9 611.28h0.6v0.6h-0.6zM126.42 607.54h0.6v0.6h-0.6zM119.27 612.06h0.6v0.6h-0.6zM118.92 610.83h0.6v0.6h-0.6zM121.68 610.56h0.6v0.6h-0.6zM124.52 608.9h0.6v0.6h-0.6zM125.29 608.36h0.6v0.6h-0.6zM121.45 615.94h0.6v0.6h-0.6zM114.82 611.87h0.6v0.6h-0.6zM125.08 615h0.6v0.6h-0.6zM118.64 615.85h0.6v0.6h-0.6zM125.3 607.73h0.6v0.6h-0.6zM127.72 613.97h0.6v0.6h-0.6zM124.78 611.26h0.6v0.6h-0.6zM126.92 614.96h0.6v0.6h-0.6zM129.31 617.35h0.6v0.6h-0.6zM122.2 612.79h0.6v0.6h-0.6zM128.42 611.83h0.6v0.6h-0.6zM126.25 617.83h0.6v0.6h-0.6zM125.24 615.75h0.6v0.6h-0.6zM125.25 609.16h0.6v0.6h-0.6zM129.61 613.39h0.6v0.6h-0.6zM122.17 609.45h0.6v0.6h-0.6zM126.16 606.92h0.6v0.6h-0.6zM120.64 627.84h0.6v0.6h-0.6zM130.02 621.43h0.6v0.6h-0.6zM130.24 618.33h0.6v0.6h-0.6zM117.85 622.39h0.6v0.6h-0.6zM129.73 617.62h0.6v0.6h-0.6zM116.75 622.72h0.6v0.6h-0.6zM130.25 610.97h0.6v0.6h-0.6zM125.22 619.56h0.6v0.6h-0.6zM124.35 621.74h0.6v0.6h-0.6zM125.03 618.99h0.6v0.6h-0.6zM125.84 623.19h0.6v0.6h-0.6zM129.33 625.93h0.6v0.6h-0.6zM126.96 610.26h0.6v0.6h-0.6zM123.93 620.45h0.6v0.6h-0.6zM115.89 615.64h0.6v0.6h-0.6zM128.06 623.31h0.6v0.6h-0.6zM120.93 609.87h0.6v0.6h-0.6zM117.06 607.38h0.6v0.6h-0.6zM126.88 628.36h0.6v0.6h-0.6zM120.03 623.67h0.6v0.6h-0.6zM126.44 610.94h0.6v0.6h-0.6zM124.42 615.79h0.6v0.6h-0.6zM128.7 623.58h0.6v0.6h-0.6zM126.79 616.75h0.6v0.6h-0.6zM123.95 611.52h0.6v0.6h-0.6zM119.68 627.56h0.6v0.6h-0.6zM125.78 614.07h0.6v0.6h-0.6zM125.42 626.65h0.6v0.6h-0.6zM124.27 612.49h0.6v0.6h-0.6zM121.65 614.15h0.6v0.6h-0.6zM122.91 615.69h0.6v0.6h-0.6zM121.2 627.44h0.6v0.6h-0.6zM128.23 619.86h0.6v0.6h-0.6zM127.62 619.88h0.6v0.6h-0.6zM127.46 623.9h0.6v0.6h-0.6zM128.81 623.48h0.6v0.6h-0.6zM122.65 614.28h0.6v0.6h-0.6zM121.72 620.82h0.6v0.6h-0.6zM128.1 611.13h0.6v0.6h-0.6zM127.09 632.19h0.6v0.6h-0.6zM129.76 606.7h0.6v0.6h-0.6zM124.32 618.63h0.6v0.6h-0.6zM124.55 616.93h0.6v0.6h-0.6zM129.52 616.54h0.6v0.6h-0.6zM120.21 619.17h0.6v0.6h-0.6zM124.3 615.08h0.6v0.6h-0.6zM119.6 611.89h0.6v0.6h-0.6zM129.4 606.38h0.6v0.6h-0.6zM121.74 617.92h0.6v0.6h-0.6zM114.84 623.45h0.6v0.6h-0.6zM121.56 618.8h0.6v0.6h-0.6zM122.73 616.38h0.6v0.6h-0.6zM125.13 614.29h0.6v0.6h-0.6zM124.53 623.91h0.6v0.6h-0.6zM122.47 617.93h0.6v0.6h-0.6zM125.36 617.6h0.6v0.6h-0.6zM125.82 613.09h0.6v0.6h-0.6zM123.42 608.48h0.6v0.6h-0.6zM121.48 607.28h0.6v0.6h-0.6zM120.21 631.42h0.6v0.6h-0.6zM131.66 614.37h0.6v0.6h-0.6zM127.74 607.64h0.6v0.6h-0.6zM125.28 624.12h0.6v0.6h-0.6zM124.53 607.47h0.6v0.6h-0.6zM123.71 607.5h0.6v0.6h-0.6zM118.99 612.72h0.6v0.6h-0.6zM123.06 608.76h0.6v0.6h-0.6zM121.08 607.96h0.6v0.6h-0.6zM125.67 623.8h0.6v0.6h-0.6zM123.84 629.55h0.6v0.6h-0.6zM118.08 616.17h0.6v0.6h-0.6zM119.97 613.2h0.6v0.6h-0.6zM125.12 618.11h0.6v0.6h-0.6zM129.32 610.51h0.6v0.6h-0.6zM119.62 613.02h0.6v0.6h-0.6zM125.9 609.54h0.6v0.6h-0.6zM128.36 625.79h0.6v0.6h-0.6zM118.88 616.77h0.6v0.6h-0.6zM125.54 612.76h0.6v0.6h-0.6zM118.87 623.28h0.6v0.6h-0.6zM125.59 611.03h0.6v0.6h-0.6zM126.52 618.68h0.6v0.6h-0.6zM127.85 618.26h0.6v0.6h-0.6zM126.37 606.27h0.6v0.6h-0.6zM122.98 615.18h0.6v0.6h-0.6zM113.37 628.84h0.6v0.6h-0.6zM123.15 607.11h0.6v0.6h-0.6zM117.25 616h0.6v0.6h-0.6zM124.83 610.32h0.6v0.6h-0.6zM122.99 608.24h0.6v0.6h-0.6zM121.63 613.63h0.6v0.6h-0.6zM122.07 618.93h0.6v0.6h-0.6zM124.12 615.2h0.6v0.6h-0.6zM126.36 622.97h0.6v0.6h-0.6zM127.16 615.86h0.6v0.6h-0.6zM124.03 608.8h0.6v0.6h-0.6zM123.3 618.96h0.6v0.6h-0.6zM125.63 611.65h0.6v0.6h-0.6zM126.02 621.31h0.6v0.6h-0.6zM123.83 615.81h0.6v0.6h-0.6zM120.94 616.67h0.6v0.6h-0.6zM123.88 608.61h0.6v0.6h-0.6zM119.62 619.83h0.6v0.6h-0.6zM126.16 608.25h0.6v0.6h-0.6zM120.55 620.37h0.6v0.6h-0.6zM127.14 612.22h0.6v0.6h-0.6zM131.22 612.32h0.6v0.6h-0.6zM120.38 621.75h0.6v0.6h-0.6zM123.93 616.65h0.6v0.6h-0.6zM124.86 607.47h0.6v0.6h-0.6zM119.84 612.98h0.6v0.6h-0.6zM130.45 607.46h0.6v0.6h-0.6zM130.26 615.8h0.6v0.6h-0.6zM120.15 616.12h0.6v0.6h-0.6zM127.02 608.17h0.6v0.6h-0.6zM115.99 616.73h0.6v0.6h-0.6zM120.16 617.3h0.6v0.6h-0.6zM116.88 613.33h0.6v0.6h-0.6zM123.71 615.47h0.6v0.6h-0.6zM122.42 606.26h0.6v0.6h-0.6zM126.89 617.64h0.6v0.6h-0.6zM131.55 620.32h0.6v0.6h-0.6zM126.15 616.09h0.6v0.6h-0.6zM124.81 605.28h0.6v0.6h-0.6zM130.67 617.88h0.6v0.6h-0.6zM123.53 606.5h0.6v0.6h-0.6zM130.76 617.92h0.6v0.6h-0.6zM119.86 618.87h0.6v0.6h-0.6zM132.44 614.15h0.6v0.6h-0.6zM126.33 611.47h0.6v0.6h-0.6zM122.13 621.6h0.6v0.6h-0.6zM124.19 619.7h0.6v0.6h-0.6zM123.46 619.26h0.6v0.6h-0.6zM128.08 607.39h0.6v0.6h-0.6zM120.33 613.8h0.6v0.6h-0.6zM128.1 616.18h0.6v0.6h-0.6zM126.71 610.07h0.6v0.6h-0.6zM125.11 616.49h0.6v0.6h-0.6zM120.74 612.75h0.6v0.6h-0.6zM119.96 616.11h0.6v0.6h-0.6zM121.23 610.94h0.6v0.6h-0.6zM125.59 609.86h0.6v0.6h-0.6zM129.38 609.97h0.6v0.6h-0.6zM128.16 616.22h0.6v0.6h-0.6zM120.49 612.82h0.6v0.6h-0.6zM121.29 611.84h0.6v0.6h-0.6zM123.6 626.65h0.6v0.6h-0.6zM122.99 624.95h0.6v0.6h-0.6zM126.52 605.43h0.6v0.6h-0.6zM115.28 618.9h0.6v0.6h-0.6zM116.6 619.17h0.6v0.6h-0.6zM128.89 616.95h0.6v0.6h-0.6zM123.85 612.6h0.6v0.6h-0.6zM125.75 612.24h0.6v0.6h-0.6zM122.52 611.79h0.6v0.6h-0.6zM129.46 610.09h0.6v0.6h-0.6zM126.24 606.49h0.6v0.6h-0.6zM123.9 618.93h0.6v0.6h-0.6zM125.94 610.96h0.6v0.6h-0.6zM127.19 611.95h0.6v0.6h-0.6zM126.21 616.15h0.6v0.6h-0.6zM119.4 619.54h0.6v0.6h-0.6zM124.26 629.5h0.6v0.6h-0.6zM123.75 610.56h0.6v0.6h-0.6zM130.77 618.06h0.6v0.6h-0.6zM132.41 617.75h0.6v0.6h-0.6zM123.87 619.2h0.6v0.6h-0.6zM121.5 611.28h0.6v0.6h-0.6zM122.44 612.8h0.6v0.6h-0.6zM127.86 611.04h0.6v0.6h-0.6zM126.01 610.93h0.6v0.6h-0.6zM123.86 615.44h0.6v0.6h-0.6zM120.32 621.16h0.6v0.6h-0.6zM125.58 622.97h0.6v0.6h-0.6zM128.61 618.64h0.6v0.6h-0.6zM124.09 606.95h0.6v0.6h-0.6zM123.81 611.19h0.6v0.6h-0.6zM125.71 611.15h0.6v0.6h-0.6zM129.47 611.12h0.6v0.6h-0.6zM123.72 620.56h0.6v0.6h-0.6zM124.71 606.1h0.6v0.6h-0.6zM126.38 612.98h0.6v0.6h-0.6zM116.35 615.64h0.6v0.6h-0.6zM120.42 609.27h0.6v0.6h-0.6zM126.66 616.33h0.6v0.6h-0.6zM123.52 628.97h0.6v0.6h-0.6zM126.4 610.15h0.6v0.6h-0.6zM125.66 613.48h0.6v0.6h-0.6z" fill="#ff4a4a" fill-opacity="0.75"/>
<path d="M119.09 606.63h0.7v0.7h-0.7zM120.98 618.58h0.7v0.7h-0.7zM123.77 610.89h0.7v0.7h-0.7zM122.89 615.02h0.7v0.7h-0.7zM124.26 617.4h0.7v0.7h-0.7zM126.03 617.2h0.7v0.7h-0.7zM123.93 613.03h0.7v0.7h-0.7zM123.2 611.25h0.7v0.7h-0.7zM120.19 609.89h0.7v0.7h-0.7zM122 609.66h0.7v0.7h-0.7zM127.02 612.66h0.7v0.7h-0.7zM127.04 614.61h0.7v0.7h-0.7zM126.33 615.09h0.7v0.7h-0.7zM122.8 614.43h0.7v0.7h-0.7zM123.45 610.06h0.7v0.7h-0.7zM126.96 618.89h0.7v0.7h-0.7zM121.94 617.49h0.7v0.7h-0.7zM126.12 609.02h0.7v0.7h-0.7zM124.83 613.02h0.7v0.7h-0.7zM125.07 610.63h0.7v0.7h-0.7zM121.23 611.9h0.7v0.7h-0.7zM126.19 614.37h0.7v0.7h-0.7zM125.73 615.41h0.7v0.7h-0.7zM121.91 611.66h0.7v0.7h-0.7zM124.99 615.07h0.7v0.7h-0.7zM124.56 613.5h0.7v0.7h-0.7zM124.51 618.67h0.7v0.7h-0.7zM119.15 611.72h0.7v0.7h-0.7zM129.92 612.57h0.7v0.7h-0.7zM119.96 612.24h0.7v0.7h-0.7zM120.89 609.58h0.7v0.7h-0.7zM124.72 617.41h0.7v0.7h-0.7zM125.27 613.99h0.7v0.7h-0.7zM126.55 612.46h0.7v0.7h-0.7zM122.22 611.48h0.7v0.7h-0.7zM124.98 610.89h0.7v0.7h-0.7zM122.66 610.62h0.7v0.7h-0.7zM120.73 608.45h0.7v0.7h-0.7zM123.99 610.62h0.7v0.7h-0.7zM124.29 616.4h0.7v0.7h-0.7zM124.89 611.69h0.7v0.7h-0.7zM121.49 608.27h0.7v0.7h-0.7zM125.07 608.94h0.7v0.7h-0.7zM125.19 608.29h0.7v0.7h-0.7zM124.51 611.56h0.7v0.7h-0.7zM126.5 610.52h0.7v0.7h-0.7zM123.34 612.6h0.7v0.7h-0.7zM124.33 617.33h0.7v0.7h-0.7zM123.61 610.04h0.7v0.7h-0.7zM123.46 613.35h0.7v0.7h-0.7zM124.74 614.07h0.7v0.7h-0.7zM121 619.91h0.7v0.7h-0.7zM128.45 611.7h0.7v0.7h-0.7zM121.41 612.31h0.7v0.7h-0.7zM124.23 606.96h0.7v0.7h-0.7zM125.26 616.32h0.7v0.7h-0.7zM126.59 606.87h0.7v0.7h-0.7zM127.39 614.76h0.7v0.7h-0.7zM123.37 613.44h0.7v0.7h-0.7zM127.7 610.71h0.7v0.7h-0.7zM124.16 609.97h0.7v0.7h-0.7zM126.87 604.75h0.7v0.7h-0.7zM127.48 608.63h0.7v0.7h-0.7zM126.34 606.48h0.7v0.7h-0.7zM122.04 609.84h0.7v0.7h-0.7zM126.11 606.5h0.7v0.7h-0.7zM125.59 609.72h0.7v0.7h-0.7zM127.07 610.78h0.7v0.7h-0.7zM125.32 611.24h0.7v0.7h-0.7zM128.34 610.62h0.7v0.7h-0.7zM124.14 618.29h0.7v0.7h-0.7zM124.38 614.04h0.7v0.7h-0.7zM122.5 612.45h0.7v0.7h-0.7zM118.96 612.14h0.7v0.7h-0.7zM122.71 606.88h0.7v0.7h-0.7zM120.93 615.53h0.7v0.7h-0.7zM125.19 606.84h0.7v0.7h-0.7zM128.39 609.52h0.7v0.7h-0.7zM123.35 612.61h0.7v0.7h-0.7zM121.57 606.51h0.7v0.7h-0.7zM122.48 615.67h0.7v0.7h-0.7zM126.4 606.63h0.7v0.7h-0.7zM126.98 611.91h0.7v0.7h-0.7zM125.36 611.97h0.7v0.7h-0.7zM125.16 608.53h0.7v0.7h-0.7zM122.1 609.5h0.7v0.7h-0.7zM123.35 613.83h0.7v0.7h-0.7zM121.39 617.02h0.7v0.7h-0.7zM122.74 609.87h0.7v0.7h-0.7zM125.82 613.22h0.7v0.7h-0.7zM123.42 608.3h0.7v0.7h-0.7zM121.89 606.57h0.7v0.7h-0.7zM126.84 615.34h0.7v0.7h-0.7zM128.51 613.43h0.7v0.7h-0.7zM124.97 614.28h0.7v0.7h-0.7zM126.4 610.95h0.7v0.7h-0.7zM125.01 618.85h0.7v0.7h-0.7zM120.29 607.2h0.7v0.7h-0.7zM121.98 614.27h0.7v0.7h-0.7zM126.94 610.69h0.7v0.7h-0.7zM125.75 611.64h0.7v0.7h-0.7zM124.89 610.03h0.7v0.7h-0.7zM124.14 611.78h0.7v0.7h-0.7zM126.81 619.1h0.7v0.7h-0.7zM120.01 613.54h0.7v0.7h-0.7zM124.19 614.97h0.7v0.7h-0.7zM126.65 614.35h0.7v0.7h-0.7zM126.07 608.69h0.7v0.7h-0.7zM120.26 617.27h0.7v0.7h-0.7zM126.99 608.68h0.7v0.7h-0.7zM127.18 613.98h0.7v0.7h-0.7zM118.53 614.74h0.7v0.7h-0.7zM121.92 615.62h0.7v0.7h-0.7zM122.63 609.37h0.7v0.7h-0.7zM120.63 611.09h0.7v0.7h-0.7zM126.55 609.6h0.7v0.7h-0.7zM119.9 618.82h0.7v0.7h-0.7zM128.47 614.06h0.7v0.7h-0.7zM122.96 607.83h0.7v0.7h-0.7zM120.41 613.63h0.7v0.7h-0.7zM127.2 608.33h0.7v0.7h-0.7zM124.2 610.89h0.7v0.7h-0.7zM123.61 613.44h0.7v0.7h-0.7zM129.04 609.71h0.7v0.7h-0.7zM126.17 615.37h0.7v0.7h-0.7zM123.54 611.31h0.7v0.7h-0.7zM121.1 615.33h0.7v0.7h-0.7zM122.97 609.66h0.7v0.7h-0.7zM124.36 608.99h0.7v0.7h-0.7zM121.79 610.82h0.7v0.7h-0.7zM127.64 611.13h0.7v0.7h-0.7zM125.42 606.99h0.7v0.7h-0.7zM119.69 617.76h0.7v0.7h-0.7zM123.28 606.76h0.7v0.7h-0.7zM123.95 613.79h0.7v0.7h-0.7zM120.2 608.91h0.7v0.7h-0.7zM124.8 608.78h0.7v0.7h-0.7zM126.04 614.95h0.7v0.7h-0.7zM125.22 610.39h0.7v0.7h-0.7zM124.09 609.73h0.7v0.7h-0.7zM123.9 612.84h0.7v0.7h-0.7zM123.5 614.99h0.7v0.7h-0.7zM130.21 610.01h0.7v0.7h-0.7zM124.99 614.5h0.7v0.7h-0.7zM125.69 611.02h0.7v0.7h-0.7zM123.09 615.1h0.7v0.7h-0.7zM125.65 613.46h0.7v0.7h-0.7zM122.34 613.87h0.7v0.7h-0.7zM126.04 611.19h0.7v0.7h-0.7zM125.7 618.93h0.7v0.7h-0.7zM119.85 613.79h0.7v0.7h-0.7zM121.49 607.32h0.7v0.7h-0.7zM123.65 613.59h0.7v0.7h-0.7zM124.32 607.97h0.7v0.7h-0.7zM120.86 609.97h0.7v0.7h-0.7zM124.23 609.07h0.7v0.7h-0.7zM120.71 617.57h0.7v0.7h-0.7zM122.25 611.29h0.7v0.7h-0.7zM122.93 609.88h0.7v0.7h-0.7zM124.29 610.82h0.7v0.7h-0.7zM125.64 607.9h0.7v0.7h-0.7zM120.75 618.21h0.7v0.7h-0.7zM124.03 614.33h0.7v0.7h-0.7zM126.94 613.62h0.7v0.7h-0.7zM124.28 606.68h0.7v0.7h-0.7zM120.48 615.02h0.7v0.7h-0.7zM125.77 613.67h0.7v0.7h-0.7zM120.35 604.78h0.7v0.7h-0.7zM121.75 607.91h0.7v0.7h-0.7zM124.57 608.43h0.7v0.7h-0.7zM127.88 609.75h0.7v0.7h-0.7zM122.89 614.65h0.7v0.7h-0.7zM124.96 608.84h0.7v0.7h-0.7zM126.11 618.14h0.7v0.7h-0.7zM121.35 610.98h0.7v0.7h-0.7zM121.69 605.4h0.7v0.7h-0.7zM125.66 614.1h0.7v0.7h-0.7zM126.47 613.21h0.7v0.7h-0.7zM119.51 611.71h0.7v0.7h-0.7zM122.64 607.92h0.7v0.7h-0.7zM121.62 614.33h0.7v0.7h-0.7zM123.51 618.29h0.7v0.7h-0.7zM125.3 605.5h0.7v0.7h-0.7zM126.28 615.93h0.7v0.7h-0.7zM124.27 607.79h0.7v0.7h-0.7zM128.32 607.46h0.7v0.7h-0.7zM124 605.5h0.7v0.7h-0.7zM121.27 606.18h0.7v0.7h-0.7zM126.74 615.7h0.7v0.7h-0.7zM123.25 607.32h0.7v0.7h-0.7zM124.06 613.05h0.7v0.7h-0.7zM120.64 607.97h0.7v0.7h-0.7zM123.96 614.13h0.7v0.7h-0.7zM124.37 613.29h0.7v0.7h-0.7zM124.93 608.76h0.7v0.7h-0.7zM123.91 610.55h0.7v0.7h-0.7zM125.32 609.24h0.7v0.7h-0.7zM127.58 611.9h0.7v0.7h-0.7zM125.44 613.89h0.7v0.7h-0.7zM126.63 613.14h0.7v0.7h-0.7zM120.1 609.71h0.7v0.7h-0.7zM128.56 613.37h0.7v0.7h-0.7zM125.51 613.35h0.7v0.7h-0.7zM122.7 609.55h0.7v0.7h-0.7zM122.68 615.65h0.7v0.7h-0.7zM125.05 617.72h0.7v0.7h-0.7zM125.37 618.09h0.7v0.7h-0.7zM125.27 607.86h0.7v0.7h-0.7zM128.29 612.92h0.7v0.7h-0.7zM127 612.51h0.7v0.7h-0.7zM123.43 612.36h0.7v0.7h-0.7zM121.56 607.82h0.7v0.7h-0.7zM122.11 610.05h0.7v0.7h-0.7zM121.01 611.46h0.7v0.7h-0.7zM124.92 618.56h0.7v0.7h-0.7zM128.53 611.63h0.7v0.7h-0.7zM126.28 611.07h0.7v0.7h-0.7zM125.12 611.69h0.7v0.7h-0.7zM122.93 612.05h0.7v0.7h-0.7zM120.71 613.27h0.7v0.7h-0.7zM123.52 608.18h0.7v0.7h-0.7zM123.35 613.65h0.7v0.7h-0.7zM122.6 613.39h0.7v0.7h-0.7zM125.55 617.01h0.7v0.7h-0.7zM121.63 611.43h0.7v0.7h-0.7zM125.41 616.82h0.7v0.7h-0.7zM124.82 614.32h0.7v0.7h-0.7zM120.73 609.85h0.7v0.7h-0.7zM128.13 610.85h0.7v0.7h-0.7zM129.31 609.36h0.7v0.7h-0.7zM123.54 606.46h0.7v0.7h-0.7zM125.7 612.69h0.7v0.7h-0.7zM128.97 612.35h0.7v0.7h-0.7zM123.61 607.08h0.7v0.7h-0.7zM124.01 614.97h0.7v0.7h-0.7zM125.95 615.92h0.7v0.7h-0.7zM126.25 611.64h0.7v0.7h-0.7zM125.63 612.38h0.7v0.7h-0.7zM121.04 617.55h0.7v0.7h-0.7zM125.09 608.27h0.7v0.7h-0.7zM125.11 612.77h0.7v0.7h-0.7zM126.56 616.65h0.7v0.7h-0.7zM116.99 613.66h0.7v0.7h-0.7zM127.83 608.61h0.7v0.7h-0.7zM119.79 612.74h0.7v0.7h-0.7zM125 612.98h0.7v0.7h-0.7zM121.57 610.23h0.7v0.7h-0.7zM124.66 614.31h0.7v0.7h-0.7zM129.41 612.79h0.7v0.7h-0.7zM126.75 611.36h0.7v0.7h-0.7zM123.94 608.47h0.7v0.7h-0.7zM125.95 605.76h0.7v0.7h-0.7zM124.46 612.21h0.7v0.7h-0.7zM124.91 616.2h0.7v0.7h-0.7zM123.96 612.12h0.7v0.7h-0.7zM126.24 606.57h0.7v0.7h-0.7zM123.5 612.03h0.7v0.7h-0.7zM126.47 609.1h0.7v0.7h-0.7zM126.11 613.1h0.7v0.7h-0.7zM120.66 606.81h0.7v0.7h-0.7z" fill="#ff1a1a" fill-opacity="0.9"/>
<path d="M143.53 617.1h0.7v0.7h-0.7zM147.5 613.05h0.7v0.7h-0.7zM149.1 617.4h0.7v0.7h-0.7zM145.25 616.32h0.7v0.7h-0.7zM135.53 611.01h0.7v0.7h-0.7zM139.94 615.24h0.7v0.7h-0.7zM141.85 613.75h0.7v0.7h-0.7zM135.74 615.39h0.7v0.7h-0.7zM137.41 610.32h0.7v0.7h-0.7zM142.8 619.42h0.7v0.7h-0.7zM139.58 611.42h0.7v0.7h-0.7zM151.15 620.25h0.7v0.7h-0.7zM140.3 614.13h0.7v0.7h-0.7zM143.57 624.19h0.7v0.7h-0.7zM143.06 617.97h0.7v0.7h-0.7zM145.07 609.01h0.7v0.7h-0.7zM135.07 610.88h0.7v0.7h-0.7zM145 615.14h0.7v0.7h-0.7zM153.78 613.94h0.7v0.7h-0.7zM144.2 615.04h0.7v0.7h-0.7zM143.1 622.18h0.7v0.7h-0.7zM144.04 619.49h0.7v0.7h-0.7zM150.6 612.87h0.7v0.7h-0.7zM146.64 613.59h0.7v0.7h-0.7zM142.91 615.3h0.7v0.7h-0.7zM142.34 613.3h0.7v0.7h-0.7zM152.28 613.95h0.7v0.7h-0.7zM146.75 620.16h0.7v0.7h-0.7zM146.26 618.07h0.7v0.7h-0.7zM151.2 618.27h0.7v0.7h-0.7zM153.34 610.24h0.7v0.7h-0.7zM154.89 614.89h0.7v0.7h-0.7zM144.12 615.3h0.7v0.7h-0.7zM137.03 614.05h0.7v0.7h-0.7zM141.56 615.04h0.7v0.7h-0.7zM142.15 614.09h0.7v0.7h-0.7zM147.9 609.67h0.7v0.7h-0.7zM139 615.23h0.7v0.7h-0.7zM139.6 613.04h0.7v0.7h-0.7zM139.36 615.47h0.7v0.7h-0.7zM150.28 614.21h0.7v0.7h-0.7zM140.47 615.94h0.7v0.7h-0.7zM140.63 608.62h0.7v0.7h-0.7zM143.94 613.59h0.7v0.7h-0.7zM138.48 616.81h0.7v0.7h-0.7zM142.49 613h0.7v0.7h-0.7zM142.29 614.42h0.7v0.7h-0.7zM145.05 615.51h0.7v0.7h-0.7zM139.09 610.75h0.7v0.7h-0.7zM135.09 614.35h0.7v0.7h-0.7zM140.94 609.12h0.7v0.7h-0.7zM152.77 611.63h0.7v0.7h-0.7zM141.86 614.02h0.7v0.7h-0.7zM136.87 609.15h0.7v0.7h-0.7zM148.84 621.72h0.7v0.7h-0.7zM142.11 617.51h0.7v0.7h-0.7zM138.86 617.11h0.7v0.7h-0.7zM148.02 616.74h0.7v0.7h-0.7zM151.6 614.24h0.7v0.7h-0.7zM152.23 612.56h0.7v0.7h-0.7zM153.04 606.01h0.7v0.7h-0.7zM142.29 612.24h0.7v0.7h-0.7zM142.21 618.1h0.7v0.7h-0.7zM146.87 615.1h0.7v0.7h-0.7zM153.26 610.08h0.7v0.7h-0.7zM136.91 619.63h0.7v0.7h-0.7zM144.33 608.16h0.7v0.7h-0.7zM144.42 611.01h0.7v0.7h-0.7zM151.8 618.46h0.7v0.7h-0.7zM138.64 618.94h0.7v0.7h-0.7zM136.78 617.74h0.7v0.7h-0.7zM145.96 614.39h0.7v0.7h-0.7zM135.92 607.02h0.7v0.7h-0.7zM146 615.98h0.7v0.7h-0.7zM138.91 621.58h0.7v0.7h-0.7zM147.23 615.01h0.7v0.7h-0.7zM138.01 605.34h0.7v0.7h-0.7zM145.32 617.87h0.7v0.7h-0.7zM138.35 610.28h0.7v0.7h-0.7zM141.93 609.45h0.7v0.7h-0.7zM142.25 617.27h0.7v0.7h-0.7zM152.01 615.65h0.7v0.7h-0.7zM143.48 617.2h0.7v0.7h-0.7zM151.3 613.78h0.7v0.7h-0.7zM141.41 615.9h0.7v0.7h-0.7zM143.22 615.02h0.7v0.7h-0.7zM139.88 616.16h0.7v0.7h-0.7zM147.96 617.23h0.7v0.7h-0.7zM151.93 613.87h0.7v0.7h-0.7zM140.57 620.22h0.7v0.7h-0.7zM143.51 616.12h0.7v0.7h-0.7zM140.01 617.9h0.7v0.7h-0.7zM139.58 611.58h0.7v0.7h-0.7zM141.81 613.38h0.7v0.7h-0.7zM147.62 613.59h0.7v0.7h-0.7zM143 614.11h0.7v0.7h-0.7zM144.41 612.78h0.7v0.7h-0.7zM149.38 610.24h0.7v0.7h-0.7zM139.7 612.53h0.7v0.7h-0.7zM146.41 614.93h0.7v0.7h-0.7zM145.35 613.74h0.7v0.7h-0.7zM137.53 611.22h0.7v0.7h-0.7zM140.03 613.09h0.7v0.7h-0.7zM144.02 615.94h0.7v0.7h-0.7zM148.55 614.46h0.7v0.7h-0.7zM137.33 611.4h0.7v0.7h-0.7zM142.6 615.95h0.7v0.7h-0.7zM154.86 615.38h0.7v0.7h-0.7zM153.62 620.79h0.7v0.7h-0.7zM135.38 618.67h0.7v0.7h-0.7zM149.59 619.11h0.7v0.7h-0.7zM142.14 617.86h0.7v0.7h-0.7zM139.07 614.58h0.7v0.7h-0.7zM142.32 620.51h0.7v0.7h-0.7zM140.8 617.86h0.7v0.7h-0.7zM142.63 612.53h0.7v0.7h-0.7zM143.78 616.91h0.7v0.7h-0.7zM137.57 616.83h0.7v0.7h-0.7zM137.57 611.99h0.7v0.7h-0.7zM143.63 614.05h0.7v0.7h-0.7zM135.81 609.59h0.7v0.7h-0.7zM142.35 615.58h0.7v0.7h-0.7zM139.21 615.4h0.7v0.7h-0.7zM144.91 615.69h0.7v0.7h-0.7zM138.22 615.05h0.7v0.7h-0.7zM143.05 618.22h0.7v0.7h-0.7zM143.99 615.61h0.7v0.7h-0.7zM137.5 617.56h0.7v0.7h-0.7zM149.82 613.22h0.7v0.7h-0.7zM146.35 615.79h0.7v0.7h-0.7zM141.9 610.69h0.7v0.7h-0.7zM153.62 608.83h0.7v0.7h-0.7zM144.17 613.6h0.7v0.7h-0.7zM149.64 613.45h0.7v0.7h-0.7zM142.46 616.75h0.7v0.7h-0.7zM145.16 613.14h0.7v0.7h-0.7zM146.62 616.05h0.7v0.7h-0.7zM148.62 613.17h0.7v0.7h-0.7zM141.9 613.55h0.7v0.7h-0.7zM136.76 615.61h0.7v0.7h-0.7zM144.86 619.33h0.7v0.7h-0.7zM140.09 616.04h0.7v0.7h-0.7zM149.61 614.44h0.7v0.7h-0.7zM142.61 615.23h0.7v0.7h-0.7zM137.72 611.65h0.7v0.7h-0.7zM149.44 615.35h0.7v0.7h-0.7zM141.72 610.84h0.7v0.7h-0.7zM142.96 618.54h0.7v0.7h-0.7zM149.39 619.36h0.7v0.7h-0.7zM152.26 613.04h0.7v0.7h-0.7zM146.09 612.41h0.7v0.7h-0.7zM145.57 613.64h0.7v0.7h-0.7zM143.47 619.07h0.7v0.7h-0.7zM144.39 614.03h0.7v0.7h-0.7zM142.56 615.65h0.7v0.7h-0.7zM138.88 615.46h0.7v0.7h-0.7zM146.08 619.77h0.7v0.7h-0.7zM157.98 615.42h0.7v0.7h-0.7zM142.98 618.42h0.7v0.7h-0.7zM138.92 613.26h0.7v0.7h-0.7zM144.4 612.94h0.7v0.7h-0.7zM149.38 614.79h0.7v0.7h-0.7zM144.66 622.87h0.7v0.7h-0.7zM139.3 617.74h0.7v0.7h-0.7zM136.86 618.76h0.7v0.7h-0.7zM148.43 615.25h0.7v0.7h-0.7zM148.6 619.91h0.7v0.7h-0.7zM151.09 614.8h0.7v0.7h-0.7zM141.85 618.32h0.7v0.7h-0.7zM145.33 616.61h0.7v0.7h-0.7zM154.2 620.38h0.7v0.7h-0.7zM144.29 616.2h0.7v0.7h-0.7zM143.88 614.08h0.7v0.7h-0.7zM142.59 616.73h0.7v0.7h-0.7zM136.07 613h0.7v0.7h-0.7zM135.41 609.4h0.7v0.7h-0.7zM147.16 614.12h0.7v0.7h-0.7zM148.42 613.63h0.7v0.7h-0.7zM155.87 617.06h0.7v0.7h-0.7zM143.17 615.17h0.7v0.7h-0.7zM140.88 617.36h0.7v0.7h-0.7zM155.06 613.46h0.7v0.7h-0.7zM135.2 616.69h0.7v0.7h-0.7zM149.06 610.08h0.7v0.7h-0.7zM137.75 611.65h0.7v0.7h-0.7zM145.81 616.4h0.7v0.7h-0.7zM137.49 611.24h0.7v0.7h-0.7zM146.59 608.3h0.7v0.7h-0.7zM146.33 614.31h0.7v0.7h-0.7zM154.52 617.94h0.7v0.7h-0.7zM138.48 613.93h0.7v0.7h-0.7zM140.42 612.5h0.7v0.7h-0.7zM142.72 617.85h0.7v0.7h-0.7zM151.77 617.14h0.7v0.7h-0.7zM136.98 612.26h0.7v0.7h-0.7zM136.72 609.74h0.7v0.7h-0.7zM149.57 615.02h0.7v0.7h-0.7zM137.73 610.28h0.7v0.7h-0.7zM139.74 613.19h0.7v0.7h-0.7zM153.22 613.35h0.7v0.7h-0.7zM142.94 618.18h0.7v0.7h-0.7zM146.47 614.23h0.7v0.7h-0.7zM146.03 613.43h0.7v0.7h-0.7zM141.63 611.79h0.7v0.7h-0.7zM136.45 610.13h0.7v0.7h-0.7zM145.41 616.43h0.7v0.7h-0.7zM143.32 617.26h0.7v0.7h-0.7zM145.63 615.18h0.7v0.7h-0.7zM136.55 616.66h0.7v0.7h-0.7zM149.78 616.79h0.7v0.7h-0.7zM150.17 613.31h0.7v0.7h-0.7zM135.95 618.73h0.7v0.7h-0.7zM138.47 615.56h0.7v0.7h-0.7zM140.98 614.87h0.7v0.7h-0.7zM140.47 613.11h0.7v0.7h-0.7zM143.5 608.75h0.7v0.7h-0.7zM136.41 611.26h0.7v0.7h-0.7zM137.47 606.8h0.7v0.7h-0.7zM145.87 619.95h0.7v0.7h-0.7zM140.63 617.14h0.7v0.7h-0.7zM146.03 610.89h0.7v0.7h-0.7zM149.97 609.51h0.7v0.7h-0.7zM138.53 613.67h0.7v0.7h-0.7zM150.21 615.17h0.7v0.7h-0.7zM141.41 612.28h0.7v0.7h-0.7zM142.77 614.93h0.7v0.7h-0.7zM146.85 619.17h0.7v0.7h-0.7zM146.9 614.86h0.7v0.7h-0.7zM141.23 619.82h0.7v0.7h-0.7zM143.48 614.75h0.7v0.7h-0.7zM153.64 619.72h0.7v0.7h-0.7zM145.82 614.46h0.7v0.7h-0.7zM138.16 618.14h0.7v0.7h-0.7zM139.32 617.81h0.7v0.7h-0.7zM137.22 615.13h0.7v0.7h-0.7zM144.76 615.25h0.7v0.7h-0.7zM143.69 615.99h0.7v0.7h-0.7zM135.06 611.33h0.7v0.7h-0.7zM141.26 620.45h0.7v0.7h-0.7zM141.41 611.9h0.7v0.7h-0.7zM138.01 614.91h0.7v0.7h-0.7zM149.72 613.03h0.7v0.7h-0.7zM145.76 615.39h0.7v0.7h-0.7zM139.94 611.85h0.7v0.7h-0.7zM141.23 612.54h0.7v0.7h-0.7zM145.62 609.29h0.7v0.7h-0.7zM149.37 617.17h0.7v0.7h-0.7zM145.88 619.48h0.7v0.7h-0.7zM146.03 609.46h0.7v0.7h-0.7zM142.54 616.21h0.7v0.7h-0.7zM137.86 611.27h0.7v0.7h-0.7zM144.95 616.4h0.7v0.7h-0.7zM139.5 614.04h0.7v0.7h-0.7zM138.98 613.03h0.7v0.7h-0.7zM141.83 618.15h0.7v0.7h-0.7zM152.44 615.79h0.7v0.7h-0.7zM143.18 617.41h0.7v0.7h-0.7zM135.84 611.02h0.7v0.7h-0.7zM143.78 617.45h0.7v0.7h-0.7zM139.56 612.68h0.7v0.7h-0.7zM144.76 616.71h0.7v0.7h-0.7zM143.83 608.86h0.7v0.7h-0.7zM138.75 606.9h0.7v0.7h-0.7zM143.74 612.15h0.7v0.7h-0.7zM138.05 619.49h0.7v0.7h-0.7zM150.57 616.3h0.7v0.7h-0.7zM143.95 615.34h0.7v0.7h-0.7zM138.49 614.64h0.7v0.7h-0.7zM154.31 612.07h0.7v0.7h-0.7zM138.01 615.31h0.7v0.7h-0.7zM147.85 617.4h0.7v0.7h-0.7zM136.08 614.39h0.7v0.7h-0.7zM140.52 610.96h0.7v0.7h-0.7zM142.69 613.3h0.7v0.7h-0.7zM148.02 616.15h0.7v0.7h-0.7zM137.27 615.05h0.7v0.7h-0.7zM139.94 612.82h0.7v0.7h-0.7zM139.12 618.11h0.7v0.7h-0.7zM139.59 609.46h0.7v0.7h-0.7zM137.3 617.31h0.7v0.7h-0.7zM155.81 611.52h0.7v0.7h-0.7zM139.95 613.78h0.7v0.7h-0.7zM141.88 615.67h0.7v0.7h-0.7zM156.35 613.97h0.7v0.7h-0.7zM147.22 617.4h0.7v0.7h-0.7zM138.18 612.96h0.7v0.7h-0.7zM152.04 617.03h0.7v0.7h-0.7zM143.11 611.4h0.7v0.7h-0.7zM147.78 616.44h0.7v0.7h-0.7zM156.09 619.39h0.7v0.7h-0.7zM147.28 615.63h0.7v0.7h-0.7zM142.59 613.09h0.7v0.7h-0.7zM144.15 615.56h0.7v0.7h-0.7zM146.32 618.18h0.7v0.7h-0.7zM144.17 613.11h0.7v0.7h-0.7zM147.3 619.63h0.7v0.7h-0.7zM136.93 616.11h0.7v0.7h-0.7zM145.67 616.47h0.7v0.7h-0.7zM145.39 614.52h0.7v0.7h-0.7zM141.56 620.05h0.7v0.7h-0.7zM153.15 610.44h0.7v0.7h-0.7zM137.94 613.19h0.7v0.7h-0.7zM141.86 613.12h0.7v0.7h-0.7zM147.88 622.36h0.7v0.7h-0.7zM151.52 618.45h0.7v0.7h-0.7zM139.6 616.85h0.7v0.7h-0.7zM141.96 618.4h0.7v0.7h-0.7zM145.88 614.69h0.7v0.7h-0.7zM145.69 612.57h0.7v0.7h-0.7zM147.21 619.48h0.7v0.7h-0.7zM139.92 616.53h0.7v0.7h-0.7zM147.74 611.63h0.7v0.7h-0.7zM153.21 615.16h0.7v0.7h-0.7zM147.72 613.95h0.7v0.7h-0.7zM149.17 609.98h0.7v0.7h-0.7zM141.58 617.84h0.7v0.7h-0.7zM137.92 616.92h0.7v0.7h-0.7zM139.93 615.87h0.7v0.7h-0.7zM144.24 621.74h0.7v0.7h-0.7zM150.49 611.31h0.7v0.7h-0.7z" fill="#2a44ff" fill-opacity="0.85"/>
<path d="M144.91 633.25h0.55v0.55h-0.55zM146.85 609.66h0.55v0.55h-0.55zM139.29 608.8h0.55v0.55h-0.55zM146.77 611.68h0.55v0.55h-0.55zM136.29 613.54h0.55v0.55h-0.55zM147.76 608.65h0.55v0.55h-0.55zM147.77 612.28h0.55v0.55h-0.55zM157.96 610.3h0.55v0.55h-0.55zM138.4 604.87h0.55v0.55h-0.55zM135.83 627.14h0.55v0.55h-0.55zM146.04 622.41h0.55v0.55h-0.55zM144.22 618.98h0.55v0.55h-0.55zM143.24 616.92h0.55v0.55h-0.55zM146.06 609.8h0.55v0.55h-0.55zM147.24 616.59h0.55v0.55h-0.55zM143.87 609.99h0.55v0.55h-0.55zM135.33 617.21h0.55v0.55h-0.55zM139.52 625.82h0.55v0.55h-0.55zM152.21 609.76h0.55v0.55h-0.55zM156.03 607.63h0.55v0.55h-0.55zM137.29 630.38h0.55v0.55h-0.55zM140.39 613.62h0.55v0.55h-0.55zM141.09 610.59h0.55v0.55h-0.55zM138.65 621.08h0.55v0.55h-0.55zM157.62 612.13h0.55v0.55h-0.55zM158.32 627.83h0.55v0.55h-0.55zM155.94 617.63h0.55v0.55h-0.55zM140.62 616.81h0.55v0.55h-0.55zM146.24 608.01h0.55v0.55h-0.55zM146.77 628.32h0.55v0.55h-0.55zM146.22 609.97h0.55v0.55h-0.55zM136.15 618.48h0.55v0.55h-0.55zM146.48 621.77h0.55v0.55h-0.55zM137.24 626.72h0.55v0.55h-0.55zM148.58 624.58h0.55v0.55h-0.55zM158.22 631h0.55v0.55h-0.55zM155.75 615.3h0.55v0.55h-0.55zM145.81 610.41h0.55v0.55h-0.55zM153.83 609.88h0.55v0.55h-0.55zM144.72 616.98h0.55v0.55h-0.55zM139.54 613.66h0.55v0.55h-0.55zM143.78 621.72h0.55v0.55h-0.55zM140.32 616h0.55v0.55h-0.55zM152.4 615.56h0.55v0.55h-0.55zM144.76 621.43h0.55v0.55h-0.55zM138.64 614.78h0.55v0.55h-0.55zM147.75 625.44h0.55v0.55h-0.55zM141.77 630.42h0.55v0.55h-0.55zM146.84 614.11h0.55v0.55h-0.55zM153.34 612.33h0.55v0.55h-0.55zM147.13 616.87h0.55v0.55h-0.55zM150.47 622.22h0.55v0.55h-0.55zM136.3 627h0.55v0.55h-0.55zM144.38 620.62h0.55v0.55h-0.55zM149.09 622.27h0.55v0.55h-0.55zM138.56 610.7h0.55v0.55h-0.55zM147.52 620.08h0.55v0.55h-0.55zM149.28 617.97h0.55v0.55h-0.55zM139.92 623.98h0.55v0.55h-0.55zM148.37 623.66h0.55v0.55h-0.55zM138.32 616.25h0.55v0.55h-0.55zM139.99 612.86h0.55v0.55h-0.55zM145.91 618.03h0.55v0.55h-0.55zM137.29 619.57h0.55v0.55h-0.55zM136.73 618.68h0.55v0.55h-0.55zM140.93 607.87h0.55v0.55h-0.55zM154.56 628.37h0.55v0.55h-0.55zM143.28 614.9h0.55v0.55h-0.55zM152.7 604.83h0.55v0.55h-0.55zM136.46 624.24h0.55v0.55h-0.55zM152.2 611.4h0.55v0.55h-0.55zM137.3 618.07h0.55v0.55h-0.55zM149.45 621.34h0.55v0.55h-0.55zM135.5 612.82h0.55v0.55h-0.55zM146.04 618.91h0.55v0.55h-0.55zM157.12 606.68h0.55v0.55h-0.55zM152.04 616.48h0.55v0.55h-0.55zM137.69 623.28h0.55v0.55h-0.55zM155.81 610.4h0.55v0.55h-0.55zM136.19 616.34h0.55v0.55h-0.55zM134.84 622.44h0.55v0.55h-0.55zM145.77 609.24h0.55v0.55h-0.55zM138.08 621.06h0.55v0.55h-0.55zM137.18 613.74h0.55v0.55h-0.55zM135.93 628.21h0.55v0.55h-0.55zM151.56 625.65h0.55v0.55h-0.55zM150.04 616.01h0.55v0.55h-0.55zM159.36 620.59h0.55v0.55h-0.55zM148.11 619.89h0.55v0.55h-0.55zM150.79 617.52h0.55v0.55h-0.55zM138.81 617.41h0.55v0.55h-0.55zM141.2 617.63h0.55v0.55h-0.55zM154.71 605.71h0.55v0.55h-0.55zM147.17 615.94h0.55v0.55h-0.55zM145.54 616.48h0.55v0.55h-0.55zM148.27 618.39h0.55v0.55h-0.55zM149.39 625.25h0.55v0.55h-0.55zM135.99 618.49h0.55v0.55h-0.55zM144.06 621.12h0.55v0.55h-0.55zM142.67 610.53h0.55v0.55h-0.55zM146.41 619.46h0.55v0.55h-0.55zM135.48 625.83h0.55v0.55h-0.55zM154.51 618.86h0.55v0.55h-0.55zM143.21 613.4h0.55v0.55h-0.55zM135.43 611.29h0.55v0.55h-0.55zM153.17 607.94h0.55v0.55h-0.55zM139.5 622.16h0.55v0.55h-0.55zM160.91 609.78h0.55v0.55h-0.55zM154.13 610.07h0.55v0.55h-0.55zM147.69 619.17h0.55v0.55h-0.55zM160.39 615.72h0.55v0.55h-0.55zM146.63 605.92h0.55v0.55h-0.55zM160.29 615.8h0.55v0.55h-0.55zM138.32 610.68h0.55v0.55h-0.55zM139.11 619.73h0.55v0.55h-0.55zM157.33 607.24h0.55v0.55h-0.55zM157.91 614.59h0.55v0.55h-0.55zM137.9 627.55h0.55v0.55h-0.55zM143.25 626.26h0.55v0.55h-0.55zM153.87 628.56h0.55v0.55h-0.55zM137 615.75h0.55v0.55h-0.55zM147.51 613.75h0.55v0.55h-0.55zM157.91 609.59h0.55v0.55h-0.55zM153.22 626.21h0.55v0.55h-0.55zM136.07 610.93h0.55v0.55h-0.55zM147.71 613.91h0.55v0.55h-0.55zM144.91 611.63h0.55v0.55h-0.55zM143.46 619.18h0.55v0.55h-0.55zM150.91 609.05h0.55v0.55h-0.55zM143.18 609.21h0.55v0.55h-0.55zM152.79 620.67h0.55v0.55h-0.55zM143.1 609.83h0.55v0.55h-0.55zM140.09 609.98h0.55v0.55h-0.55zM139.74 615.98h0.55v0.55h-0.55zM144.17 610.82h0.55v0.55h-0.55zM142.92 612.9h0.55v0.55h-0.55zM155.4 614.57h0.55v0.55h-0.55zM143.91 611.07h0.55v0.55h-0.55zM138.49 609.41h0.55v0.55h-0.55zM144.29 629.99h0.55v0.55h-0.55zM154.24 617.19h0.55v0.55h-0.55zM159.22 623.41h0.55v0.55h-0.55zM146.07 613.98h0.55v0.55h-0.55zM146.13 619.28h0.55v0.55h-0.55zM146 611.58h0.55v0.55h-0.55zM148.35 623.97h0.55v0.55h-0.55zM141.42 619.4h0.55v0.55h-0.55zM153.43 611.43h0.55v0.55h-0.55zM145.73 609.38h0.55v0.55h-0.55zM149.63 612.35h0.55v0.55h-0.55zM154.52 609.19h0.55v0.55h-0.55zM159.4 612.82h0.55v0.55h-0.55zM136.64 608.07h0.55v0.55h-0.55zM150.16 608.45h0.55v0.55h-0.55zM160.44 625.56h0.55v0.55h-0.55zM143.98 609.49h0.55v0.55h-0.55zM151.48 625.57h0.55v0.55h-0.55zM135.55 612.58h0.55v0.55h-0.55zM146.62 619.08h0.55v0.55h-0.55zM143.24 622.91h0.55v0.55h-0.55zM139.67 612.77h0.55v0.55h-0.55zM150.7 610.27h0.55v0.55h-0.55zM151.76 623.46h0.55v0.55h-0.55zM152.88 613.67h0.55v0.55h-0.55zM136.73 613.26h0.55v0.55h-0.55zM150.19 616.27h0.55v0.55h-0.55zM149.44 619.9h0.55v0.55h-0.55zM136.24 607.82h0.55v0.55h-0.55zM157.17 611.41h0.55v0.55h-0.55zM136.7 607.83h0.55v0.55h-0.55zM152.91 606.25h0.55v0.55h-0.55zM136.36 623.68h0.55v0.55h-0.55zM136.82 635.37h0.55v0.55h-0.55zM145.36 615.74h0.55v0.55h-0.55zM138.43 613.52h0.55v0.55h-0.55zM139.69 615.11h0.55v0.55h-0.55zM151.15 605.13h0.55v0.55h-0.55zM157.74 614.7h0.55v0.55h-0.55zM144.08 614.84h0.55v0.55h-0.55zM153.24 617.87h0.55v0.55h-0.55zM151.85 613.96h0.55v0.55h-0.55zM143.11 614.86h0.55v0.55h-0.55zM150.24 615.74h0.55v0.55h-0.55zM151.51 628.95h0.55v0.55h-0.55zM160.96 626.36h0.55v0.55h-0.55zM142.17 631.69h0.55v0.55h-0.55zM136.28 614.61h0.55v0.55h-0.55zM153.17 613.59h0.55v0.55h-0.55zM143.11 612.48h0.55v0.55h-0.55zM155.65 623.78h0.55v0.55h-0.55zM143.55 619.79h0.55v0.55h-0.55zM135.48 624.17h0.55v0.55h-0.55zM156.77 614.85h0.55v0.55h-0.55zM141.16 611.4h0.55v0.55h-0.55zM142.49 605.29h0.55v0.55h-0.55zM144.04 619.72h0.55v0.55h-0.55zM146.99 619.11h0.55v0.55h-0.55zM149.9 623.29h0.55v0.55h-0.55zM147.3 615.56h0.55v0.55h-0.55zM138.35 618.05h0.55v0.55h-0.55zM144.49 609.35h0.55v0.55h-0.55zM147.2 609.98h0.55v0.55h-0.55zM152.77 620.31h0.55v0.55h-0.55zM138.01 620h0.55v0.55h-0.55zM144.81 609.65h0.55v0.55h-0.55zM155.07 610.27h0.55v0.55h-0.55zM145.64 618.05h0.55v0.55h-0.55zM151.23 618.85h0.55v0.55h-0.55zM155.24 621.43h0.55v0.55h-0.55zM137.34 618.47h0.55v0.55h-0.55zM144.38 619.94h0.55v0.55h-0.55zM141.48 621.96h0.55v0.55h-0.55zM156.09 608.58h0.55v0.55h-0.55zM139.31 617.38h0.55v0.55h-0.55zM148.61 616.45h0.55v0.55h-0.55zM151.68 605.84h0.55v0.55h-0.55zM151.18 624.63h0.55v0.55h-0.55zM154.19 618.71h0.55v0.55h-0.55zM142.06 618.5h0.55v0.55h-0.55zM138.75 614.98h0.55v0.55h-0.55zM139.56 607.84h0.55v0.55h-0.55zM142.11 612.33h0.55v0.55h-0.55zM144.82 614.91h0.55v0.55h-0.55zM145.75 623.25h0.55v0.55h-0.55zM145.43 618.55h0.55v0.55h-0.55zM140.6 620.72h0.55v0.55h-0.55zM141.15 610.31h0.55v0.55h-0.55zM139.45 617.26h0.55v0.55h-0.55zM154.38 619.59h0.55v0.55h-0.55zM152.81 620.85h0.55v0.55h-0.55zM138.3 615.68h0.55v0.55h-0.55zM139.12 607.1h0.55v0.55h-0.55zM146.9 609.1h0.55v0.55h-0.55zM159.32 609.37h0.55v0.55h-0.55zM139.3 616.03h0.55v0.55h-0.55zM139.53 615.73h0.55v0.55h-0.55zM157.89 618.86h0.55v0.55h-0.55zM145.58 611.58h0.55v0.55h-0.55zM142.89 617.69h0.55v0.55h-0.55zM136.19 625.37h0.55v0.55h-0.55zM143.49 615.56h0.55v0.55h-0.55zM156.36 622.3h0.55v0.55h-0.55zM152.65 606.75h0.55v0.55h-0.55zM154.42 628.74h0.55v0.55h-0.55zM143.28 611.43h0.55v0.55h-0.55zM146.85 615.35h0.55v0.55h-0.55zM152.08 615.14h0.55v0.55h-0.55zM157.49 607.69h0.55v0.55h-0.55zM152.13 607.31h0.55v0.55h-0.55zM156.9 613.1h0.55v0.55h-0.55zM155.21 611.97h0.55v0.55h-0.55zM147.79 624.43h0.55v0.55h-0.55zM136.08 616.08h0.55v0.55h-0.55zM136.66 622.12h0.55v0.55h-0.55zM138.77 612.32h0.55v0.55h-0.55zM142.38 624.62h0.55v0.55h-0.55zM134.83 615.1h0.55v0.55h-0.55zM141.24 610.9h0.55v0.55h-0.55zM137.11 614.02h0.55v0.55h-0.55zM146.3 605.83h0.55v0.55h-0.55z" fill="#5a70ff" fill-opacity="0.7"/>
<path d="M144.46 594.9h0.55v0.55h-0.55zM150.16 601.19h0.55v0.55h-0.55zM139.31 596.36h0.55v0.55h-0.55zM154.23 601.7h0.55v0.55h-0.55zM147.91 599.3h0.55v0.55h-0.55zM143.69 603.07h0.55v0.55h-0.55zM151.63 591.23h0.55v0.55h-0.55zM145.42 587.86h0.55v0.55h-0.55zM144.08 588.37h0.55v0.55h-0.55zM151.8 597.4h0.55v0.55h-0.55zM150.89 596.48h0.55v0.55h-0.55zM154.14 591.22h0.55v0.55h-0.55zM150.21 597.76h0.55v0.55h-0.55zM155.9 585.89h0.55v0.55h-0.55zM144.54 595.75h0.55v0.55h-0.55zM151.05 602.18h0.55v0.55h-0.55zM144.44 597.64h0.55v0.55h-0.55zM154.11 598.51h0.55v0.55h-0.55zM156.52 591h0.55v0.55h-0.55zM147.51 597.03h0.55v0.55h-0.55zM153.3 589.55h0.55v0.55h-0.55zM144.72 597.54h0.55v0.55h-0.55zM147.13 592.7h0.55v0.55h-0.55zM160.09 596.06h0.55v0.55h-0.55zM151.33 595.92h0.55v0.55h-0.55zM142.82 602.63h0.55v0.55h-0.55zM148.53 592.57h0.55v0.55h-0.55zM147.09 592.09h0.55v0.55h-0.55zM157.11 592.94h0.55v0.55h-0.55zM143.23 591.26h0.55v0.55h-0.55zM151.25 596.77h0.55v0.55h-0.55zM146.96 602.98h0.55v0.55h-0.55zM144.54 591.02h0.55v0.55h-0.55zM156.18 598.19h0.55v0.55h-0.55zM149.08 601.07h0.55v0.55h-0.55zM150.6 596.46h0.55v0.55h-0.55zM159.57 597.27h0.55v0.55h-0.55zM144.64 593.52h0.55v0.55h-0.55zM153.35 592.62h0.55v0.55h-0.55zM159.69 598.91h0.55v0.55h-0.55zM152.32 595.68h0.55v0.55h-0.55zM155.11 596.75h0.55v0.55h-0.55zM146.41 599.99h0.55v0.55h-0.55zM145.6 595.06h0.55v0.55h-0.55zM149.34 588.4h0.55v0.55h-0.55zM157.04 594.88h0.55v0.55h-0.55zM142.89 594.83h0.55v0.55h-0.55zM147.67 599.53h0.55v0.55h-0.55zM144.47 590.2h0.55v0.55h-0.55zM151.49 597.76h0.55v0.55h-0.55zM159.58 593.7h0.55v0.55h-0.55zM145.22 594.23h0.55v0.55h-0.55zM147.81 600.59h0.55v0.55h-0.55zM159.49 593.78h0.55v0.55h-0.55zM148.32 597.36h0.55v0.55h-0.55zM146.02 587.74h0.55v0.55h-0.55zM144.5 597.33h0.55v0.55h-0.55zM137.63 598.31h0.55v0.55h-0.55zM143 602.2h0.55v0.55h-0.55zM157.74 596.06h0.55v0.55h-0.55zM147.98 589.02h0.55v0.55h-0.55zM146.97 595.99h0.55v0.55h-0.55zM157.56 602.95h0.55v0.55h-0.55zM150.06 590.94h0.55v0.55h-0.55zM149.54 592.74h0.55v0.55h-0.55zM148.48 592.9h0.55v0.55h-0.55zM145.27 594.99h0.55v0.55h-0.55zM148.12 594.29h0.55v0.55h-0.55zM141.18 596.17h0.55v0.55h-0.55zM156.75 599.16h0.55v0.55h-0.55zM147.84 588.5h0.55v0.55h-0.55zM141.86 588.31h0.55v0.55h-0.55zM147.09 593.45h0.55v0.55h-0.55zM138.11 599.29h0.55v0.55h-0.55zM139.98 591.22h0.55v0.55h-0.55zM146.47 600.24h0.55v0.55h-0.55zM150.02 592.97h0.55v0.55h-0.55zM150.61 594.29h0.55v0.55h-0.55zM151.33 590.61h0.55v0.55h-0.55zM155.03 592.21h0.55v0.55h-0.55zM156.76 588.88h0.55v0.55h-0.55zM138.19 599.46h0.55v0.55h-0.55zM148.48 588.44h0.55v0.55h-0.55zM155.7 592.23h0.55v0.55h-0.55zM158.05 592.05h0.55v0.55h-0.55zM159.35 596.19h0.55v0.55h-0.55zM155.03 596.24h0.55v0.55h-0.55zM149.31 593.16h0.55v0.55h-0.55zM155.78 599.51h0.55v0.55h-0.55zM160.8 594.89h0.55v0.55h-0.55zM154.04 590.63h0.55v0.55h-0.55zM151.56 591.01h0.55v0.55h-0.55zM141.77 592.64h0.55v0.55h-0.55zM155.08 592.75h0.55v0.55h-0.55zM149.4 588.94h0.55v0.55h-0.55zM154.18 588.85h0.55v0.55h-0.55zM155.15 591.35h0.55v0.55h-0.55zM149.48 589.63h0.55v0.55h-0.55zM153.11 599.44h0.55v0.55h-0.55zM159.55 593.66h0.55v0.55h-0.55zM142.78 594.86h0.55v0.55h-0.55zM148.78 598.52h0.55v0.55h-0.55zM147.74 590.17h0.55v0.55h-0.55zM147.63 594.76h0.55v0.55h-0.55zM160.08 591.98h0.55v0.55h-0.55zM138.14 594.85h0.55v0.55h-0.55zM157.53 597.99h0.55v0.55h-0.55zM146.15 590.12h0.55v0.55h-0.55zM144.68 600.81h0.55v0.55h-0.55zM153.93 601.6h0.55v0.55h-0.55zM141.93 592.68h0.55v0.55h-0.55zM149.29 593.09h0.55v0.55h-0.55zM153.33 590.39h0.55v0.55h-0.55zM145.79 585.38h0.55v0.55h-0.55zM141.17 598.78h0.55v0.55h-0.55zM157.15 594.16h0.55v0.55h-0.55zM158.85 598.96h0.55v0.55h-0.55zM147.66 595.1h0.55v0.55h-0.55zM148.74 597.5h0.55v0.55h-0.55zM156.49 602.49h0.55v0.55h-0.55zM155.55 601.63h0.55v0.55h-0.55zM143.83 593.78h0.55v0.55h-0.55zM136.97 595.03h0.55v0.55h-0.55zM152.9 596.89h0.55v0.55h-0.55zM153.34 587.55h0.55v0.55h-0.55zM146.75 594.31h0.55v0.55h-0.55zM153.53 590.27h0.55v0.55h-0.55zM151.37 591.03h0.55v0.55h-0.55zM141.83 591.47h0.55v0.55h-0.55zM145.87 600.25h0.55v0.55h-0.55zM150.53 592.07h0.55v0.55h-0.55zM139.85 592.25h0.55v0.55h-0.55zM153.97 593.9h0.55v0.55h-0.55zM152.23 597.81h0.55v0.55h-0.55zM152.14 597.85h0.55v0.55h-0.55zM146.14 595.6h0.55v0.55h-0.55zM149.44 601.65h0.55v0.55h-0.55zM142.45 602.94h0.55v0.55h-0.55zM151.53 592.39h0.55v0.55h-0.55zM152.37 596.06h0.55v0.55h-0.55zM150.37 597.82h0.55v0.55h-0.55zM147.66 585.42h0.55v0.55h-0.55zM157.68 595.19h0.55v0.55h-0.55zM136.47 602.61h0.55v0.55h-0.55zM146.8 598.55h0.55v0.55h-0.55zM143.6 594.81h0.55v0.55h-0.55zM139.57 599.25h0.55v0.55h-0.55zM156.62 589.34h0.55v0.55h-0.55zM155.76 600.81h0.55v0.55h-0.55zM158.55 591.42h0.55v0.55h-0.55zM146.76 588.79h0.55v0.55h-0.55zM142.04 597.19h0.55v0.55h-0.55zM152.51 602.96h0.55v0.55h-0.55zM154.35 593.46h0.55v0.55h-0.55zM153.5 595.17h0.55v0.55h-0.55zM144.3 589.22h0.55v0.55h-0.55zM157.18 589.66h0.55v0.55h-0.55zM156.8 599.02h0.55v0.55h-0.55zM149.2 585.88h0.55v0.55h-0.55zM145.72 587.98h0.55v0.55h-0.55z" fill="#5a70ff" fill-opacity="0.7"/>
<path d="M156.34 596.17h0.6v0.6h-0.6zM152.98 598.8h0.6v0.6h-0.6zM153.66 596.92h0.6v0.6h-0.6zM153.41 594h0.6v0.6h-0.6zM154.63 593.73h0.6v0.6h-0.6zM150.72 594.51h0.6v0.6h-0.6zM156.62 598.49h0.6v0.6h-0.6zM158.47 598.24h0.6v0.6h-0.6zM157.37 596.43h0.6v0.6h-0.6zM153.35 596.96h0.6v0.6h-0.6zM152.34 597.61h0.6v0.6h-0.6zM153.32 596.45h0.6v0.6h-0.6zM152.53 595.5h0.6v0.6h-0.6zM156.12 595.3h0.6v0.6h-0.6zM152.88 596.51h0.6v0.6h-0.6zM155.93 595.37h0.6v0.6h-0.6zM151.91 592.04h0.6v0.6h-0.6zM151.57 598.41h0.6v0.6h-0.6zM154.03 596.98h0.6v0.6h-0.6zM156.31 596.52h0.6v0.6h-0.6zM155.15 594.6h0.6v0.6h-0.6zM151.04 597.35h0.6v0.6h-0.6zM154.01 597.22h0.6v0.6h-0.6zM152.11 595.48h0.6v0.6h-0.6zM158.15 593.79h0.6v0.6h-0.6zM154.39 599h0.6v0.6h-0.6zM153.75 596.13h0.6v0.6h-0.6zM150.02 597.7h0.6v0.6h-0.6zM153.34 598.94h0.6v0.6h-0.6zM154.02 594.93h0.6v0.6h-0.6zM155.05 595.25h0.6v0.6h-0.6zM153.19 599.56h0.6v0.6h-0.6zM156.13 596.09h0.6v0.6h-0.6zM155.78 597.82h0.6v0.6h-0.6zM155.34 595.94h0.6v0.6h-0.6zM154.34 596.82h0.6v0.6h-0.6zM155.31 596.69h0.6v0.6h-0.6zM153.12 595.65h0.6v0.6h-0.6zM155.1 593.46h0.6v0.6h-0.6zM154.18 597.66h0.6v0.6h-0.6zM154.53 595.14h0.6v0.6h-0.6zM154.16 594.67h0.6v0.6h-0.6zM156.13 594.93h0.6v0.6h-0.6zM150.94 592.93h0.6v0.6h-0.6zM154.79 596.34h0.6v0.6h-0.6zM153.28 592.68h0.6v0.6h-0.6zM153.91 593.82h0.6v0.6h-0.6zM152.91 595.83h0.6v0.6h-0.6zM152.7 596.58h0.6v0.6h-0.6zM152.75 594.72h0.6v0.6h-0.6zM153.75 599.34h0.6v0.6h-0.6zM157.29 598.1h0.6v0.6h-0.6zM152.76 595.85h0.6v0.6h-0.6zM155.99 597.77h0.6v0.6h-0.6zM151.01 595.7h0.6v0.6h-0.6zM152.75 597.64h0.6v0.6h-0.6zM155.45 594.55h0.6v0.6h-0.6zM158.39 595.17h0.6v0.6h-0.6zM158.98 595.43h0.6v0.6h-0.6zM154.03 600.38h0.6v0.6h-0.6z" fill="#2a44ff" fill-opacity="0.85"/>
<path d="M124.43 588.93h0.5v0.5h-0.5zM133.14 596.83h0.5v0.5h-0.5zM128.9 595.23h0.5v0.5h-0.5zM112.4 600.67h0.5v0.5h-0.5zM114.57 589.91h0.5v0.5h-0.5zM124.53 588.75h0.5v0.5h-0.5zM121.05 598h0.5v0.5h-0.5zM112.77 597.06h0.5v0.5h-0.5zM112.96 593.77h0.5v0.5h-0.5zM125.28 597.53h0.5v0.5h-0.5zM111.57 588.7h0.5v0.5h-0.5zM132.3 592.26h0.5v0.5h-0.5zM120.2 591.97h0.5v0.5h-0.5zM126.33 598.48h0.5v0.5h-0.5zM125.29 592.46h0.5v0.5h-0.5zM123.47 594.47h0.5v0.5h-0.5zM114.85 602.2h0.5v0.5h-0.5zM132.41 599.14h0.5v0.5h-0.5z" fill="#ff9090" fill-opacity="0.6"/>
<rect x="109.6" y="584.3" width="52.4" height="52.4" fill="none" stroke="#9a9a9a" stroke-width="0.7"/>
<line x1="134.2" y1="584.3" x2="134.2" y2="636.7" stroke="#7a7a7a" stroke-width="0.8"/>
<line x1="109.6" y1="604.1" x2="162" y2="604.1" stroke="#7a7a7a" stroke-width="0.9"/>
<line x1="110.1" y1="605.4" x2="161.5" y2="605.4" stroke="#cfcfcf" stroke-width="0.5"/>
<text transform="translate(110.6 587.81) scale(0.88 1)" font-size="3.8" text-anchor="start" fill="#2a2a2a" font-weight="bold" font-family="Liberation Serif">C1: 1.42%</text>
<text transform="translate(161 587.81) scale(0.88 1)" font-size="3.8" text-anchor="end" fill="#2a2a2a" font-weight="bold" font-family="Liberation Serif">C2: 26.46%</text>
<text transform="translate(110.6 607.81) scale(0.88 1)" font-size="3.8" text-anchor="start" fill="#2a2a2a" font-weight="bold" font-family="Liberation Serif">C3: 32.59%</text>
<text transform="translate(161 607.81) scale(0.88 1)" font-size="3.8" text-anchor="end" fill="#2a2a2a" font-weight="bold" font-family="Liberation Serif">C4: 27.13%</text>
<line x1="108" y1="585.1" x2="109.6" y2="585.1" stroke="#666" stroke-width="0.5"/>
<line x1="108" y1="596.7" x2="109.6" y2="596.7" stroke="#666" stroke-width="0.5"/>
<line x1="108" y1="608.5" x2="109.6" y2="608.5" stroke="#666" stroke-width="0.5"/>
<line x1="108" y1="620.4" x2="109.6" y2="620.4" stroke="#666" stroke-width="0.5"/>
<line x1="108" y1="630.8" x2="109.6" y2="630.8" stroke="#666" stroke-width="0.5"/>
<line x1="108" y1="636.5" x2="109.6" y2="636.5" stroke="#666" stroke-width="0.5"/>
<line x1="115.1" y1="636.7" x2="115.1" y2="638.1" stroke="#666" stroke-width="0.5"/>
<line x1="125" y1="636.7" x2="125" y2="638.1" stroke="#666" stroke-width="0.5"/>
<line x1="136.6" y1="636.7" x2="136.6" y2="638.1" stroke="#666" stroke-width="0.5"/>
<line x1="149.3" y1="636.7" x2="149.3" y2="638.1" stroke="#666" stroke-width="0.5"/>
<line x1="160.8" y1="636.7" x2="160.8" y2="638.1" stroke="#666" stroke-width="0.5"/>
<text x="107.4" y="587.28" font-size="4.3" text-anchor="end" fill="#222">10<tspan font-size="3.01" dy="-1.72">3</tspan></text>
<text x="107.4" y="598.58" font-size="4.3" text-anchor="end" fill="#222">10<tspan font-size="3.01" dy="-1.72">2</tspan></text>
<text x="107.4" y="610.48" font-size="4.3" text-anchor="end" fill="#222">10<tspan font-size="3.01" dy="-1.72">1</tspan></text>
<text x="107.4" y="622.48" font-size="4.3" text-anchor="end" fill="#222">10<tspan font-size="3.01" dy="-1.72">0</tspan></text>
<text x="107" y="632.28" font-size="4.3" text-anchor="end" fill="#222" stroke="#222" stroke-width="0.11">0</text>
<text x="107.2" y="637.88" font-size="4.3" text-anchor="end" fill="#222" stroke="#222" stroke-width="0.11">-0.4</text>
<text x="115.1" y="643.68" font-size="4.3" text-anchor="middle" fill="#222" stroke="#222" stroke-width="0.11">0</text>
<text x="126" y="644.28" font-size="4.3" text-anchor="middle" fill="#222">10<tspan font-size="3.01" dy="-1.72">0</tspan></text>
<text x="137.6" y="644.28" font-size="4.3" text-anchor="middle" fill="#222">10<tspan font-size="3.01" dy="-1.72">1</tspan></text>
<text x="150.3" y="644.28" font-size="4.3" text-anchor="middle" fill="#222">10<tspan font-size="3.01" dy="-1.72">2</tspan></text>
<text x="161.8" y="644.28" font-size="4.3" text-anchor="middle" fill="#222">10<tspan font-size="3.01" dy="-1.72">3</tspan></text>
<line x1="22.7" y1="597" x2="22.7" y2="652.4" stroke="#000" stroke-width="0.9"/>
<line x1="22.7" y1="652.4" x2="77" y2="652.4" stroke="#000" stroke-width="0.9"/>
<path d="M22.7 594.3 L20.4 599.6 L25 599.6 Z" fill="#000"/>
<path d="M79.6 652.4 L74.3 650.1 L74.3 654.7 Z" fill="#000"/>
<text transform="translate(20.9 588.8) rotate(-90) scale(0.9 1)" x="0" y="1.72" font-size="5" text-anchor="middle" fill="#111" font-weight="bold">PI</text>
<text transform="translate(83.4 654.4) scale(0.71 1)" font-size="5.8" text-anchor="start" fill="#111" font-weight="bold">Annexin V-FITC</text>
<defs><filter id="bl" x="-20%" y="-100%" width="140%" height="300%"><feGaussianBlur stdDeviation="0.5"/></filter></defs>
<text x="181.1" y="497.33" font-size="12" text-anchor="start" fill="#000" font-weight="bold">F</text>
<text x="246.2" y="518.47" font-size="6.3" text-anchor="middle" fill="#111" stroke="#111" stroke-width="0.16">LP1</text>
<line x1="224.3" y1="521.1" x2="268.2" y2="521.1" stroke="#3a3a3a" stroke-width="1.15"/>
<text x="297.9" y="517.97" font-size="6.3" text-anchor="middle" fill="#111" stroke="#111" stroke-width="0.16">U266</text>
<line x1="275.4" y1="521" x2="320" y2="521" stroke="#3a3a3a" stroke-width="1.15"/>
<text x="215.7" y="529.88" font-size="6.05" text-anchor="end" fill="#111" stroke="#111" stroke-width="0.16">Erw-ASNase</text>
<text x="215.7" y="539.78" font-size="6.05" text-anchor="end" fill="#111" stroke="#111" stroke-width="0.16">Carfilzomib</text>
<rect x="227.2" y="527.5" width="1" height="1" fill="#444"/>
<rect x="227.2" y="537.4" width="1" height="1" fill="#444"/>
<line x1="237.55" y1="528" x2="241.05" y2="528" stroke="#1a1a1a" stroke-width="0.95"/>
<line x1="239.3" y1="526.25" x2="239.3" y2="529.75" stroke="#1a1a1a" stroke-width="0.95"/>
<rect x="238.8" y="537.4" width="1" height="1" fill="#444"/>
<rect x="249.9" y="527.5" width="1" height="1" fill="#444"/>
<line x1="248.65" y1="537.9" x2="252.15" y2="537.9" stroke="#1a1a1a" stroke-width="0.95"/>
<line x1="250.4" y1="536.15" x2="250.4" y2="539.65" stroke="#1a1a1a" stroke-width="0.95"/>
<line x1="260.65" y1="528" x2="264.15" y2="528" stroke="#1a1a1a" stroke-width="0.95"/>
<line x1="262.4" y1="526.25" x2="262.4" y2="529.75" stroke="#1a1a1a" stroke-width="0.95"/>
<line x1="260.65" y1="537.9" x2="264.15" y2="537.9" stroke="#1a1a1a" stroke-width="0.95"/>
<line x1="262.4" y1="536.15" x2="262.4" y2="539.65" stroke="#1a1a1a" stroke-width="0.95"/>
<rect x="279.2" y="527.5" width="1" height="1" fill="#444"/>
<rect x="279.2" y="537.4" width="1" height="1" fill="#444"/>
<line x1="289.45" y1="528" x2="292.95" y2="528" stroke="#1a1a1a" stroke-width="0.95"/>
<line x1="291.2" y1="526.25" x2="291.2" y2="529.75" stroke="#1a1a1a" stroke-width="0.95"/>
<rect x="290.7" y="537.4" width="1" height="1" fill="#444"/>
<rect x="301.8" y="527.5" width="1" height="1" fill="#444"/>
<line x1="300.55" y1="537.9" x2="304.05" y2="537.9" stroke="#1a1a1a" stroke-width="0.95"/>
<line x1="302.3" y1="536.15" x2="302.3" y2="539.65" stroke="#1a1a1a" stroke-width="0.95"/>
<line x1="313.15" y1="528" x2="316.65" y2="528" stroke="#1a1a1a" stroke-width="0.95"/>
<line x1="314.9" y1="526.25" x2="314.9" y2="529.75" stroke="#1a1a1a" stroke-width="0.95"/>
<line x1="313.15" y1="537.9" x2="316.65" y2="537.9" stroke="#1a1a1a" stroke-width="0.95"/>
<line x1="314.9" y1="536.15" x2="314.9" y2="539.65" stroke="#1a1a1a" stroke-width="0.95"/>
<rect x="221.3" y="543.5" width="50.4" height="18.6" fill="#e3e3e3" stroke="#3a3a3a" stroke-width="1"/>
<rect x="272.6" y="543.5" width="50.3" height="18.6" fill="#f3f3f3" stroke="#3a3a3a" stroke-width="1"/>
<rect x="221.3" y="565.3" width="50.4" height="27.5" fill="#f0f0f0" stroke="#3a3a3a" stroke-width="1"/>
<rect x="272.6" y="565.3" width="50.3" height="27.5" fill="#f6f6f6" stroke="#3a3a3a" stroke-width="1"/>
<rect x="221.3" y="596.3" width="50.4" height="16.5" fill="#e9e9e9" stroke="#3a3a3a" stroke-width="1"/>
<rect x="272.6" y="596.3" width="50.3" height="16.5" fill="#f3f3f3" stroke="#3a3a3a" stroke-width="1"/>
<rect x="221.3" y="615.8" width="50.4" height="8" fill="#f0f0f0" stroke="#3a3a3a" stroke-width="1"/>
<rect x="272.6" y="615.8" width="50.3" height="8" fill="#f4f4f4" stroke="#3a3a3a" stroke-width="1"/>
<path d="M228.1 550.52 C226.6 550.52 226.6 553.28 228.1 553.28 L234.7 553.28 C236.2 553.28 236.2 550.52 234.7 550.52 L228.1 550.52 C228.1 550.52 228.1 550.52 228.1 550.52 Z" fill="#1a1a1a" filter="url(#bl)"/>
<path d="M239.3 549.38 C237.8 549.38 237.8 552.02 239.3 552.02 L244.8 552.02 C246.3 552.02 246.3 549.38 244.8 549.38 L239.3 549.38 C239.3 549.38 239.3 549.38 239.3 549.38 Z" fill="#1e1e1e" filter="url(#bl)"/>
<path d="M250.3 549.08 C248.8 549.08 248.8 550.52 250.3 550.52 L254.8 550.52 C256.3 550.52 256.3 549.08 254.8 549.08 L250.3 549.08 C250.3 549.08 250.3 549.08 250.3 549.08 Z" fill="#bdbdbd" filter="url(#bl)"/>
<path d="M250.3 556.68 C248.8 556.68 248.8 558.12 250.3 558.12 L255.3 557.62 C256.8 557.62 256.8 556.18 255.3 556.18 L250.3 556.68 C250.3 556.68 250.3 556.68 250.3 556.68 Z" fill="#b0b0b0" filter="url(#bl)"/>
<path d="M259.9 554.1 C258.4 554.1 258.4 557.7 259.9 557.7 L267.7 556.5 C269.2 556.5 269.2 552.9 267.7 552.9 L259.9 554.1 C259.9 554.1 259.9 554.1 259.9 554.1 Z" fill="#0d0d0d" filter="url(#bl)"/>
<path d="M277.2 546.9 C275.7 546.9 275.7 549.3 277.2 549.3 L283.3 549.3 C284.8 549.3 284.8 546.9 283.3 546.9 L277.2 546.9 C277.2 546.9 277.2 546.9 277.2 546.9 Z" fill="#151515" filter="url(#bl)"/>
<path d="M288 547.1 C286.5 547.1 286.5 549.5 288 549.5 L294.5 549.5 C296 549.5 296 547.1 294.5 547.1 L288 547.1 C288 547.1 288 547.1 288 547.1 Z" fill="#151515" filter="url(#bl)"/>
<path d="M299 547.84 C297.5 547.84 297.5 549.76 299 549.76 L305.1 549.76 C306.6 549.76 306.6 547.84 305.1 547.84 L299 547.84 C299 547.84 299 547.84 299 547.84 Z" fill="#6a6a6a" filter="url(#bl)"/>
<path d="M288 554.98 C286.5 554.98 286.5 556.42 288 556.42 L294.5 556.42 C296 556.42 296 554.98 294.5 554.98 L288 554.98 C288 554.98 288 554.98 288 554.98 Z" fill="#cfcfcf" filter="url(#bl)"/>
<path d="M299 554.5 C297.5 554.5 297.5 556.9 299 556.9 L305.9 556.9 C307.4 556.9 307.4 554.5 305.9 554.5 L299 554.5 C299 554.5 299 554.5 299 554.5 Z" fill="#1c1c1c" filter="url(#bl)"/>
<path d="M309.6 554.58 C308.1 554.58 308.1 557.22 309.6 557.22 L318.2 557.22 C319.7 557.22 319.7 554.58 318.2 554.58 L309.6 554.58 C309.6 554.58 309.6 554.58 309.6 554.58 Z" fill="#121212" filter="url(#bl)"/>
<path d="M309.6 548.2 C308.1 548.2 308.1 549.4 309.6 549.4 L318.2 549.4 C319.7 549.4 319.7 548.2 318.2 548.2 L309.6 548.2 C309.6 548.2 309.6 548.2 309.6 548.2 Z" fill="#dddddd" filter="url(#bl)"/>
<path d="M227.5 567.32 C226 567.32 226 570.08 227.5 570.08 L234.8 570.08 C236.3 570.08 236.3 567.32 234.8 567.32 L227.5 567.32 C227.5 567.32 227.5 567.32 227.5 567.32 Z" fill="#111" filter="url(#bl)"/>
<path d="M238.5 567.68 C237 567.68 237 570.32 238.5 570.32 L245.5 570.32 C247 570.32 247 567.68 245.5 567.68 L238.5 567.68 C238.5 567.68 238.5 567.68 238.5 567.68 Z" fill="#151515" filter="url(#bl)"/>
<path d="M249 567.74 C247.5 567.74 247.5 570.26 249 570.26 L255.5 570.26 C257 570.26 257 567.74 255.5 567.74 L249 567.74 C249 567.74 249 567.74 249 567.74 Z" fill="#1a1a1a" filter="url(#bl)"/>
<path d="M259.5 567.88 C258 567.88 258 569.92 259.5 569.92 L266.5 569.32 C268 569.32 268 567.28 266.5 567.28 L259.5 567.88 C259.5 567.88 259.5 567.88 259.5 567.88 Z" fill="#5a5a5a" filter="url(#bl)"/>
<path d="M259.5 574.4 C258 574.4 258 575.6 259.5 575.6 L266.5 575.6 C268 575.6 268 574.4 266.5 574.4 L259.5 574.4 C259.5 574.4 259.5 574.4 259.5 574.4 Z" fill="#dedede" filter="url(#bl)"/>
<path d="M249.5 580.9 C248 580.9 248 582.1 249.5 582.1 L255.5 582.1 C257 582.1 257 580.9 255.5 580.9 L249.5 580.9 C249.5 580.9 249.5 580.9 249.5 580.9 Z" fill="#d5d5d5" filter="url(#bl)"/>
<path d="M255.5 580.16 C254 580.16 254 581.84 255.5 581.84 L262.5 580.84 C264 580.84 264 579.16 262.5 579.16 L255.5 580.16 C255.5 580.16 255.5 580.16 255.5 580.16 Z" fill="#8a8a8a" filter="url(#bl)"/>
<path d="M247.5 585.68 C246 585.68 246 587.12 247.5 587.12 L254.5 587.12 C256 587.12 256 585.68 254.5 585.68 L247.5 585.68 C247.5 585.68 247.5 585.68 247.5 585.68 Z" fill="#b5b5b5" filter="url(#bl)"/>
<path d="M257.5 584.6 C256 584.6 256 587 257.5 587 L263 586 C264.5 586 264.5 583.6 263 583.6 L257.5 584.6 C257.5 584.6 257.5 584.6 257.5 584.6 Z" fill="#2e2e2e" filter="url(#bl)"/>
<path d="M229.5 586.26 C228 586.26 228 587.34 229.5 587.34 L243.5 587.34 C245 587.34 245 586.26 243.5 586.26 L229.5 586.26 C229.5 586.26 229.5 586.26 229.5 586.26 Z" fill="#e4e4e4" filter="url(#bl)"/>
<path d="M277 566.88 C275.5 566.88 275.5 569.52 277 569.52 L283.5 569.52 C285 569.52 285 566.88 283.5 566.88 L277 566.88 C277 566.88 277 566.88 277 566.88 Z" fill="#141414" filter="url(#bl)"/>
<path d="M287.5 566.88 C286 566.88 286 569.52 287.5 569.52 L294.5 569.52 C296 569.52 296 566.88 294.5 566.88 L287.5 566.88 C287.5 566.88 287.5 566.88 287.5 566.88 Z" fill="#141414" filter="url(#bl)"/>
<path d="M298.5 567.06 C297 567.06 297 569.34 298.5 569.34 L305.3 569.34 C306.8 569.34 306.8 567.06 305.3 567.06 L298.5 567.06 C298.5 567.06 298.5 567.06 298.5 567.06 Z" fill="#444" filter="url(#bl)"/>
<path d="M310 566.92 C308.5 566.92 308.5 569.08 310 569.08 L318 569.08 C319.5 569.08 319.5 566.92 318 566.92 L310 566.92 C310 566.92 310 566.92 310 566.92 Z" fill="#777" filter="url(#bl)"/>
<path d="M299 572.98 C297.5 572.98 297.5 575.62 299 575.62 L305.5 575.62 C307 575.62 307 572.98 305.5 572.98 L299 572.98 C299 572.98 299 572.98 299 572.98 Z" fill="#222" filter="url(#bl)"/>
<path d="M310 572.74 C308.5 572.74 308.5 575.86 310 575.86 L318.2 575.86 C319.7 575.86 319.7 572.74 318.2 572.74 L310 572.74 C310 572.74 310 572.74 310 572.74 Z" fill="#0f0f0f" filter="url(#bl)"/>
<path d="M299 581.22 C297.5 581.22 297.5 582.78 299 582.78 L305.5 582.78 C307 582.78 307 581.22 305.5 581.22 L299 581.22 C299 581.22 299 581.22 299 581.22 Z" fill="#bbbbbb" filter="url(#bl)"/>
<path d="M310 581.22 C308.5 581.22 308.5 582.78 310 582.78 L318.2 582.78 C319.7 582.78 319.7 581.22 318.2 581.22 L310 581.22 C310 581.22 310 581.22 310 581.22 Z" fill="#b5b5b5" filter="url(#bl)"/>
<path d="M277 586 C275.5 586 275.5 587.2 277 587.2 L283.5 587.2 C285 587.2 285 586 283.5 586 L277 586 C277 586 277 586 277 586 Z" fill="#dadada" filter="url(#bl)"/>
<path d="M287.5 586 C286 586 286 587.2 287.5 587.2 L294.5 587.2 C296 587.2 296 586 294.5 586 L287.5 586 C287.5 586 287.5 586 287.5 586 Z" fill="#d0d0d0" filter="url(#bl)"/>
<path d="M299 585.2 C297.5 585.2 297.5 587.6 299 587.6 L305.5 587.6 C307 587.6 307 585.2 305.5 585.2 L299 585.2 C299 585.2 299 585.2 299 585.2 Z" fill="#333" filter="url(#bl)"/>
<path d="M310 584.64 C308.5 584.64 308.5 587.76 310 587.76 L318.2 587.76 C319.7 587.76 319.7 584.64 318.2 584.64 L310 584.64 C310 584.64 310 584.64 310 584.64 Z" fill="#0f0f0f" filter="url(#bl)"/>
<path d="M226 601.4 C224.5 601.4 224.5 603.8 226 603.8 L234.5 603.8 C236 603.8 236 601.4 234.5 601.4 L226 601.4 C226 601.4 226 601.4 226 601.4 Z" fill="#1f1f1f" filter="url(#bl)"/>
<path d="M238 601.5 C236.5 601.5 236.5 603.9 238 603.9 L245.5 603.9 C247 603.9 247 601.5 245.5 601.5 L238 601.5 C238 601.5 238 601.5 238 601.5 Z" fill="#222" filter="url(#bl)"/>
<path d="M249 601.82 C247.5 601.82 247.5 603.98 249 603.98 L255.5 603.98 C257 603.98 257 601.82 255.5 601.82 L249 601.82 C249 601.82 249 601.82 249 601.82 Z" fill="#4a4a4a" filter="url(#bl)"/>
<path d="M259.5 601.42 C258 601.42 258 603.58 259.5 603.58 L267 603.08 C268.5 603.08 268.5 600.92 267 600.92 L259.5 601.42 C259.5 601.42 259.5 601.42 259.5 601.42 Z" fill="#505050" filter="url(#bl)"/>
<path d="M226 606.94 C224.5 606.94 224.5 608.26 226 608.26 L245.5 608.26 C247 608.26 247 606.94 245.5 606.94 L226 606.94 C226 606.94 226 606.94 226 606.94 Z" fill="#bdbdbd" filter="url(#bl)"/>
<path d="M248.2 606.86 C246.7 606.86 246.7 609.14 248.2 609.14 L255.5 609.14 C257 609.14 257 606.86 255.5 606.86 L248.2 606.86 C248.2 606.86 248.2 606.86 248.2 606.86 Z" fill="#2e2e2e" filter="url(#bl)"/>
<path d="M259 606.3 C257.5 606.3 257.5 608.7 259 608.7 L266.4 608.1 C267.9 608.1 267.9 605.7 266.4 605.7 L259 606.3 C259 606.3 259 606.3 259 606.3 Z" fill="#2a2a2a" filter="url(#bl)"/>
<path d="M277 599.46 C275.5 599.46 275.5 601.74 277 601.74 L284 601.74 C285.5 601.74 285.5 599.46 284 599.46 L277 599.46 C277 599.46 277 599.46 277 599.46 Z" fill="#1a1a1a" filter="url(#bl)"/>
<path d="M287.5 599.46 C286 599.46 286 601.74 287.5 601.74 L295 601.74 C296.5 601.74 296.5 599.46 295 599.46 L287.5 599.46 C287.5 599.46 287.5 599.46 287.5 599.46 Z" fill="#1a1a1a" filter="url(#bl)"/>
<path d="M298.5 599.56 C297 599.56 297 601.84 298.5 601.84 L305.5 601.84 C307 601.84 307 599.56 305.5 599.56 L298.5 599.56 C298.5 599.56 298.5 599.56 298.5 599.56 Z" fill="#262626" filter="url(#bl)"/>
<path d="M309.5 599.5 C308 599.5 308 601.3 309.5 601.3 L317.5 601.3 C319 601.3 319 599.5 317.5 599.5 L309.5 599.5 C309.5 599.5 309.5 599.5 309.5 599.5 Z" fill="#9a9a9a" filter="url(#bl)"/>
<path d="M277 604.2 C275.5 604.2 275.5 605.4 277 605.4 L295 605.4 C296.5 605.4 296.5 604.2 295 604.2 L277 604.2 C277 604.2 277 604.2 277 604.2 Z" fill="#b8b8b8" filter="url(#bl)"/>
<path d="M298.5 603.66 C297 603.66 297 605.94 298.5 605.94 L306 605.94 C307.5 605.94 307.5 603.66 306 603.66 L298.5 603.66 C298.5 603.66 298.5 603.66 298.5 603.66 Z" fill="#2a2a2a" filter="url(#bl)"/>
<path d="M309.5 603.4 C308 603.4 308 605.8 309.5 605.8 L318 605.8 C319.5 605.8 319.5 603.4 318 603.4 L309.5 603.4 C309.5 603.4 309.5 603.4 309.5 603.4 Z" fill="#1a1a1a" filter="url(#bl)"/>
<path d="M298.5 607.7 C297 607.7 297 609.5 298.5 609.5 L306 609.5 C307.5 609.5 307.5 607.7 306 607.7 L298.5 607.7 C298.5 607.7 298.5 607.7 298.5 607.7 Z" fill="#666" filter="url(#bl)"/>
<path d="M309.5 607.6 C308 607.6 308 609.4 309.5 609.4 L318 609.4 C319.5 609.4 319.5 607.6 318 607.6 L309.5 607.6 C309.5 607.6 309.5 607.6 309.5 607.6 Z" fill="#5a5a5a" filter="url(#bl)"/>
<path d="M225.5 618.8 C224 618.8 224 621.2 225.5 621.2 L267 621.2 C268.5 621.2 268.5 618.8 267 618.8 L225.5 618.8 C225.5 618.8 225.5 618.8 225.5 618.8 Z" fill="#1a1a1a" filter="url(#bl)"/>
<path d="M276.5 618.46 C275 618.46 275 620.74 276.5 620.74 L318 620.34 C319.5 620.34 319.5 618.06 318 618.06 L276.5 618.46 C276.5 618.46 276.5 618.46 276.5 618.46 Z" fill="#1c1c1c" filter="url(#bl)"/>
<text x="211.6" y="549.87" font-size="6.3" text-anchor="end" fill="#111" stroke="#111" stroke-width="0.16">PARP</text>
<path d="M214.8 545.2 L221 547.7 L214.8 550.2 L216.5 547.7 Z" fill="#000"/>
<text x="211.6" y="558.87" font-size="6.3" text-anchor="end" fill="#111" stroke="#111" stroke-width="0.16">CF</text>
<path d="M214.8 554.2 L221 556.7 L214.8 559.2 L216.5 556.7 Z" fill="#000"/>
<text x="211.6" y="571.07" font-size="6.3" text-anchor="end" fill="#111" stroke="#111" stroke-width="0.16">Caspase 3</text>
<path d="M214.8 566.4 L221 568.9 L214.8 571.4 L216.5 568.9 Z" fill="#000"/>
<text x="211.6" y="583.77" font-size="6.3" text-anchor="end" fill="#111" stroke="#111" stroke-width="0.16">CF</text>
<path d="M214.8 579.1 L221 581.6 L214.8 584.1 L216.5 581.6 Z" fill="#000"/>
<text x="211.6" y="590.17" font-size="6.3" text-anchor="end" fill="#111" stroke="#111" stroke-width="0.16">CF</text>
<path d="M214.8 585.5 L221 588 L214.8 590.5 L216.5 588 Z" fill="#000"/>
<text x="211.6" y="602.57" font-size="6.3" text-anchor="end" fill="#111" stroke="#111" stroke-width="0.16">Caspase 9</text>
<path d="M214.8 597.9 L221 600.4 L214.8 602.9 L216.5 600.4 Z" fill="#000"/>
<text x="211.6" y="611.77" font-size="6.3" text-anchor="end" fill="#111" stroke="#111" stroke-width="0.16">CF</text>
<path d="M214.8 607.1 L221 609.6 L214.8 612.1 L216.5 609.6 Z" fill="#000"/>
<text x="211.6" y="622.57" font-size="6.3" text-anchor="end" fill="#111" stroke="#111" stroke-width="0.16">GAPDH</text>
<path d="M214.8 617.9 L221 620.4 L214.8 622.9 L216.5 620.4 Z" fill="#000"/>
<text x="338.1" y="497.33" font-size="12" text-anchor="start" fill="#000" font-weight="bold">G</text>
<text x="467.5" y="517.96" font-size="6" text-anchor="middle" fill="#111" stroke="#111" stroke-width="0.16">+Carfilzomib</text>
<line x1="439.6" y1="521.2" x2="494.8" y2="521.2" stroke="#333" stroke-width="1.3"/>
<text x="371.2" y="530.06" font-size="6" text-anchor="end" fill="#111" stroke="#111" stroke-width="0.16">L-Gln</text>
<text x="371.2" y="539.76" font-size="6" text-anchor="end" fill="#111" stroke="#111" stroke-width="0.16">L-Asn</text>
<line x1="386.35" y1="527.9" x2="389.85" y2="527.9" stroke="#1a1a1a" stroke-width="0.95"/>
<line x1="388.1" y1="526.15" x2="388.1" y2="529.65" stroke="#1a1a1a" stroke-width="0.95"/>
<line x1="386.35" y1="537.9" x2="389.85" y2="537.9" stroke="#1a1a1a" stroke-width="0.95"/>
<line x1="388.1" y1="536.15" x2="388.1" y2="539.65" stroke="#1a1a1a" stroke-width="0.95"/>
<line x1="400.65" y1="527.9" x2="404.15" y2="527.9" stroke="#1a1a1a" stroke-width="0.95"/>
<line x1="402.4" y1="526.15" x2="402.4" y2="529.65" stroke="#1a1a1a" stroke-width="0.95"/>
<rect x="401.9" y="537.4" width="1" height="1" fill="#444"/>
<rect x="415.8" y="527.4" width="1" height="1" fill="#444"/>
<line x1="414.55" y1="537.9" x2="418.05" y2="537.9" stroke="#1a1a1a" stroke-width="0.95"/>
<line x1="416.3" y1="536.15" x2="416.3" y2="539.65" stroke="#1a1a1a" stroke-width="0.95"/>
<rect x="430.3" y="527.4" width="1" height="1" fill="#444"/>
<rect x="430.3" y="537.4" width="1" height="1" fill="#444"/>
<line x1="444.05" y1="527.9" x2="447.55" y2="527.9" stroke="#1a1a1a" stroke-width="0.95"/>
<line x1="445.8" y1="526.15" x2="445.8" y2="529.65" stroke="#1a1a1a" stroke-width="0.95"/>
<line x1="444.05" y1="537.9" x2="447.55" y2="537.9" stroke="#1a1a1a" stroke-width="0.95"/>
<line x1="445.8" y1="536.15" x2="445.8" y2="539.65" stroke="#1a1a1a" stroke-width="0.95"/>
<line x1="458.35" y1="527.9" x2="461.85" y2="527.9" stroke="#1a1a1a" stroke-width="0.95"/>
<line x1="460.1" y1="526.15" x2="460.1" y2="529.65" stroke="#1a1a1a" stroke-width="0.95"/>
<rect x="459.6" y="537.4" width="1" height="1" fill="#444"/>
<rect x="473.5" y="527.4" width="1" height="1" fill="#444"/>
<line x1="472.25" y1="537.9" x2="475.75" y2="537.9" stroke="#1a1a1a" stroke-width="0.95"/>
<line x1="474" y1="536.15" x2="474" y2="539.65" stroke="#1a1a1a" stroke-width="0.95"/>
<rect x="488" y="527.4" width="1" height="1" fill="#444"/>
<rect x="488" y="537.4" width="1" height="1" fill="#444"/>
<rect x="378.5" y="544.5" width="118.7" height="22.6" fill="#fbfbfb" stroke="#8a8a8a" stroke-width="1"/>
<rect x="378.5" y="569.4" width="118.7" height="34.4" fill="#f8f8f8" stroke="#8a8a8a" stroke-width="1"/>
<rect x="378.5" y="606.5" width="118.7" height="19.3" fill="#fbfbfb" stroke="#8a8a8a" stroke-width="1"/>
<path d="M385.7 549.92 C384.2 549.92 384.2 553.08 385.7 553.08 L394.9 553.08 C396.4 553.08 396.4 549.92 394.9 549.92 L385.7 549.92 C385.7 549.92 385.7 549.92 385.7 549.92 Z" fill="#0a0a0a" filter="url(#bl)"/>
<path d="M399.8 549.92 C398.3 549.92 398.3 553.08 399.8 553.08 L408.1 553.08 C409.6 553.08 409.6 549.92 408.1 549.92 L399.8 549.92 C399.8 549.92 399.8 549.92 399.8 549.92 Z" fill="#0a0a0a" filter="url(#bl)"/>
<path d="M413.1 549.92 C411.6 549.92 411.6 553.08 413.1 553.08 L421.7 553.08 C423.2 553.08 423.2 549.92 421.7 549.92 L413.1 549.92 C413.1 549.92 413.1 549.92 413.1 549.92 Z" fill="#0c0c0c" filter="url(#bl)"/>
<path d="M427 550.35 C425.5 550.35 425.5 552.65 427 552.65 L434.6 552.65 C436.1 552.65 436.1 550.35 434.6 550.35 L427 550.35 C427 550.35 427 550.35 427 550.35 Z" fill="#1a1a1a" filter="url(#bl)"/>
<path d="M440.6 550.66 C439.1 550.66 439.1 552.34 440.6 552.34 L448.4 552.34 C449.9 552.34 449.9 550.66 448.4 550.66 L440.6 550.66 C440.6 550.66 440.6 550.66 440.6 550.66 Z" fill="#9a9a9a" filter="url(#bl)"/>
<path d="M453.9 550.5 C452.4 550.5 452.4 552.5 453.9 552.5 L461.3 552.5 C462.8 552.5 462.8 550.5 461.3 550.5 L453.9 550.5 C453.9 550.5 453.9 550.5 453.9 550.5 Z" fill="#444" filter="url(#bl)"/>
<path d="M467.4 550.87 C465.9 550.87 465.9 552.13 467.4 552.13 L474.9 552.13 C476.4 552.13 476.4 550.87 474.9 550.87 L467.4 550.87 C467.4 550.87 467.4 550.87 467.4 550.87 Z" fill="#cccccc" filter="url(#bl)"/>
<path d="M481.3 550.98 C479.8 550.98 479.8 552.02 481.3 552.02 L489.1 552.02 C490.6 552.02 490.6 550.98 489.1 550.98 L481.3 550.98 C481.3 550.98 481.3 550.98 481.3 550.98 Z" fill="#eeeeee" filter="url(#bl)"/>
<path d="M385.7 559.62 C384.2 559.62 384.2 560.98 385.7 560.98 L394.9 560.98 C396.4 560.98 396.4 559.62 394.9 559.62 L385.7 559.62 C385.7 559.62 385.7 559.62 385.7 559.62 Z" fill="#dddddd" filter="url(#bl)"/>
<path d="M399.8 559.51 C398.3 559.51 398.3 561.09 399.8 561.09 L408.1 561.09 C409.6 561.09 409.6 559.51 408.1 559.51 L399.8 559.51 C399.8 559.51 399.8 559.51 399.8 559.51 Z" fill="#bbbbbb" filter="url(#bl)"/>
<path d="M413.1 558.93 C411.6 558.93 411.6 561.66 413.1 561.66 L421.7 561.66 C423.2 561.66 423.2 558.93 421.7 558.93 L413.1 558.93 C413.1 558.93 413.1 558.93 413.1 558.93 Z" fill="#1a1a1a" filter="url(#bl)"/>
<path d="M427 558.88 C425.5 558.88 425.5 561.72 427 561.72 L434.6 561.72 C436.1 561.72 436.1 558.88 434.6 558.88 L427 558.88 C427 558.88 427 558.88 427 558.88 Z" fill="#111" filter="url(#bl)"/>
<path d="M440.6 558.93 C439.1 558.93 439.1 561.66 440.6 561.66 L448.4 561.66 C449.9 561.66 449.9 558.93 448.4 558.93 L440.6 558.93 C440.6 558.93 440.6 558.93 440.6 558.93 Z" fill="#1a1a1a" filter="url(#bl)"/>
<path d="M453.9 558.93 C452.4 558.93 452.4 561.66 453.9 561.66 L461.3 561.66 C462.8 561.66 462.8 558.93 461.3 558.93 L453.9 558.93 C453.9 558.93 453.9 558.93 453.9 558.93 Z" fill="#1a1a1a" filter="url(#bl)"/>
<path d="M467.4 559.04 C465.9 559.04 465.9 561.56 467.4 561.56 L474.9 561.56 C476.4 561.56 476.4 559.04 474.9 559.04 L467.4 559.04 C467.4 559.04 467.4 559.04 467.4 559.04 Z" fill="#2a2a2a" filter="url(#bl)"/>
<path d="M481.3 559.2 C479.8 559.2 479.8 561.4 481.3 561.4 L489.1 561.4 C490.6 561.4 490.6 559.2 489.1 559.2 L481.3 559.2 C481.3 559.2 481.3 559.2 481.3 559.2 Z" fill="#3a3a3a" filter="url(#bl)"/>
<path d="M388.4 572.82 C386.9 572.82 386.9 576.38 388.4 576.38 L397.9 576.38 C399.4 576.38 399.4 572.82 397.9 572.82 L388.4 572.82 C388.4 572.82 388.4 572.82 388.4 572.82 Z" fill="#050505" filter="url(#bl)"/>
<path d="M402.3 572.92 C400.8 572.92 400.8 576.28 402.3 576.28 L410.1 576.28 C411.6 576.28 411.6 572.92 410.1 572.92 L402.3 572.92 C402.3 572.92 402.3 572.92 402.3 572.92 Z" fill="#080808" filter="url(#bl)"/>
<path d="M414.9 572.82 C413.4 572.82 413.4 576.38 414.9 576.38 L423 576.38 C424.5 576.38 424.5 572.82 423 572.82 L414.9 572.82 C414.9 572.82 414.9 572.82 414.9 572.82 Z" fill="#080808" filter="url(#bl)"/>
<path d="M427.4 572.87 C425.9 572.87 425.9 576.33 427.4 576.33 L435.2 576.33 C436.7 576.33 436.7 572.87 435.2 572.87 L427.4 572.87 C427.4 572.87 427.4 572.87 427.4 572.87 Z" fill="#0a0a0a" filter="url(#bl)"/>
<path d="M439.6 573.24 C438.1 573.24 438.1 575.97 439.6 575.97 L447.5 575.97 C449 575.97 449 573.24 447.5 573.24 L439.6 573.24 C439.6 573.24 439.6 573.24 439.6 573.24 Z" fill="#151515" filter="url(#bl)"/>
<path d="M451.5 573.13 C450 573.13 450 576.07 451.5 576.07 L460.5 576.07 C462 576.07 462 573.13 460.5 573.13 L451.5 573.13 C451.5 573.13 451.5 573.13 451.5 573.13 Z" fill="#0f0f0f" filter="url(#bl)"/>
<path d="M464.5 573.24 C463 573.24 463 575.97 464.5 575.97 L472 575.97 C473.5 575.97 473.5 573.24 472 573.24 L464.5 573.24 C464.5 573.24 464.5 573.24 464.5 573.24 Z" fill="#151515" filter="url(#bl)"/>
<path d="M476.5 573.34 C475 573.34 475 575.86 476.5 575.86 L485.5 575.86 C487 575.86 487 573.34 485.5 573.34 L476.5 573.34 C476.5 573.34 476.5 573.34 476.5 573.34 Z" fill="#333" filter="url(#bl)"/>
<path d="M439.6 581.27 C438.1 581.27 438.1 582.32 439.6 582.32 L447.5 582.32 C449 582.32 449 581.27 447.5 581.27 L439.6 581.27 C439.6 581.27 439.6 581.27 439.6 581.27 Z" fill="#eeeeee" filter="url(#bl)"/>
<path d="M451.5 581.27 C450 581.27 450 582.32 451.5 582.32 L460.5 582.32 C462 582.32 462 581.27 460.5 581.27 L451.5 581.27 C451.5 581.27 451.5 581.27 451.5 581.27 Z" fill="#eeeeee" filter="url(#bl)"/>
<path d="M464.5 581.01 C463 581.01 463 582.59 464.5 582.59 L472 582.59 C473.5 582.59 473.5 581.01 472 581.01 L464.5 581.01 C464.5 581.01 464.5 581.01 464.5 581.01 Z" fill="#a5a5a5" filter="url(#bl)"/>
<path d="M476.5 580.91 C475 580.91 475 582.69 476.5 582.69 L485.5 582.69 C487 582.69 487 580.91 485.5 580.91 L476.5 580.91 C476.5 580.91 476.5 580.91 476.5 580.91 Z" fill="#707070" filter="url(#bl)"/>
<path d="M388.4 590.06 C386.9 590.06 386.9 591.53 388.4 591.53 L397.9 591.53 C399.4 591.53 399.4 590.06 397.9 590.06 L388.4 590.06 C388.4 590.06 388.4 590.06 388.4 590.06 Z" fill="#f0f0f0" filter="url(#bl)"/>
<path d="M402.3 590.06 C400.8 590.06 400.8 591.53 402.3 591.53 L410.1 591.53 C411.6 591.53 411.6 590.06 410.1 590.06 L402.3 590.06 C402.3 590.06 402.3 590.06 402.3 590.06 Z" fill="#f0f0f0" filter="url(#bl)"/>
<path d="M414.9 590.06 C413.4 590.06 413.4 591.53 414.9 591.53 L423 591.53 C424.5 591.53 424.5 590.06 423 590.06 L414.9 590.06 C414.9 590.06 414.9 590.06 414.9 590.06 Z" fill="#eeeeee" filter="url(#bl)"/>
<path d="M427.4 590.06 C425.9 590.06 425.9 591.53 427.4 591.53 L435.2 591.53 C436.7 591.53 436.7 590.06 435.2 590.06 L427.4 590.06 C427.4 590.06 427.4 590.06 427.4 590.06 Z" fill="#eeeeee" filter="url(#bl)"/>
<path d="M439.6 590.06 C438.1 590.06 438.1 591.53 439.6 591.53 L447.5 591.53 C449 591.53 449 590.06 447.5 590.06 L439.6 590.06 C439.6 590.06 439.6 590.06 439.6 590.06 Z" fill="#b8b8b8" filter="url(#bl)"/>
<path d="M451.5 590.06 C450 590.06 450 591.53 451.5 591.53 L460.5 591.53 C462 591.53 462 590.06 460.5 590.06 L451.5 590.06 C451.5 590.06 451.5 590.06 451.5 590.06 Z" fill="#c5c5c5" filter="url(#bl)"/>
<path d="M464.5 590.06 C463 590.06 463 591.53 464.5 591.53 L472 591.53 C473.5 591.53 473.5 590.06 472 590.06 L464.5 590.06 C464.5 590.06 464.5 590.06 464.5 590.06 Z" fill="#d8d8d8" filter="url(#bl)"/>
<path d="M476.5 590.06 C475 590.06 475 591.53 476.5 591.53 L485.5 591.53 C487 591.53 487 590.06 485.5 590.06 L476.5 590.06 C476.5 590.06 476.5 590.06 476.5 590.06 Z" fill="#dcdcdc" filter="url(#bl)"/>
<path d="M414.9 594.87 C413.4 594.87 413.4 596.13 414.9 596.13 L423 596.13 C424.5 596.13 424.5 594.87 423 594.87 L414.9 594.87 C414.9 594.87 414.9 594.87 414.9 594.87 Z" fill="#dddddd" filter="url(#bl)"/>
<path d="M427.4 594.76 C425.9 594.76 425.9 596.24 427.4 596.24 L435.2 596.24 C436.7 596.24 436.7 594.76 435.2 594.76 L427.4 594.76 C427.4 594.76 427.4 594.76 427.4 594.76 Z" fill="#b5b5b5" filter="url(#bl)"/>
<path d="M439.6 594.55 C438.1 594.55 438.1 596.45 439.6 596.45 L447.5 596.45 C449 596.45 449 594.55 447.5 594.55 L439.6 594.55 C439.6 594.55 439.6 594.55 439.6 594.55 Z" fill="#7a7a7a" filter="url(#bl)"/>
<path d="M451.5 594.66 C450 594.66 450 596.34 451.5 596.34 L460.5 596.34 C462 596.34 462 594.66 460.5 594.66 L451.5 594.66 C451.5 594.66 451.5 594.66 451.5 594.66 Z" fill="#9a9a9a" filter="url(#bl)"/>
<path d="M464.5 594.24 C463 594.24 463 596.76 464.5 596.76 L472 596.76 C473.5 596.76 473.5 594.24 472 594.24 L464.5 594.24 C464.5 594.24 464.5 594.24 464.5 594.24 Z" fill="#2a2a2a" filter="url(#bl)"/>
<path d="M476.5 593.92 C475 593.92 475 597.08 476.5 597.08 L485.5 597.08 C487 597.08 487 593.92 485.5 593.92 L476.5 593.92 C476.5 593.92 476.5 593.92 476.5 593.92 Z" fill="#0a0a0a" filter="url(#bl)"/>
<path d="M390.6 614.29 C389.1 614.29 389.1 616.91 390.6 616.91 L401.2 616.91 C402.7 616.91 402.7 614.29 401.2 614.29 L390.6 614.29 C390.6 614.29 390.6 614.29 390.6 614.29 Z" fill="#111" filter="url(#bl)"/>
<path d="M403.2 614.29 C401.7 614.29 401.7 616.91 403.2 616.91 L413.1 616.91 C414.6 616.91 414.6 614.29 413.1 614.29 L403.2 614.29 C403.2 614.29 403.2 614.29 403.2 614.29 Z" fill="#111" filter="url(#bl)"/>
<path d="M415.9 614.29 C414.4 614.29 414.4 616.91 415.9 616.91 L426.1 616.91 C427.6 616.91 427.6 614.29 426.1 614.29 L415.9 614.29 C415.9 614.29 415.9 614.29 415.9 614.29 Z" fill="#111" filter="url(#bl)"/>
<path d="M428.2 614.29 C426.7 614.29 426.7 616.91 428.2 616.91 L437.6 616.91 C439.1 616.91 439.1 614.29 437.6 614.29 L428.2 614.29 C428.2 614.29 428.2 614.29 428.2 614.29 Z" fill="#111" filter="url(#bl)"/>
<path d="M439.9 614.29 C438.4 614.29 438.4 616.91 439.9 616.91 L448.6 616.91 C450.1 616.91 450.1 614.29 448.6 614.29 L439.9 614.29 C439.9 614.29 439.9 614.29 439.9 614.29 Z" fill="#111" filter="url(#bl)"/>
<path d="M450.9 614.29 C449.4 614.29 449.4 616.91 450.9 616.91 L461.1 616.91 C462.6 616.91 462.6 614.29 461.1 614.29 L450.9 614.29 C450.9 614.29 450.9 614.29 450.9 614.29 Z" fill="#111" filter="url(#bl)"/>
<path d="M463.4 614.29 C461.9 614.29 461.9 616.91 463.4 616.91 L473.6 616.91 C475.1 616.91 475.1 614.29 473.6 614.29 L463.4 614.29 C463.4 614.29 463.4 614.29 463.4 614.29 Z" fill="#111" filter="url(#bl)"/>
<path d="M475.9 614.29 C474.4 614.29 474.4 616.91 475.9 616.91 L486.6 616.91 C488.1 616.91 488.1 614.29 486.6 614.29 L475.9 614.29 C475.9 614.29 475.9 614.29 475.9 614.29 Z" fill="#111" filter="url(#bl)"/>
<text x="365.7" y="553.67" font-size="6.3" text-anchor="end" fill="#111" stroke="#111" stroke-width="0.16">PARP</text>
<path d="M368.9 549 L375.1 551.5 L368.9 554 L370.6 551.5 Z" fill="#000"/>
<text x="365.7" y="563.17" font-size="6.3" text-anchor="end" fill="#111" stroke="#111" stroke-width="0.16">CF</text>
<path d="M368.9 558.5 L375.1 561 L368.9 563.5 L370.6 561 Z" fill="#000"/>
<text x="365.7" y="578.17" font-size="6.3" text-anchor="end" fill="#111" stroke="#111" stroke-width="0.16">Caspase3</text>
<path d="M368.9 573.5 L375.1 576 L368.9 578.5 L370.6 576 Z" fill="#000"/>
<text x="365.7" y="593.07" font-size="6.3" text-anchor="end" fill="#111" stroke="#111" stroke-width="0.16">CF</text>
<path d="M368.9 588.4 L375.1 590.9 L368.9 593.4 L370.6 590.9 Z" fill="#000"/>
<text x="365.7" y="598.87" font-size="6.3" text-anchor="end" fill="#111" stroke="#111" stroke-width="0.16">CF</text>
<path d="M368.9 594.2 L375.1 596.7 L368.9 599.2 L370.6 596.7 Z" fill="#000"/>
<text x="365.7" y="615.07" font-size="6.3" text-anchor="end" fill="#111" stroke="#111" stroke-width="0.16">GAPDH</text>
<path d="M368.9 610.4 L375.1 612.9 L368.9 615.4 L370.6 612.9 Z" fill="#000"/>
<rect x="0" y="0" width="1.1" height="663" fill="#000"/>
<rect x="518.9" y="0" width="1.1" height="663" fill="#000"/>
<rect x="0" y="0" width="520" height="1" fill="#000"/>
<rect x="0" y="661.7" width="520" height="1.3" fill="#000"/>
</svg></body></html>
